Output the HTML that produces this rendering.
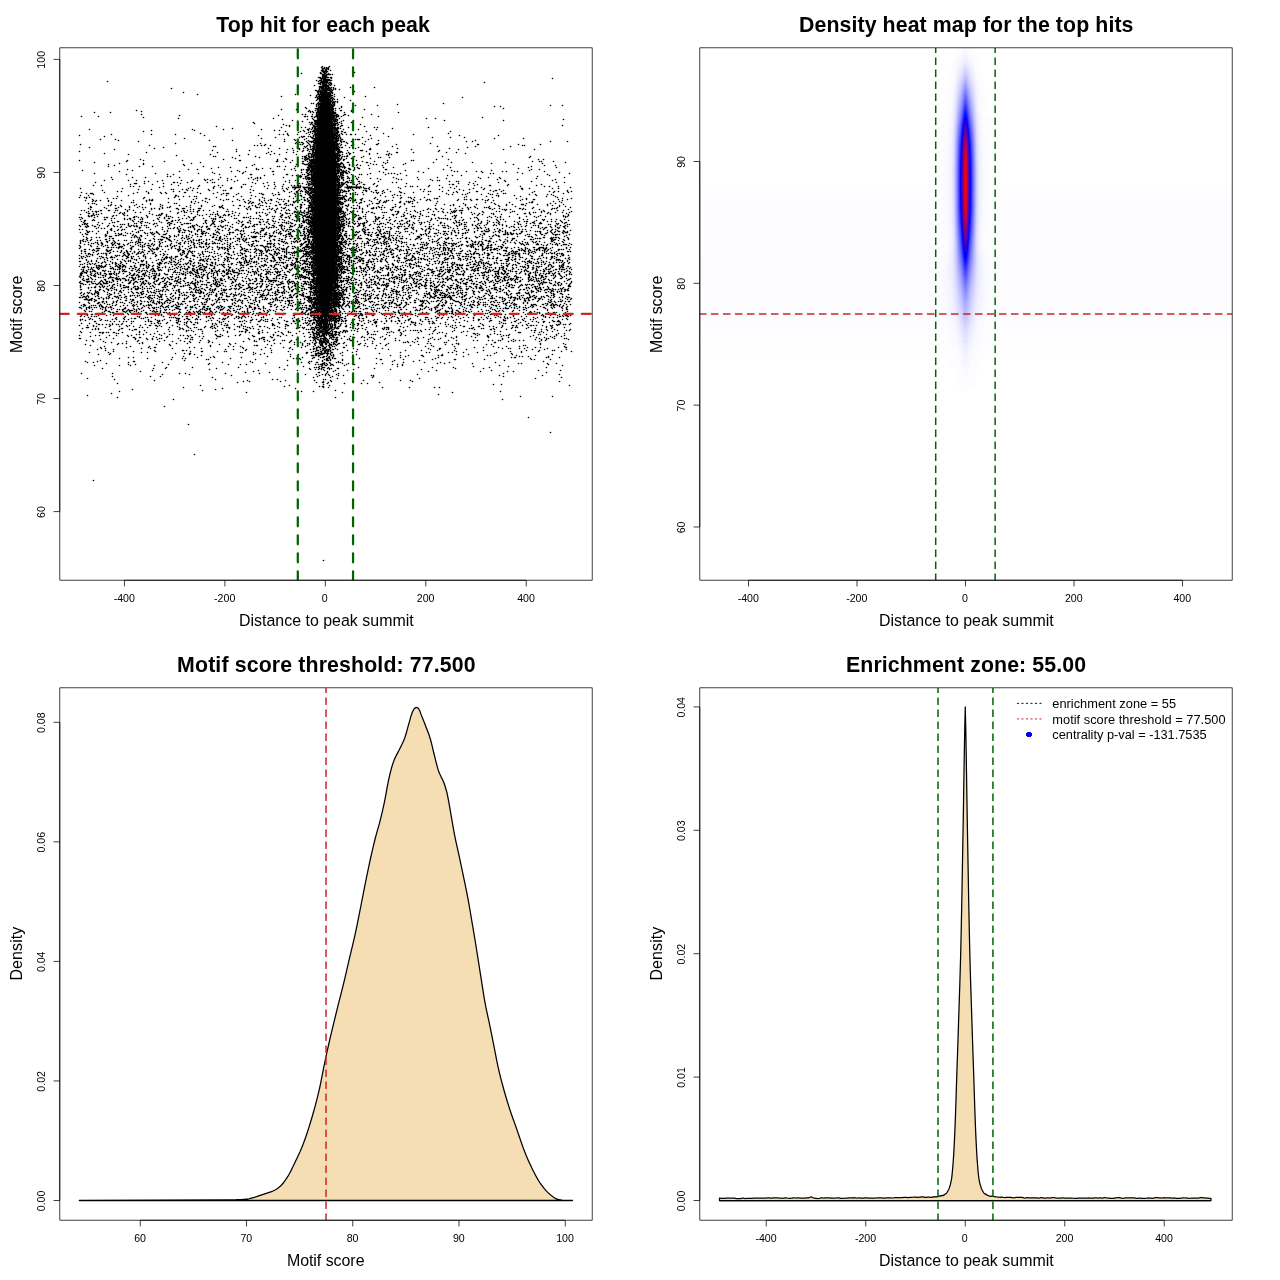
<!DOCTYPE html>
<html><head><meta charset="utf-8"><title>plot</title>
<style>
html,body{margin:0;padding:0;background:#fff}
svg{display:block;font-family:'Liberation Sans',sans-serif;will-change:transform;opacity:.9999}
.tk{font-size:10.6px;fill:#000}
.la{font-size:15.95px;fill:#000}
.ti{font-size:21.3px;font-weight:bold;fill:#000}
.lg{font-size:12.8px;fill:#000}
</style></head><body>
<svg width="1280" height="1280" viewBox="0 0 1280 1280">
<rect width="1280" height="1280" fill="#fff"/>
<defs>
<clipPath id="c1"><rect x="60.1" y="48" width="532" height="532"/></clipPath>
<clipPath id="c2"><rect x="700.1" y="48" width="532" height="532"/></clipPath>
<clipPath id="c3"><rect x="60.1" y="688" width="532" height="532"/></clipPath>
<clipPath id="c4"><rect x="700.1" y="688" width="532" height="532"/></clipPath>
</defs>

<!-- panel 1 -->
<g clip-path="url(#c1)">
<path d="M325.2 84.6 324.9 85.6 324.6 86.6 324.4 87.6 324.2 88.6 323.9 89.6 323.6 90.6 323.4 91.6 323.1 92.6 322.8 93.6 322.5 94.6 322.2 95.6 321.9 96.6 321.6 97.6 321.3 98.6 321.1 99.6 320.8 100.6 320.6 101.6 320.4 102.6 320.2 103.6 320.0 104.6 319.9 105.6 319.7 106.6 319.5 107.6 319.4 108.6 319.3 109.6 319.1 110.6 319.0 111.6 318.9 112.6 318.8 113.6 318.6 114.6 318.5 115.6 318.4 116.6 318.3 117.6 318.2 118.6 318.1 119.6 318.0 120.6 317.9 121.6 317.8 122.6 317.6 123.6 317.5 124.6 317.4 125.6 317.3 126.6 317.2 127.6 317.1 128.6 317.0 129.6 316.9 130.6 316.9 131.6 316.8 132.6 316.7 133.6 316.6 134.6 316.5 135.6 316.4 136.6 316.3 137.6 316.2 138.6 316.1 139.6 316.0 140.6 315.9 141.6 315.8 142.6 315.7 143.6 315.6 144.6 315.5 145.6 315.4 146.6 315.3 147.6 315.2 148.6 315.1 149.6 315.0 150.6 315.0 151.6 314.9 152.6 314.8 153.6 314.7 154.6 314.6 155.6 314.6 156.6 314.5 157.6 314.4 158.6 314.4 159.6 314.3 160.6 314.2 161.6 314.2 162.6 314.2 163.6 314.2 164.6 314.2 165.6 314.1 166.6 314.1 167.6 314.1 168.6 314.1 169.6 314.1 170.6 314.1 171.6 314.0 172.6 314.0 173.6 314.0 174.6 314.0 175.6 314.0 176.6 314.0 177.6 314.0 178.6 314.0 179.6 313.9 180.6 313.9 181.6 313.9 182.6 313.9 183.6 313.9 184.6 313.9 185.6 313.9 186.6 313.9 187.6 313.8 188.6 313.8 189.6 313.8 190.6 313.8 191.6 313.8 192.6 313.8 193.6 313.8 194.6 313.8 195.6 313.8 196.6 313.8 197.6 313.8 198.6 313.8 199.6 313.8 200.6 313.8 201.6 313.8 202.6 313.8 203.6 313.8 204.6 313.8 205.6 313.8 206.6 313.8 207.6 313.8 208.6 313.8 209.6 313.8 210.6 313.8 211.6 313.8 212.6 313.8 213.6 313.8 214.6 313.8 215.6 313.8 216.6 313.8 217.6 313.8 218.6 313.8 219.6 313.8 220.6 313.8 221.6 313.8 222.6 313.8 223.6 313.8 224.6 313.9 225.6 313.9 226.6 313.9 227.6 313.9 228.6 313.9 229.6 313.9 230.6 313.9 231.6 313.9 232.6 314.0 233.6 314.0 234.6 314.0 235.6 314.0 236.6 314.0 237.6 314.1 238.6 314.1 239.6 314.1 240.6 314.1 241.6 314.2 242.6 314.2 243.6 314.2 244.6 314.3 245.6 314.3 246.6 314.4 247.6 314.4 248.6 314.4 249.6 314.5 250.6 314.5 251.6 314.6 252.6 314.6 253.6 314.7 254.6 314.8 255.6 314.8 256.6 314.9 257.6 314.9 258.6 315.0 259.6 315.0 260.6 315.1 261.6 315.2 262.6 315.2 263.6 315.3 264.6 315.4 265.6 315.5 266.6 315.5 267.6 315.6 268.6 315.7 269.6 315.8 270.6 315.9 271.6 316.0 272.6 316.1 273.6 316.2 274.6 316.2 275.6 316.3 276.6 316.4 277.6 316.5 278.6 316.5 279.6 316.6 280.6 316.7 281.6 316.8 282.6 316.9 283.6 317.0 284.6 317.1 285.6 317.3 286.6 317.4 287.6 317.5 288.6 317.7 289.6 317.8 290.6 318.0 291.6 318.1 292.6 318.3 293.6 318.5 294.6 318.6 295.6 318.8 296.6 319.0 297.6 319.2 298.6 319.5 299.6 319.7 300.6 319.9 301.6 320.1 302.6 320.3 303.6 320.5 304.6 320.7 305.6 320.9 306.6 321.1 307.6 321.3 308.6 321.5 309.6 321.7 310.6 321.9 311.6 322.1 312.6 322.4 313.6 322.7 314.6 323.0 315.6 323.2 316.6 323.5 317.6 323.9 318.6 324.2 319.6 324.6 320.6 325.2 321.6 325.5 321.6 326.1 320.6 326.5 319.6 326.8 318.6 327.2 317.6 327.5 316.6 327.7 315.6 328.0 314.6 328.3 313.6 328.6 312.6 328.8 311.6 329.0 310.6 329.2 309.6 329.4 308.6 329.6 307.6 329.8 306.6 330.0 305.6 330.2 304.6 330.4 303.6 330.6 302.6 330.8 301.6 331.0 300.6 331.2 299.6 331.5 298.6 331.7 297.6 331.9 296.6 332.1 295.6 332.2 294.6 332.4 293.6 332.6 292.6 332.7 291.6 332.9 290.6 333.0 289.6 333.2 288.6 333.3 287.6 333.4 286.6 333.6 285.6 333.7 284.6 333.8 283.6 333.9 282.6 334.0 281.6 334.1 280.6 334.2 279.6 334.2 278.6 334.3 277.6 334.4 276.6 334.5 275.6 334.5 274.6 334.6 273.6 334.7 272.6 334.8 271.6 334.9 270.6 335.0 269.6 335.1 268.6 335.2 267.6 335.2 266.6 335.3 265.6 335.4 264.6 335.5 263.6 335.5 262.6 335.6 261.6 335.7 260.6 335.7 259.6 335.8 258.6 335.8 257.6 335.9 256.6 335.9 255.6 336.0 254.6 336.1 253.6 336.1 252.6 336.2 251.6 336.2 250.6 336.3 249.6 336.3 248.6 336.3 247.6 336.4 246.6 336.4 245.6 336.5 244.6 336.5 243.6 336.5 242.6 336.6 241.6 336.6 240.6 336.6 239.6 336.6 238.6 336.7 237.6 336.7 236.6 336.7 235.6 336.7 234.6 336.7 233.6 336.8 232.6 336.8 231.6 336.8 230.6 336.8 229.6 336.8 228.6 336.8 227.6 336.8 226.6 336.8 225.6 336.9 224.6 336.9 223.6 336.9 222.6 336.9 221.6 336.9 220.6 336.9 219.6 336.9 218.6 336.9 217.6 336.9 216.6 336.9 215.6 336.9 214.6 336.9 213.6 336.9 212.6 336.9 211.6 336.9 210.6 336.9 209.6 336.9 208.6 336.9 207.6 336.9 206.6 336.9 205.6 336.9 204.6 336.9 203.6 336.9 202.6 336.9 201.6 336.9 200.6 336.9 199.6 336.9 198.6 336.9 197.6 336.9 196.6 336.9 195.6 336.9 194.6 336.9 193.6 336.9 192.6 336.9 191.6 336.9 190.6 336.9 189.6 336.9 188.6 336.8 187.6 336.8 186.6 336.8 185.6 336.8 184.6 336.8 183.6 336.8 182.6 336.8 181.6 336.8 180.6 336.7 179.6 336.7 178.6 336.7 177.6 336.7 176.6 336.7 175.6 336.7 174.6 336.7 173.6 336.7 172.6 336.6 171.6 336.6 170.6 336.6 169.6 336.6 168.6 336.6 167.6 336.6 166.6 336.5 165.6 336.5 164.6 336.5 163.6 336.5 162.6 336.5 161.6 336.4 160.6 336.3 159.6 336.3 158.6 336.2 157.6 336.1 156.6 336.1 155.6 336.0 154.6 335.9 153.6 335.8 152.6 335.7 151.6 335.7 150.6 335.6 149.6 335.5 148.6 335.4 147.6 335.3 146.6 335.2 145.6 335.1 144.6 335.0 143.6 334.9 142.6 334.8 141.6 334.7 140.6 334.6 139.6 334.5 138.6 334.4 137.6 334.3 136.6 334.2 135.6 334.1 134.6 334.0 133.6 333.9 132.6 333.8 131.6 333.8 130.6 333.7 129.6 333.6 128.6 333.5 127.6 333.4 126.6 333.3 125.6 333.2 124.6 333.1 123.6 332.9 122.6 332.8 121.6 332.7 120.6 332.6 119.6 332.5 118.6 332.4 117.6 332.3 116.6 332.2 115.6 332.1 114.6 331.9 113.6 331.8 112.6 331.7 111.6 331.6 110.6 331.4 109.6 331.3 108.6 331.2 107.6 331.0 106.6 330.8 105.6 330.7 104.6 330.5 103.6 330.3 102.6 330.1 101.6 329.9 100.6 329.6 99.6 329.4 98.6 329.1 97.6 328.8 96.6 328.5 95.6 328.2 94.6 327.9 93.6 327.6 92.6 327.3 91.6 327.1 90.6 326.8 89.6 326.5 88.6 326.3 87.6 326.1 86.6 325.8 85.6 325.5 84.6Z" fill="#000"/>
<path d="M292 187.4h9m1.5 0h2m2 0h1.5m2.5 0h1M344.5 187.4h1m1.3 0h13.8m2.4 0h1.2" stroke="#000" stroke-width="1.6"/>
<path d="M322.5 66.5zm7 0zm-8 1zm3 0zm2 0zm2 0zm-6 1zm1 0zm1 0zm2 0zm1 0zm1 0zm-6 1zm3 0zm1 0zm2 0zm-7 1zm1 0zm1 0zm2 0zm1 0zm4 0zm-8 1zm1 0zm1 0zm1 0zm1 0zm1 0zm-7 1zm3 0zm1 0zm2 0zm28 0zm-53 1zm19 0zm1 0zm3 0zm1 0zm3 0zm-6 1zm1 0zm1 0zm2 0zm1 0zm1 0zm1 0zm1 0zm2 0zm-10 1zm1 0zm1 0zm1 0zm1 0zm-4 1zm1 0zm1 0zm1 0zm1 0zm-8 1zm1 0zm1 0zm2 0zm1 0zm1 0zm1 0zm1 0zm1 0zm1 0zm2 0zm1 0zm-11 1zm1 0zm1 0zm1 0zm1 0zm1 0zm6 0zm221 0zm-231 1zm2 0zm1 0zm1 0zm1 0zm1 0zm1 0zm1 0zm-13 1zm3 0zm1 0zm1 0zm2 0zm1 0zm1 0zm1 0zm1 0zm1 0zm1 0zm1 0zm1 0zm-224 1zm211 0zm3 0zm1 0zm1 0zm1 0zm1 0zm1 0zm1 0zm-7 1zm1 0zm1 0zm1 0zm1 0zm1 0zm1 0zm1 0zm2 0zm1 0zm154 0zm-166 1zm1 0zm1 0zm2 0zm1 0zm1 0zm2 0zm2 0zm2 0zm1 0zm-11 1zm2 0zm1 0zm1 0zm1 0zm1 0zm3 0zm2 0zm-17 1zm8 0zm1 0zm1 0zm1 0zm1 0zm1 0zm1 0zm2 0zm4 0zm-15 1zm1 0zm1 0zm1 0zm1 0zm1 0zm2 0zm1 0zm1 0zm-9 1zm1 0zm1 0zm1 0zm1 0zm3 0zm2 0zm1 0zm2 0zm2 0zm17 0zm24 0zm-203 1zm148 0zm2 0zm1 0zm1 0zm3 0zm1 0zm1 0zm1 0zm1 0zm3 0zm2 0zm-16 1zm2 0zm2 0zm4 0zm1 0zm1 0zm2 0zm2 0zm2 0zm4 0zm-24 1zm1 0zm2 0zm2 0zm2 0zm1 0zm4 0zm1 0zm1 0zm1 0zm2 0zm-15 1zm1 0zm1 0zm1 0zm1 0zm1 0zm8 0zm1 0zm23 0zm-171 1zm134 0zm1 0zm2 0zm1 0zm1 0zm1 0zm4 0zm1 0zm1 0zm2 0zm1 0zm-14 1zm2 0zm1 0zm1 0zm6 0zm1 0zm1 0zm2 0zm-135 1zm98 0zm22 0zm1 0zm1 0zm1 0zm1 0zm1 0zm6 0zm1 0zm1 0zm4 0zm-24 1zm6 0zm3 0zm2 0zm1 0zm6 0zm1 0zm1 0zm1 0zm1 0zm-51 1zm35 0zm2 0zm1 0zm1 0zm1 0zm7 0zm1 0zm1 0zm4 0zm31 0zm-50 1zm2 0zm2 0zm1 0zm1 0zm8 0zm2 0zm1 0zm12 0zm118 0zm-145 1zm1 0zm1 0zm1 0zm1 0zm9 0zm1 0zm2 0zm-16 1zm2 0zm1 0zm1 0zm8 0zm1 0zm2 0zm2 0zm3 0zm-21 1zm3 0zm1 0zm10 0zm2 0zm18 0zm-31 1zm1 0zm10 0zm1 0zm2 0zm2 0zm2 0zm-19 1zm9 0zm3 0zm2 0zm1 0zm1 0zm3 0zm-26 1zm2 0zm4 0zm1 0zm1 0zm1 0zm10 0zm2 0zm2 0zm109 0zm-127 1zm2 0zm1 0zm11 0zm1 0zm2 0zm1 0zm63 0zm-81 1zm2 0zm13 0zm1 0zm2 0zm21 0zm22 0zm173 0zm12 0zm-246 1zm2 0zm1 0zm12 0zm1 0zm1 0zm8 0zm153 0zm6 0zm-195 1zm13 0zm1 0zm12 0zm1 0zm9 0zm-35 1zm9 0zm1 0zm1 0zm1 0zm1 0zm12 0zm1 0zm1 0zm2 0zm4 0zm13 0zm151 0zm-222 1zm15 0zm21 0zm1 0zm13 0zm1 0zm1 0zm31 0zm-228 1zm173 0zm6 0zm2 0zm1 0zm13 0zm1 0zm3 0zm5 0zm1 0zm10 0zm-210 1zm167 0zm2 0zm2 0zm5 0zm1 0zm14 0zm1 0zm18 0zm-257 1zm16 0zm200 0zm3 0zm3 0zm1 0zm1 0zm13 0zm1 0zm1 0zm1 0zm1 0zm9 0zm54 0zm-82 1zm2 0zm14 0zm1 0zm1 0zm1 0zm-194 1zm161 0zm3 0zm7 0zm4 0zm1 0zm1 0zm14 0zm1 0zm3 0zm1 0zm7 0zm1 0zm26 0zm-192 1zm99 0zm38 0zm1 0zm1 0zm14 0zm1 0zm1 0zm1 0zm1 0zm2 0zm5 0zm5 0zm-267 1zm17 0zm206 0zm1 0zm2 0zm4 0zm1 0zm3 0zm1 0zm1 0zm1 0zm14 0zm1 0zm1 0zm2 0zm1 0zm1 0zm3 0zm37 0zm-235 1zm171 0zm3 0zm15 0zm1 0zm1 0zm2 0zm26 0zm120 0zm-304 1zm95 0zm39 0zm5 0zm1 0zm14 0zm1 0zm2 0zm4 0zm87 0zm9 0zm-153 1zm25 0zm6 0zm4 0zm15 0zm1 0zm1 0zm1 0zm1 0zm1 0zm226 0zm-271 1zm22 0zm1 0zm1 0zm1 0zm16 0zm1 0zm1 0zm2 0zm6 0zm10 0zm91 0zm59 0zm-201 1zm12 0zm1 0zm1 0zm1 0zm16 0zm1 0zm1 0zm1 0zm5 0zm-88 1zm56 0zm2 0zm1 0zm3 0zm1 0zm1 0zm17 0zm3 0zm2 0zm12 0zm-97 1zm57 0zm3 0zm1 0zm1 0zm1 0zm16 0zm1 0zm1 0zm1 0zm1 0zm4 0zm-58 1zm15 0zm12 0zm2 0zm3 0zm1 0zm1 0zm16 0zm1 0zm1 0zm3 0zm22 0zm-74 1zm3 0zm24 0zm1 0zm3 0zm13 0zm3 0zm1 0zm1 0zm2 0zm4 0zm1 0zm220 0zm-346 1zm73 0zm24 0zm1 0zm1 0zm1 0zm1 0zm9 0zm8 0zm6 0zm24 0zm-83 1zm20 0zm4 0zm7 0zm2 0zm1 0zm18 0zm1 0zm1 0zm2 0zm1 0zm10 0zm26 0zm3 0zm51 0zm-196 1zm77 0zm3 0zm2 0zm1 0zm1 0zm17 0zm1 0zm1 0zm1 0zm1 0zm1 0zm2 0zm52 0zm-303 1zm103 0zm31 0zm38 0zm46 0zm1 0zm3 0zm3 0zm1 0zm1 0zm18 0zm1 0zm1 0zm1 0zm6 0zm15 0zm18 0zm-225 1zm43 0zm80 0zm5 0zm24 0zm5 0zm5 0zm1 0zm2 0zm18 0zm2 0zm1 0zm-194 1zm142 0zm15 0zm4 0zm6 0zm2 0zm1 0zm1 0zm1 0zm1 0zm18 0zm1 0zm2 0zm1 0zm3 0zm1 0zm24 0zm84 0zm-152 1zm10 0zm2 0zm4 0zm1 0zm19 0zm2 0zm1 0zm1 0zm6 0zm1 0zm-145 1zm87 0zm19 0zm6 0zm3 0zm1 0zm18 0zm1 0zm1 0zm1 0zm4 0zm42 0zm65 0zm-337 1zm40 0zm24 0zm104 0zm4 0zm4 0zm10 0zm12 0zm5 0zm1 0zm1 0zm18 0zm1 0zm2 0zm2 0zm3 0zm4 0zm4 0zm1 0zm4 0zm58 0zm-334 1zm125 0zm54 0zm30 0zm25 0zm2 0zm1 0zm18 0zm1 0zm1 0zm2 0zm1 0zm31 0zm89 0zm39 0zm-394 1zm197 0zm2 0zm1 0zm4 0zm2 0zm3 0zm2 0zm19 0zm2 0zm1 0zm2 0zm49 0zm-113 1zm24 0zm3 0zm9 0zm1 0zm3 0zm1 0zm13 0zm5 0zm1 0zm1 0zm2 0zm2 0zm22 0zm70 0zm18 0zm14 0zm-280 1zm77 0zm45 0zm6 0zm1 0zm1 0zm1 0zm1 0zm18 0zm1 0zm1 0zm1 0zm1 0zm2 0zm31 0zm123 0zm29 0zm-423 1zm15 0zm169 0zm10 0zm10 0zm10 0zm1 0zm20 0zm1 0zm2 0zm3 0zm1 0zm13 0zm2 0zm1 0zm1 0zm9 0zm-250 1zm91 0zm23 0zm63 0zm13 0zm5 0zm1 0zm1 0zm1 0zm19 0zm1 0zm1 0zm1 0zm2 0zm38 0zm97 0zm-337 1zm146 0zm22 0zm3 0zm1 0zm1 0zm1 0zm1 0zm2 0zm19 0zm1 0zm1 0zm1 0zm3 0zm1 0zm2 0zm1 0zm7 0zm14 0zm101 0zm6 0zm78 0zm17 0zm-271 1zm3 0zm2 0zm1 0zm5 0zm4 0zm2 0zm1 0zm1 0zm20 0zm1 0zm5 0zm5 0zm-171 1zm85 0zm35 0zm8 0zm5 0zm6 0zm1 0zm20 0zm1 0zm1 0zm2 0zm8 0zm15 0zm16 0zm52 0zm-350 1zm185 0zm33 0zm2 0zm2 0zm7 0zm4 0zm1 0zm21 0zm1 0zm1 0zm1 0zm3 0zm12 0zm11 0zm12 0zm1 0zm19 0zm81 0zm1 0zm40 0zm22 0zm-391 1zm105 0zm3 0zm4 0zm3 0zm6 0zm37 0zm3 0zm3 0zm2 0zm20 0zm1 0zm1 0zm3 0zm5 0zm6 0zm171 0zm2 0zm-311 1zm2 0zm89 0zm2 0zm4 0zm2 0zm1 0zm1 0zm21 0zm1 0zm2 0zm54 0zm45 0zm38 0zm35 0zm-421 1zm74 0zm134 0zm8 0zm5 0zm3 0zm1 0zm21 0zm1 0zm1 0zm2 0zm2 0zm1 0zm7 0zm9 0zm109 0zm-313 1zm114 0zm11 0zm13 0zm6 0zm1 0zm4 0zm4 0zm5 0zm1 0zm1 0zm11 0zm10 0zm1 0zm1 0zm1 0zm17 0zm15 0zm27 0zm52 0zm-335 1zm122 0zm51 0zm12 0zm9 0zm2 0zm1 0zm2 0zm1 0zm21 0zm1 0zm1 0zm1 0zm1 0zm30 0zm1 0zm41 0zm47 0zm45 0zm31 0zm-322 1zm37 0zm44 0zm10 0zm4 0zm5 0zm1 0zm2 0zm21 0zm2 0zm1 0zm8 0zm13 0zm1 0zm1 0zm77 0zm-360 1zm157 0zm35 0zm26 0zm5 0zm7 0zm3 0zm1 0zm24 0zm1 0zm1 0zm1 0zm1 0zm25 0zm21 0zm51 0zm-292 1zm71 0zm51 0zm18 0zm7 0zm19 0zm1 0zm1 0zm23 0zm1 0zm1 0zm1 0zm2 0zm6 0zm5 0zm43 0zm1 0zm16 0zm33 0zm10 0zm-352 1zm162 0zm8 0zm34 0zm1 0zm1 0zm2 0zm2 0zm22 0zm1 0zm1 0zm8 0zm3 0zm1 0zm19 0zm8 0zm12 0zm76 0zm-337 1zm82 0zm38 0zm22 0zm9 0zm17 0zm12 0zm3 0zm1 0zm1 0zm1 0zm22 0zm1 0zm2 0zm3 0zm7 0zm20 0zm17 0zm2 0zm3 0zm-215 1zm63 0zm67 0zm2 0zm3 0zm2 0zm1 0zm22 0zm1 0zm1 0zm1 0zm1 0zm7 0zm41 0zm-175 1zm2 0zm40 0zm47 0zm2 0zm1 0zm3 0zm1 0zm2 0zm1 0zm1 0zm1 0zm22 0zm1 0zm2 0zm3 0zm2 0zm2 0zm1 0zm7 0zm9 0zm79 0zm88 0zm-298 1zm27 0zm45 0zm1 0zm1 0zm3 0zm1 0zm1 0zm2 0zm23 0zm1 0zm1 0zm3 0zm20 0zm17 0zm2 0zm9 0zm140 0zm-294 1zm50 0zm17 0zm3 0zm2 0zm1 0zm5 0zm23 0zm1 0zm1 0zm1 0zm2 0zm5 0zm5 0zm19 0zm-230 1zm83 0zm54 0zm9 0zm18 0zm2 0zm1 0zm2 0zm2 0zm1 0zm1 0zm1 0zm15 0zm8 0zm1 0zm2 0zm3 0zm1 0zm9 0zm83 0zm12 0zm90 0zm5 0zm-464 1zm48 0zm16 0zm39 0zm57 0zm1 0zm37 0zm15 0zm13 0zm4 0zm1 0zm1 0zm1 0zm1 0zm1 0zm23 0zm1 0zm1 0zm4 0zm13 0zm31 0zm24 0zm2 0zm-287 1zm38 0zm112 0zm1 0zm6 0zm19 0zm1 0zm4 0zm3 0zm1 0zm1 0zm1 0zm1 0zm7 0zm15 0zm1 0zm1 0zm24 0zm12 0zm158 0zm7 0zm2 0zm12 0zm-459 1zm106 0zm90 0zm19 0zm2 0zm1 0zm1 0zm1 0zm14 0zm8 0zm5 0zm6 0zm1 0zm4 0zm14 0zm1 0zm16 0zm4 0zm46 0zm18 0zm21 0zm33 0zm60 0zm-446 1zm24 0zm48 0zm111 0zm1 0zm5 0zm2 0zm1 0zm1 0zm1 0zm1 0zm22 0zm1 0zm1 0zm2 0zm1 0zm1 0zm28 0zm15 0zm20 0zm86 0zm51 0zm-434 1zm35 0zm40 0zm71 0zm42 0zm8 0zm1 0zm1 0zm1 0zm2 0zm1 0zm1 0zm2 0zm23 0zm1 0zm1 0zm1 0zm1 0zm3 0zm6 0zm8 0zm16 0zm3 0zm27 0zm110 0zm-399 1zm70 0zm68 0zm56 0zm1 0zm1 0zm1 0zm1 0zm1 0zm1 0zm6 0zm16 0zm1 0zm1 0zm1 0zm4 0zm6 0zm3 0zm1 0zm3 0zm4 0zm8 0zm14 0zm65 0zm97 0zm11 0zm-447 1zm31 0zm13 0zm51 0zm74 0zm2 0zm6 0zm10 0zm13 0zm1 0zm1 0zm1 0zm1 0zm1 0zm23 0zm1 0zm1 0zm1 0zm1 0zm1 0zm2 0zm1 0zm187 0zm-313 1zm12 0zm16 0zm61 0zm1 0zm2 0zm1 0zm1 0zm1 0zm23 0zm1 0zm1 0zm1 0zm3 0zm2 0zm1 0zm9 0zm3 0zm26 0zm10 0zm57 0zm78 0zm28 0zm-345 1zm45 0zm6 0zm8 0zm24 0zm14 0zm1 0zm2 0zm1 0zm1 0zm1 0zm23 0zm2 0zm5 0zm4 0zm1 0zm5 0zm4 0zm1 0zm10 0zm59 0zm90 0zm-391 1zm61 0zm9 0zm59 0zm2 0zm26 0zm7 0zm10 0zm2 0zm3 0zm1 0zm1 0zm1 0zm2 0zm1 0zm1 0zm5 0zm19 0zm1 0zm2 0zm1 0zm8 0zm1 0zm4 0zm31 0zm1 0zm57 0zm88 0zm8 0zm-457 1zm50 0zm105 0zm58 0zm6 0zm5 0zm1 0zm1 0zm2 0zm1 0zm1 0zm1 0zm19 0zm4 0zm1 0zm1 0zm1 0zm2 0zm2 0zm3 0zm7 0zm52 0zm46 0zm40 0zm38 0zm-410 1zm60 0zm52 0zm8 0zm6 0zm27 0zm1 0zm34 0zm3 0zm1 0zm1 0zm1 0zm24 0zm1 0zm1 0zm3 0zm1 0zm1 0zm1 0zm3 0zm31 0zm39 0zm36 0zm3 0zm9 0zm10 0zm5 0zm21 0zm4 0zm38 0zm-332 1zm31 0zm58 0zm5 0zm3 0zm2 0zm2 0zm10 0zm14 0zm1 0zm2 0zm1 0zm1 0zm1 0zm2 0zm1 0zm3 0zm34 0zm40 0zm59 0zm35 0zm42 0zm-465 1zm61 0zm43 0zm16 0zm28 0zm65 0zm1 0zm3 0zm1 0zm1 0zm18 0zm5 0zm1 0zm1 0zm2 0zm1 0zm2 0zm3 0zm1 0zm23 0zm18 0zm3 0zm3 0zm6 0zm90 0zm3 0zm29 0zm47 0zm-443 1zm41 0zm6 0zm46 0zm31 0zm1 0zm22 0zm13 0zm1 0zm15 0zm2 0zm4 0zm1 0zm1 0zm1 0zm2 0zm2 0zm15 0zm6 0zm4 0zm1 0zm1 0zm9 0zm8 0zm2 0zm6 0zm18 0zm12 0zm150 0zm-283 1zm28 0zm4 0zm2 0zm2 0zm7 0zm1 0zm3 0zm1 0zm1 0zm23 0zm2 0zm2 0zm2 0zm1 0zm63 0zm41 0zm5 0zm9 0zm88 0zm-382 1zm3 0zm65 0zm64 0zm1 0zm1 0zm4 0zm1 0zm5 0zm1 0zm1 0zm23 0zm1 0zm2 0zm2 0zm6 0zm8 0zm182 0zm-426 1zm21 0zm13 0zm34 0zm41 0zm31 0zm6 0zm3 0zm23 0zm17 0zm5 0zm2 0zm1 0zm1 0zm2 0zm1 0zm1 0zm2 0zm15 0zm5 0zm2 0zm2 0zm2 0zm1 0zm1 0zm5 0zm4 0zm6 0zm35 0zm24 0zm20 0zm41 0zm10 0zm11 0zm65 0zm-337 1zm21 0zm7 0zm2 0zm3 0zm43 0zm2 0zm2 0zm1 0zm1 0zm1 0zm1 0zm1 0zm1 0zm11 0zm11 0zm1 0zm1 0zm1 0zm3 0zm1 0zm5 0zm2 0zm7 0zm14 0zm7 0zm19 0zm50 0zm34 0zm20 0zm36 0zm-424 1zm92 0zm3 0zm5 0zm6 0zm13 0zm22 0zm45 0zm8 0zm2 0zm1 0zm2 0zm1 0zm1 0zm14 0zm9 0zm1 0zm1 0zm1 0zm4 0zm14 0zm23 0zm18 0zm3 0zm17 0zm12 0zm67 0zm20 0zm38 0zm-451 1zm24 0zm8 0zm26 0zm19 0zm11 0zm13 0zm5 0zm17 0zm10 0zm20 0zm32 0zm6 0zm16 0zm1 0zm1 0zm23 0zm1 0zm2 0zm4 0zm6 0zm2 0zm81 0zm5 0zm2 0zm65 0zm48 0zm-408 1zm4 0zm9 0zm34 0zm43 0zm51 0zm22 0zm2 0zm1 0zm2 0zm1 0zm24 0zm1 0zm8 0zm1 0zm11 0zm1 0zm19 0zm71 0zm7 0zm2 0zm17 0zm30 0zm26 0zm-436 1zm78 0zm1 0zm3 0zm10 0zm20 0zm5 0zm2 0zm38 0zm15 0zm7 0zm15 0zm18 0zm4 0zm2 0zm10 0zm14 0zm1 0zm1 0zm2 0zm1 0zm3 0zm2 0zm1 0zm2 0zm1 0zm2 0zm8 0zm31 0zm4 0zm73 0zm29 0zm58 0zm8 0zm-430 1zm1 0zm1 0zm8 0zm19 0zm17 0zm75 0zm8 0zm35 0zm1 0zm3 0zm6 0zm1 0zm2 0zm1 0zm1 0zm25 0zm1 0zm2 0zm2 0zm1 0zm9 0zm6 0zm15 0zm32 0zm52 0zm15 0zm-343 1zm22 0zm19 0zm72 0zm2 0zm29 0zm9 0zm23 0zm2 0zm2 0zm1 0zm1 0zm1 0zm3 0zm12 0zm8 0zm1 0zm1 0zm1 0zm2 0zm1 0zm1 0zm3 0zm8 0zm3 0zm6 0zm1 0zm9 0zm76 0zm3 0zm1 0zm15 0zm9 0zm31 0zm33 0zm-448 1zm8 0zm77 0zm21 0zm19 0zm4 0zm46 0zm23 0zm3 0zm3 0zm1 0zm2 0zm8 0zm1 0zm4 0zm21 0zm3 0zm1 0zm1 0zm1 0zm2 0zm5 0zm9 0zm21 0zm52 0zm10 0zm35 0zm15 0zm1 0zm17 0zm29 0zm-406 1zm3 0zm6 0zm24 0zm35 0zm16 0zm27 0zm10 0zm13 0zm11 0zm7 0zm16 0zm2 0zm12 0zm25 0zm1 0zm1 0zm2 0zm6 0zm2 0zm2 0zm5 0zm4 0zm16 0zm29 0zm5 0zm2 0zm5 0zm11 0zm28 0zm64 0zm24 0zm5 0zm9 0zm-399 1zm31 0zm23 0zm7 0zm11 0zm10 0zm47 0zm6 0zm4 0zm6 0zm1 0zm1 0zm2 0zm1 0zm2 0zm11 0zm10 0zm5 0zm1 0zm1 0zm1 0zm6 0zm6 0zm6 0zm3 0zm8 0zm29 0zm44 0zm8 0zm31 0zm89 0zm-490 1zm42 0zm66 0zm5 0zm4 0zm16 0zm17 0zm1 0zm36 0zm7 0zm8 0zm4 0zm9 0zm9 0zm4 0zm1 0zm1 0zm1 0zm1 0zm1 0zm24 0zm1 0zm9 0zm1 0zm2 0zm6 0zm3 0zm5 0zm1 0zm1 0zm2 0zm32 0zm54 0zm19 0zm11 0zm37 0zm1 0zm7 0zm23 0zm6 0zm-420 1zm13 0zm20 0zm2 0zm9 0zm4 0zm22 0zm42 0zm37 0zm7 0zm5 0zm5 0zm1 0zm3 0zm2 0zm1 0zm1 0zm1 0zm6 0zm17 0zm1 0zm1 0zm1 0zm2 0zm11 0zm17 0zm18 0zm33 0zm4 0zm15 0zm20 0zm10 0zm14 0zm16 0zm23 0zm-420 1zm85 0zm5 0zm17 0zm14 0zm2 0zm28 0zm30 0zm15 0zm3 0zm5 0zm3 0zm1 0zm2 0zm1 0zm24 0zm1 0zm2 0zm2 0zm2 0zm4 0zm1 0zm4 0zm10 0zm2 0zm1 0zm9 0zm1 0zm7 0zm65 0zm15 0zm27 0zm5 0zm1 0zm7 0zm64 0zm-450 1zm4 0zm25 0zm27 0zm6 0zm105 0zm7 0zm5 0zm1 0zm3 0zm2 0zm3 0zm2 0zm1 0zm3 0zm1 0zm1 0zm10 0zm14 0zm1 0zm2 0zm3 0zm1 0zm1 0zm1 0zm2 0zm18 0zm5 0zm11 0zm8 0zm9 0zm24 0zm5 0zm2 0zm12 0zm14 0zm20 0zm1 0zm16 0zm8 0zm33 0zm15 0zm5 0zm4 0zm9 0zm4 0zm-490 1zm23 0zm33 0zm11 0zm12 0zm5 0zm19 0zm1 0zm12 0zm20 0zm33 0zm28 0zm11 0zm7 0zm1 0zm8 0zm1 0zm2 0zm2 0zm1 0zm1 0zm1 0zm24 0zm1 0zm1 0zm1 0zm2 0zm13 0zm7 0zm11 0zm3 0zm2 0zm6 0zm16 0zm1 0zm12 0zm40 0zm4 0zm12 0zm63 0zm21 0zm15 0zm-482 1zm4 0zm1 0zm1 0zm41 0zm15 0zm13 0zm5 0zm34 0zm13 0zm10 0zm3 0zm1 0zm1 0zm10 0zm21 0zm2 0zm11 0zm22 0zm6 0zm7 0zm2 0zm1 0zm1 0zm3 0zm6 0zm12 0zm5 0zm1 0zm1 0zm7 0zm4 0zm3 0zm24 0zm5 0zm22 0zm42 0zm21 0zm21 0zm9 0zm6 0zm2 0zm58 0zm-470 1zm128 0zm15 0zm26 0zm1 0zm12 0zm3 0zm1 0zm16 0zm10 0zm3 0zm1 0zm3 0zm1 0zm23 0zm1 0zm2 0zm11 0zm5 0zm2 0zm6 0zm31 0zm34 0zm20 0zm4 0zm10 0zm3 0zm16 0zm9 0zm2 0zm37 0zm6 0zm12 0zm4 0zm-471 1zm8 0zm40 0zm47 0zm1 0zm50 0zm25 0zm22 0zm25 0zm2 0zm1 0zm8 0zm1 0zm2 0zm1 0zm14 0zm10 0zm1 0zm1 0zm1 0zm2 0zm3 0zm35 0zm12 0zm5 0zm3 0zm96 0zm2 0zm16 0zm22 0zm17 0zm-436 1zm58 0zm3 0zm5 0zm6 0zm5 0zm2 0zm37 0zm8 0zm14 0zm34 0zm6 0zm6 0zm9 0zm1 0zm1 0zm1 0zm11 0zm13 0zm6 0zm1 0zm2 0zm39 0zm54 0zm27 0zm20 0zm12 0zm22 0zm26 0zm9 0zm-476 1zm5 0zm2 0zm3 0zm55 0zm30 0zm42 0zm46 0zm41 0zm1 0zm5 0zm1 0zm1 0zm1 0zm1 0zm4 0zm4 0zm16 0zm1 0zm1 0zm1 0zm1 0zm1 0zm1 0zm7 0zm25 0zm18 0zm8 0zm7 0zm2 0zm4 0zm10 0zm40 0zm28 0zm65 0zm-471 1zm21 0zm6 0zm3 0zm27 0zm25 0zm28 0zm9 0zm1 0zm44 0zm14 0zm13 0zm16 0zm4 0zm10 0zm3 0zm2 0zm1 0zm4 0zm10 0zm9 0zm1 0zm1 0zm2 0zm1 0zm1 0zm2 0zm5 0zm2 0zm11 0zm12 0zm26 0zm11 0zm23 0zm2 0zm1 0zm79 0zm10 0zm36 0zm9 0zm-479 1zm57 0zm3 0zm27 0zm14 0zm16 0zm11 0zm6 0zm2 0zm9 0zm6 0zm16 0zm11 0zm1 0zm8 0zm2 0zm3 0zm17 0zm3 0zm3 0zm4 0zm1 0zm1 0zm24 0zm2 0zm1 0zm2 0zm2 0zm1 0zm3 0zm4 0zm3 0zm5 0zm1 0zm16 0zm36 0zm7 0zm7 0zm2 0zm29 0zm6 0zm2 0zm4 0zm6 0zm1 0zm5 0zm6 0zm34 0zm4 0zm7 0zm1 0zm24 0zm9 0zm-482 1zm8 0zm3 0zm4 0zm8 0zm13 0zm12 0zm13 0zm3 0zm2 0zm1 0zm50 0zm21 0zm16 0zm9 0zm11 0zm5 0zm4 0zm3 0zm17 0zm8 0zm3 0zm5 0zm1 0zm3 0zm1 0zm2 0zm2 0zm3 0zm8 0zm10 0zm3 0zm1 0zm8 0zm2 0zm2 0zm4 0zm1 0zm6 0zm8 0zm11 0zm6 0zm2 0zm4 0zm22 0zm12 0zm4 0zm27 0zm14 0zm14 0zm2 0zm6 0zm27 0zm42 0zm-470 1zm3 0zm13 0zm38 0zm45 0zm4 0zm10 0zm27 0zm12 0zm6 0zm11 0zm15 0zm7 0zm5 0zm5 0zm2 0zm12 0zm1 0zm3 0zm1 0zm1 0zm23 0zm1 0zm1 0zm1 0zm1 0zm4 0zm1 0zm19 0zm7 0zm8 0zm5 0zm2 0zm14 0zm6 0zm2 0zm2 0zm2 0zm25 0zm95 0zm21 0zm6 0zm-448 1zm20 0zm2 0zm35 0zm23 0zm7 0zm9 0zm38 0zm4 0zm3 0zm1 0zm9 0zm3 0zm13 0zm15 0zm1 0zm8 0zm7 0zm1 0zm2 0zm1 0zm23 0zm1 0zm1 0zm1 0zm1 0zm1 0zm1 0zm14 0zm4 0zm1 0zm18 0zm4 0zm2 0zm14 0zm1 0zm8 0zm1 0zm8 0zm68 0zm6 0zm18 0zm20 0zm2 0zm1 0zm29 0zm-473 1zm4 0zm2 0zm56 0zm24 0zm2 0zm18 0zm54 0zm3 0zm8 0zm7 0zm4 0zm15 0zm1 0zm23 0zm1 0zm1 0zm2 0zm9 0zm15 0zm1 0zm1 0zm1 0zm2 0zm1 0zm16 0zm13 0zm4 0zm1 0zm1 0zm26 0zm8 0zm24 0zm27 0zm31 0zm32 0zm24 0zm5 0zm-459 1zm15 0zm25 0zm6 0zm8 0zm10 0zm98 0zm21 0zm1 0zm4 0zm6 0zm2 0zm8 0zm1 0zm3 0zm6 0zm1 0zm1 0zm1 0zm24 0zm1 0zm2 0zm1 0zm1 0zm6 0zm21 0zm26 0zm9 0zm40 0zm9 0zm12 0zm11 0zm19 0zm11 0zm6 0zm9 0zm1 0zm1 0zm14 0zm10 0zm16 0zm-455 1zm2 0zm5 0zm5 0zm14 0zm28 0zm17 0zm11 0zm11 0zm13 0zm8 0zm11 0zm6 0zm1 0zm12 0zm3 0zm5 0zm2 0zm13 0zm1 0zm10 0zm2 0zm4 0zm9 0zm7 0zm1 0zm1 0zm1 0zm1 0zm17 0zm8 0zm1 0zm7 0zm1 0zm2 0zm5 0zm4 0zm10 0zm15 0zm53 0zm15 0zm3 0zm12 0zm33 0zm8 0zm19 0zm22 0zm5 0zm7 0zm-469 1zm31 0zm8 0zm10 0zm21 0zm10 0zm16 0zm15 0zm11 0zm7 0zm2 0zm23 0zm5 0zm6 0zm11 0zm3 0zm28 0zm3 0zm9 0zm2 0zm1 0zm1 0zm6 0zm14 0zm2 0zm1 0zm3 0zm3 0zm5 0zm12 0zm8 0zm11 0zm17 0zm5 0zm12 0zm2 0zm45 0zm15 0zm15 0zm10 0zm16 0zm44 0zm6 0zm-475 1zm1 0zm13 0zm14 0zm11 0zm8 0zm5 0zm3 0zm17 0zm5 0zm2 0zm21 0zm29 0zm1 0zm2 0zm26 0zm8 0zm1 0zm2 0zm22 0zm4 0zm10 0zm5 0zm1 0zm7 0zm1 0zm1 0zm1 0zm1 0zm1 0zm23 0zm1 0zm1 0zm2 0zm2 0zm9 0zm8 0zm14 0zm3 0zm3 0zm2 0zm3 0zm8 0zm1 0zm6 0zm68 0zm3 0zm5 0zm9 0zm2 0zm2 0zm45 0zm24 0zm13 0zm-482 1zm18 0zm9 0zm1 0zm35 0zm3 0zm5 0zm3 0zm14 0zm1 0zm5 0zm1 0zm1 0zm14 0zm1 0zm1 0zm23 0zm15 0zm8 0zm4 0zm19 0zm3 0zm5 0zm6 0zm1 0zm11 0zm5 0zm6 0zm2 0zm3 0zm1 0zm1 0zm17 0zm1 0zm6 0zm1 0zm1 0zm1 0zm1 0zm5 0zm7 0zm1 0zm2 0zm3 0zm3 0zm9 0zm1 0zm1 0zm3 0zm30 0zm22 0zm7 0zm6 0zm14 0zm7 0zm6 0zm9 0zm12 0zm1 0zm4 0zm5 0zm20 0zm1 0zm3 0zm9 0zm20 0zm2 0zm2 0zm-466 1zm35 0zm4 0zm14 0zm8 0zm8 0zm19 0zm12 0zm3 0zm34 0zm20 0zm3 0zm13 0zm4 0zm4 0zm5 0zm12 0zm8 0zm12 0zm3 0zm1 0zm1 0zm24 0zm1 0zm1 0zm1 0zm1 0zm6 0zm15 0zm19 0zm9 0zm2 0zm35 0zm3 0zm6 0zm7 0zm7 0zm18 0zm24 0zm10 0zm2 0zm2 0zm4 0zm12 0zm3 0zm14 0zm12 0zm17 0zm-487 1zm3 0zm16 0zm1 0zm7 0zm1 0zm6 0zm2 0zm10 0zm6 0zm50 0zm4 0zm11 0zm1 0zm4 0zm6 0zm65 0zm7 0zm5 0zm3 0zm11 0zm4 0zm4 0zm2 0zm1 0zm1 0zm1 0zm1 0zm3 0zm10 0zm9 0zm1 0zm1 0zm1 0zm1 0zm1 0zm6 0zm6 0zm38 0zm15 0zm8 0zm9 0zm31 0zm2 0zm3 0zm1 0zm1 0zm1 0zm43 0zm38 0zm14 0zm6 0zm-475 1zm4 0zm3 0zm1 0zm2 0zm29 0zm22 0zm21 0zm11 0zm3 0zm6 0zm3 0zm4 0zm20 0zm9 0zm2 0zm4 0zm43 0zm19 0zm1 0zm5 0zm4 0zm4 0zm1 0zm1 0zm1 0zm1 0zm1 0zm8 0zm16 0zm1 0zm1 0zm1 0zm1 0zm1 0zm1 0zm7 0zm2 0zm1 0zm4 0zm5 0zm6 0zm27 0zm2 0zm1 0zm12 0zm5 0zm5 0zm13 0zm5 0zm4 0zm9 0zm2 0zm2 0zm27 0zm14 0zm3 0zm13 0zm2 0zm27 0zm3 0zm27 0zm-485 1zm10 0zm18 0zm6 0zm4 0zm11 0zm5 0zm38 0zm6 0zm2 0zm11 0zm16 0zm22 0zm21 0zm3 0zm3 0zm7 0zm6 0zm10 0zm9 0zm2 0zm3 0zm2 0zm1 0zm1 0zm3 0zm1 0zm1 0zm4 0zm5 0zm1 0zm1 0zm8 0zm2 0zm7 0zm1 0zm1 0zm1 0zm1 0zm3 0zm2 0zm6 0zm11 0zm4 0zm5 0zm1 0zm10 0zm2 0zm2 0zm12 0zm6 0zm13 0zm11 0zm15 0zm4 0zm5 0zm2 0zm7 0zm10 0zm12 0zm27 0zm19 0zm4 0zm2 0zm6 0zm7 0zm7 0zm7 0zm7 0zm-481 1zm1 0zm4 0zm8 0zm18 0zm3 0zm2 0zm25 0zm12 0zm1 0zm15 0zm14 0zm26 0zm15 0zm7 0zm8 0zm9 0zm9 0zm15 0zm6 0zm1 0zm2 0zm3 0zm7 0zm5 0zm4 0zm2 0zm2 0zm1 0zm7 0zm3 0zm6 0zm5 0zm1 0zm1 0zm1 0zm1 0zm3 0zm1 0zm1 0zm1 0zm5 0zm25 0zm23 0zm10 0zm13 0zm30 0zm11 0zm13 0zm5 0zm12 0zm2 0zm31 0zm1 0zm4 0zm18 0zm3 0zm16 0zm-486 1zm13 0zm3 0zm2 0zm25 0zm29 0zm7 0zm2 0zm5 0zm31 0zm9 0zm4 0zm2 0zm3 0zm2 0zm7 0zm4 0zm1 0zm38 0zm15 0zm13 0zm3 0zm2 0zm1 0zm5 0zm1 0zm3 0zm1 0zm2 0zm2 0zm5 0zm5 0zm1 0zm11 0zm1 0zm2 0zm4 0zm3 0zm7 0zm1 0zm10 0zm27 0zm1 0zm3 0zm7 0zm7 0zm10 0zm12 0zm2 0zm38 0zm6 0zm4 0zm11 0zm8 0zm16 0zm13 0zm20 0zm18 0zm-480 1zm3 0zm1 0zm2 0zm19 0zm3 0zm8 0zm3 0zm19 0zm10 0zm2 0zm2 0zm6 0zm18 0zm15 0zm3 0zm16 0zm5 0zm2 0zm3 0zm6 0zm4 0zm21 0zm7 0zm15 0zm1 0zm8 0zm6 0zm6 0zm2 0zm1 0zm4 0zm3 0zm1 0zm2 0zm3 0zm3 0zm14 0zm2 0zm1 0zm5 0zm2 0zm8 0zm3 0zm2 0zm25 0zm10 0zm11 0zm9 0zm9 0zm12 0zm11 0zm9 0zm2 0zm21 0zm63 0zm23 0zm5 0zm-480 1zm1 0zm2 0zm6 0zm15 0zm22 0zm2 0zm11 0zm19 0zm2 0zm2 0zm18 0zm7 0zm14 0zm6 0zm5 0zm11 0zm19 0zm10 0zm12 0zm2 0zm6 0zm8 0zm7 0zm1 0zm3 0zm4 0zm2 0zm2 0zm1 0zm1 0zm2 0zm2 0zm1 0zm6 0zm1 0zm16 0zm1 0zm1 0zm2 0zm1 0zm1 0zm1 0zm11 0zm8 0zm2 0zm10 0zm26 0zm2 0zm8 0zm2 0zm2 0zm4 0zm7 0zm2 0zm24 0zm3 0zm34 0zm6 0zm5 0zm9 0zm17 0zm8 0zm4 0zm7 0zm18 0zm2 0zm2 0zm-488 1zm2 0zm13 0zm10 0zm2 0zm1 0zm26 0zm1 0zm4 0zm3 0zm6 0zm12 0zm5 0zm8 0zm6 0zm11 0zm4 0zm1 0zm25 0zm1 0zm2 0zm21 0zm1 0zm2 0zm2 0zm33 0zm4 0zm1 0zm3 0zm7 0zm1 0zm5 0zm4 0zm1 0zm1 0zm1 0zm1 0zm1 0zm1 0zm1 0zm20 0zm3 0zm1 0zm1 0zm1 0zm1 0zm1 0zm1 0zm3 0zm9 0zm5 0zm1 0zm15 0zm3 0zm1 0zm4 0zm6 0zm7 0zm15 0zm27 0zm17 0zm6 0zm13 0zm2 0zm11 0zm4 0zm6 0zm3 0zm19 0zm17 0zm29 0zm-483 1zm29 0zm3 0zm10 0zm5 0zm1 0zm12 0zm15 0zm7 0zm4 0zm1 0zm13 0zm4 0zm7 0zm10 0zm8 0zm2 0zm2 0zm19 0zm2 0zm14 0zm3 0zm3 0zm2 0zm15 0zm16 0zm8 0zm2 0zm4 0zm7 0zm1 0zm1 0zm1 0zm4 0zm1 0zm9 0zm10 0zm1 0zm1 0zm4 0zm3 0zm3 0zm9 0zm2 0zm1 0zm4 0zm11 0zm2 0zm4 0zm23 0zm1 0zm8 0zm5 0zm12 0zm4 0zm4 0zm2 0zm2 0zm2 0zm2 0zm7 0zm16 0zm7 0zm42 0zm-439 1zm13 0zm11 0zm1 0zm19 0zm3 0zm3 0zm4 0zm6 0zm2 0zm16 0zm21 0zm12 0zm2 0zm20 0zm2 0zm9 0zm36 0zm2 0zm5 0zm1 0zm11 0zm3 0zm10 0zm7 0zm4 0zm3 0zm1 0zm1 0zm3 0zm1 0zm1 0zm12 0zm2 0zm3 0zm3 0zm4 0zm1 0zm1 0zm2 0zm1 0zm1 0zm3 0zm2 0zm4 0zm6 0zm1 0zm16 0zm2 0zm9 0zm4 0zm41 0zm16 0zm3 0zm13 0zm15 0zm18 0zm4 0zm3 0zm20 0zm4 0zm15 0zm2 0zm7 0zm5 0zm8 0zm-480 1zm1 0zm7 0zm2 0zm17 0zm21 0zm21 0zm13 0zm1 0zm5 0zm3 0zm3 0zm12 0zm2 0zm13 0zm1 0zm6 0zm9 0zm4 0zm13 0zm11 0zm23 0zm12 0zm10 0zm2 0zm3 0zm4 0zm2 0zm1 0zm2 0zm1 0zm1 0zm2 0zm1 0zm20 0zm4 0zm2 0zm1 0zm4 0zm8 0zm1 0zm13 0zm9 0zm14 0zm6 0zm6 0zm1 0zm7 0zm9 0zm12 0zm7 0zm18 0zm4 0zm3 0zm16 0zm9 0zm10 0zm39 0zm7 0zm17 0zm8 0zm-487 1zm3 0zm33 0zm1 0zm15 0zm5 0zm3 0zm1 0zm17 0zm12 0zm1 0zm33 0zm7 0zm2 0zm5 0zm3 0zm1 0zm16 0zm3 0zm8 0zm9 0zm4 0zm4 0zm6 0zm2 0zm13 0zm8 0zm3 0zm3 0zm1 0zm1 0zm4 0zm2 0zm1 0zm1 0zm1 0zm3 0zm8 0zm6 0zm2 0zm5 0zm1 0zm3 0zm1 0zm1 0zm3 0zm3 0zm5 0zm3 0zm10 0zm6 0zm2 0zm4 0zm15 0zm5 0zm8 0zm2 0zm18 0zm29 0zm18 0zm7 0zm8 0zm9 0zm7 0zm9 0zm5 0zm5 0zm2 0zm1 0zm7 0zm13 0zm4 0zm4 0zm6 0zm-478 1zm15 0zm14 0zm2 0zm26 0zm5 0zm2 0zm14 0zm7 0zm1 0zm8 0zm3 0zm25 0zm8 0zm8 0zm7 0zm8 0zm5 0zm6 0zm1 0zm11 0zm1 0zm6 0zm12 0zm4 0zm2 0zm2 0zm4 0zm13 0zm1 0zm2 0zm2 0zm1 0zm1 0zm1 0zm1 0zm1 0zm7 0zm4 0zm13 0zm1 0zm1 0zm2 0zm5 0zm3 0zm3 0zm12 0zm2 0zm21 0zm1 0zm18 0zm7 0zm6 0zm2 0zm3 0zm5 0zm11 0zm1 0zm12 0zm3 0zm2 0zm1 0zm5 0zm2 0zm15 0zm6 0zm6 0zm3 0zm3 0zm18 0zm15 0zm1 0zm7 0zm22 0zm3 0zm1 0zm-482 1zm1 0zm2 0zm15 0zm7 0zm19 0zm6 0zm2 0zm5 0zm8 0zm5 0zm2 0zm11 0zm3 0zm1 0zm13 0zm2 0zm1 0zm1 0zm2 0zm13 0zm3 0zm6 0zm1 0zm25 0zm12 0zm18 0zm6 0zm12 0zm2 0zm3 0zm1 0zm9 0zm6 0zm1 0zm1 0zm2 0zm1 0zm1 0zm16 0zm4 0zm4 0zm1 0zm1 0zm2 0zm2 0zm1 0zm4 0zm1 0zm4 0zm2 0zm3 0zm2 0zm2 0zm1 0zm1 0zm10 0zm6 0zm1 0zm2 0zm7 0zm7 0zm3 0zm4 0zm3 0zm7 0zm7 0zm19 0zm4 0zm10 0zm7 0zm17 0zm2 0zm7 0zm11 0zm20 0zm8 0zm4 0zm4 0zm5 0zm1 0zm1 0zm15 0zm2 0zm6 0zm-482 1zm2 0zm2 0zm11 0zm23 0zm2 0zm2 0zm4 0zm25 0zm16 0zm5 0zm7 0zm1 0zm14 0zm15 0zm3 0zm18 0zm10 0zm1 0zm11 0zm2 0zm1 0zm3 0zm4 0zm5 0zm12 0zm14 0zm4 0zm9 0zm1 0zm1 0zm2 0zm1 0zm15 0zm8 0zm1 0zm1 0zm1 0zm1 0zm1 0zm1 0zm1 0zm3 0zm8 0zm5 0zm4 0zm7 0zm7 0zm2 0zm6 0zm7 0zm8 0zm2 0zm7 0zm3 0zm8 0zm9 0zm4 0zm26 0zm2 0zm3 0zm1 0zm7 0zm5 0zm9 0zm8 0zm5 0zm3 0zm12 0zm4 0zm2 0zm28 0zm2 0zm7 0zm10 0zm2 0zm-490 1zm8 0zm5 0zm7 0zm9 0zm5 0zm15 0zm3 0zm2 0zm3 0zm5 0zm3 0zm2 0zm11 0zm12 0zm23 0zm2 0zm3 0zm13 0zm10 0zm5 0zm2 0zm15 0zm11 0zm19 0zm1 0zm6 0zm1 0zm2 0zm8 0zm4 0zm5 0zm2 0zm1 0zm8 0zm1 0zm1 0zm1 0zm11 0zm3 0zm10 0zm1 0zm2 0zm2 0zm1 0zm1 0zm4 0zm10 0zm1 0zm4 0zm1 0zm5 0zm40 0zm3 0zm26 0zm4 0zm2 0zm3 0zm9 0zm3 0zm13 0zm3 0zm4 0zm5 0zm9 0zm3 0zm6 0zm4 0zm20 0zm7 0zm2 0zm3 0zm17 0zm5 0zm5 0zm-485 1zm5 0zm2 0zm1 0zm6 0zm1 0zm12 0zm7 0zm3 0zm4 0zm8 0zm1 0zm4 0zm2 0zm1 0zm18 0zm12 0zm12 0zm11 0zm2 0zm1 0zm6 0zm3 0zm4 0zm1 0zm7 0zm1 0zm3 0zm3 0zm2 0zm7 0zm11 0zm4 0zm4 0zm3 0zm2 0zm12 0zm8 0zm7 0zm3 0zm6 0zm1 0zm1 0zm7 0zm2 0zm5 0zm3 0zm1 0zm1 0zm1 0zm1 0zm5 0zm6 0zm1 0zm4 0zm4 0zm4 0zm1 0zm1 0zm1 0zm1 0zm1 0zm6 0zm2 0zm2 0zm5 0zm6 0zm15 0zm4 0zm12 0zm4 0zm1 0zm2 0zm3 0zm4 0zm17 0zm4 0zm2 0zm17 0zm9 0zm7 0zm2 0zm10 0zm30 0zm5 0zm2 0zm8 0zm4 0zm13 0zm12 0zm5 0zm8 0zm1 0zm3 0zm-481 1zm12 0zm22 0zm6 0zm13 0zm1 0zm6 0zm2 0zm14 0zm12 0zm3 0zm11 0zm2 0zm3 0zm8 0zm5 0zm16 0zm10 0zm13 0zm1 0zm2 0zm18 0zm3 0zm2 0zm2 0zm3 0zm5 0zm8 0zm9 0zm2 0zm1 0zm3 0zm4 0zm3 0zm2 0zm1 0zm3 0zm4 0zm2 0zm2 0zm2 0zm2 0zm3 0zm4 0zm1 0zm1 0zm1 0zm1 0zm3 0zm1 0zm9 0zm12 0zm12 0zm2 0zm6 0zm3 0zm2 0zm7 0zm14 0zm2 0zm16 0zm14 0zm1 0zm1 0zm5 0zm27 0zm3 0zm5 0zm24 0zm5 0zm4 0zm13 0zm7 0zm4 0zm3 0zm1 0zm5 0zm6 0zm2 0zm5 0zm-468 1zm5 0zm3 0zm7 0zm28 0zm29 0zm2 0zm3 0zm4 0zm3 0zm14 0zm14 0zm1 0zm8 0zm8 0zm4 0zm14 0zm18 0zm1 0zm2 0zm4 0zm13 0zm3 0zm20 0zm2 0zm4 0zm2 0zm1 0zm23 0zm1 0zm1 0zm1 0zm1 0zm3 0zm20 0zm10 0zm18 0zm7 0zm7 0zm1 0zm1 0zm5 0zm9 0zm7 0zm1 0zm4 0zm15 0zm5 0zm4 0zm7 0zm1 0zm9 0zm3 0zm1 0zm3 0zm7 0zm9 0zm5 0zm38 0zm4 0zm14 0zm7 0zm-486 1zm3 0zm28 0zm1 0zm7 0zm4 0zm2 0zm11 0zm15 0zm12 0zm16 0zm5 0zm11 0zm4 0zm1 0zm2 0zm6 0zm2 0zm9 0zm1 0zm10 0zm7 0zm1 0zm17 0zm9 0zm15 0zm4 0zm5 0zm2 0zm1 0zm1 0zm5 0zm7 0zm1 0zm3 0zm1 0zm2 0zm1 0zm1 0zm1 0zm1 0zm3 0zm9 0zm3 0zm7 0zm2 0zm1 0zm1 0zm2 0zm9 0zm2 0zm9 0zm2 0zm3 0zm1 0zm9 0zm3 0zm3 0zm7 0zm14 0zm9 0zm9 0zm4 0zm4 0zm6 0zm26 0zm6 0zm18 0zm2 0zm6 0zm5 0zm17 0zm3 0zm3 0zm3 0zm18 0zm9 0zm3 0zm-469 1zm25 0zm6 0zm4 0zm19 0zm2 0zm25 0zm12 0zm1 0zm4 0zm1 0zm3 0zm9 0zm4 0zm14 0zm7 0zm6 0zm7 0zm3 0zm3 0zm2 0zm18 0zm1 0zm1 0zm13 0zm7 0zm3 0zm7 0zm6 0zm8 0zm2 0zm1 0zm1 0zm2 0zm7 0zm1 0zm4 0zm10 0zm2 0zm2 0zm1 0zm2 0zm1 0zm19 0zm3 0zm13 0zm2 0zm36 0zm9 0zm13 0zm14 0zm2 0zm4 0zm8 0zm2 0zm9 0zm7 0zm5 0zm10 0zm1 0zm5 0zm8 0zm1 0zm16 0zm17 0zm4 0zm6 0zm6 0zm7 0zm-483 1zm2 0zm3 0zm6 0zm9 0zm7 0zm18 0zm6 0zm18 0zm8 0zm3 0zm11 0zm1 0zm10 0zm2 0zm6 0zm4 0zm2 0zm1 0zm13 0zm23 0zm3 0zm11 0zm6 0zm14 0zm6 0zm5 0zm3 0zm4 0zm2 0zm5 0zm4 0zm1 0zm3 0zm1 0zm2 0zm1 0zm1 0zm1 0zm6 0zm1 0zm4 0zm13 0zm1 0zm1 0zm3 0zm3 0zm1 0zm7 0zm3 0zm3 0zm4 0zm1 0zm15 0zm1 0zm6 0zm1 0zm2 0zm7 0zm2 0zm7 0zm2 0zm9 0zm9 0zm4 0zm14 0zm1 0zm1 0zm3 0zm6 0zm20 0zm7 0zm1 0zm3 0zm1 0zm1 0zm1 0zm7 0zm3 0zm4 0zm3 0zm16 0zm1 0zm4 0zm9 0zm2 0zm2 0zm1 0zm10 0zm5 0zm3 0zm1 0zm4 0zm1 0zm3 0zm-487 1zm7 0zm1 0zm19 0zm18 0zm11 0zm2 0zm6 0zm6 0zm2 0zm4 0zm1 0zm22 0zm3 0zm2 0zm7 0zm11 0zm4 0zm10 0zm2 0zm11 0zm1 0zm2 0zm1 0zm18 0zm2 0zm3 0zm1 0zm3 0zm6 0zm7 0zm3 0zm3 0zm11 0zm10 0zm4 0zm4 0zm1 0zm1 0zm1 0zm1 0zm1 0zm9 0zm15 0zm1 0zm2 0zm15 0zm2 0zm1 0zm6 0zm1 0zm3 0zm1 0zm3 0zm4 0zm3 0zm5 0zm5 0zm11 0zm11 0zm18 0zm9 0zm13 0zm4 0zm3 0zm7 0zm2 0zm7 0zm19 0zm6 0zm6 0zm2 0zm3 0zm11 0zm19 0zm7 0zm4 0zm3 0zm8 0zm3 0zm1 0zm1 0zm-482 1zm11 0zm11 0zm8 0zm3 0zm3 0zm6 0zm3 0zm15 0zm2 0zm4 0zm3 0zm4 0zm8 0zm29 0zm6 0zm1 0zm1 0zm2 0zm3 0zm5 0zm6 0zm10 0zm11 0zm4 0zm11 0zm3 0zm7 0zm4 0zm4 0zm5 0zm2 0zm1 0zm7 0zm1 0zm1 0zm10 0zm3 0zm3 0zm3 0zm2 0zm1 0zm1 0zm14 0zm6 0zm3 0zm1 0zm1 0zm3 0zm4 0zm1 0zm18 0zm11 0zm5 0zm3 0zm2 0zm2 0zm2 0zm6 0zm4 0zm14 0zm12 0zm3 0zm6 0zm1 0zm1 0zm4 0zm4 0zm2 0zm5 0zm7 0zm4 0zm1 0zm2 0zm18 0zm1 0zm21 0zm2 0zm3 0zm1 0zm2 0zm3 0zm3 0zm1 0zm20 0zm5 0zm1 0zm6 0zm11 0zm-481 1zm4 0zm1 0zm18 0zm14 0zm1 0zm1 0zm12 0zm19 0zm1 0zm6 0zm4 0zm1 0zm1 0zm13 0zm11 0zm6 0zm2 0zm5 0zm11 0zm1 0zm1 0zm12 0zm2 0zm8 0zm4 0zm1 0zm18 0zm4 0zm1 0zm1 0zm14 0zm6 0zm2 0zm1 0zm1 0zm14 0zm4 0zm1 0zm2 0zm1 0zm1 0zm5 0zm1 0zm4 0zm3 0zm1 0zm2 0zm8 0zm2 0zm1 0zm4 0zm10 0zm2 0zm9 0zm2 0zm1 0zm3 0zm6 0zm1 0zm3 0zm8 0zm20 0zm11 0zm1 0zm2 0zm3 0zm17 0zm4 0zm4 0zm29 0zm4 0zm11 0zm8 0zm1 0zm1 0zm2 0zm1 0zm3 0zm1 0zm5 0zm10 0zm2 0zm6 0zm6 0zm1 0zm11 0zm2 0zm1 0zm1 0zm2 0zm10 0zm-464 1zm1 0zm9 0zm1 0zm2 0zm5 0zm2 0zm7 0zm3 0zm5 0zm1 0zm6 0zm22 0zm5 0zm4 0zm4 0zm4 0zm6 0zm13 0zm5 0zm7 0zm7 0zm17 0zm7 0zm21 0zm1 0zm2 0zm11 0zm2 0zm6 0zm5 0zm1 0zm3 0zm1 0zm1 0zm2 0zm1 0zm2 0zm1 0zm5 0zm22 0zm1 0zm1 0zm1 0zm1 0zm1 0zm1 0zm3 0zm1 0zm1 0zm3 0zm3 0zm2 0zm1 0zm5 0zm8 0zm2 0zm6 0zm1 0zm1 0zm6 0zm5 0zm2 0zm2 0zm4 0zm24 0zm5 0zm11 0zm8 0zm10 0zm1 0zm6 0zm20 0zm11 0zm3 0zm2 0zm27 0zm11 0zm8 0zm11 0zm11 0zm-483 1zm22 0zm4 0zm1 0zm1 0zm23 0zm2 0zm5 0zm13 0zm7 0zm1 0zm8 0zm4 0zm2 0zm10 0zm2 0zm9 0zm3 0zm1 0zm12 0zm7 0zm6 0zm9 0zm6 0zm3 0zm7 0zm2 0zm1 0zm1 0zm1 0zm4 0zm2 0zm2 0zm6 0zm1 0zm3 0zm1 0zm11 0zm3 0zm2 0zm1 0zm5 0zm8 0zm3 0zm2 0zm1 0zm1 0zm1 0zm3 0zm2 0zm3 0zm5 0zm11 0zm1 0zm1 0zm1 0zm2 0zm4 0zm7 0zm5 0zm13 0zm10 0zm1 0zm1 0zm1 0zm5 0zm10 0zm3 0zm15 0zm1 0zm1 0zm9 0zm2 0zm4 0zm41 0zm4 0zm10 0zm3 0zm6 0zm1 0zm18 0zm11 0zm1 0zm2 0zm33 0zm-478 1zm5 0zm5 0zm3 0zm32 0zm3 0zm3 0zm2 0zm24 0zm1 0zm2 0zm3 0zm13 0zm4 0zm5 0zm21 0zm1 0zm3 0zm3 0zm1 0zm21 0zm11 0zm1 0zm1 0zm1 0zm14 0zm16 0zm12 0zm7 0zm3 0zm1 0zm2 0zm2 0zm1 0zm10 0zm3 0zm6 0zm1 0zm3 0zm1 0zm1 0zm1 0zm3 0zm4 0zm7 0zm5 0zm19 0zm6 0zm2 0zm3 0zm4 0zm4 0zm22 0zm1 0zm22 0zm7 0zm14 0zm4 0zm10 0zm1 0zm5 0zm25 0zm25 0zm11 0zm1 0zm7 0zm2 0zm2 0zm1 0zm2 0zm9 0zm-480 1zm22 0zm3 0zm1 0zm26 0zm6 0zm8 0zm13 0zm1 0zm14 0zm3 0zm4 0zm1 0zm30 0zm1 0zm4 0zm3 0zm3 0zm3 0zm4 0zm1 0zm1 0zm4 0zm3 0zm3 0zm11 0zm9 0zm10 0zm11 0zm4 0zm1 0zm4 0zm4 0zm2 0zm2 0zm6 0zm4 0zm3 0zm1 0zm3 0zm4 0zm9 0zm1 0zm1 0zm2 0zm1 0zm1 0zm5 0zm1 0zm3 0zm1 0zm4 0zm2 0zm1 0zm1 0zm5 0zm1 0zm12 0zm1 0zm5 0zm1 0zm3 0zm4 0zm3 0zm4 0zm1 0zm1 0zm4 0zm10 0zm1 0zm4 0zm7 0zm11 0zm6 0zm2 0zm1 0zm3 0zm6 0zm3 0zm5 0zm1 0zm3 0zm21 0zm1 0zm21 0zm1 0zm1 0zm21 0zm2 0zm2 0zm1 0zm10 0zm1 0zm1 0zm7 0zm9 0zm-485 1zm3 0zm5 0zm14 0zm1 0zm32 0zm2 0zm14 0zm4 0zm2 0zm1 0zm1 0zm6 0zm1 0zm5 0zm13 0zm6 0zm6 0zm2 0zm5 0zm3 0zm6 0zm1 0zm3 0zm3 0zm8 0zm9 0zm3 0zm3 0zm1 0zm27 0zm1 0zm7 0zm1 0zm3 0zm9 0zm4 0zm5 0zm1 0zm3 0zm1 0zm1 0zm3 0zm1 0zm4 0zm1 0zm3 0zm2 0zm5 0zm3 0zm2 0zm3 0zm1 0zm1 0zm3 0zm2 0zm4 0zm3 0zm1 0zm17 0zm2 0zm3 0zm2 0zm1 0zm3 0zm5 0zm4 0zm2 0zm5 0zm15 0zm5 0zm5 0zm12 0zm6 0zm8 0zm36 0zm17 0zm6 0zm7 0zm12 0zm6 0zm1 0zm2 0zm18 0zm1 0zm2 0zm1 0zm8 0zm5 0zm-488 1zm2 0zm5 0zm3 0zm7 0zm3 0zm9 0zm4 0zm5 0zm6 0zm2 0zm5 0zm7 0zm2 0zm9 0zm1 0zm11 0zm8 0zm1 0zm7 0zm5 0zm8 0zm3 0zm3 0zm2 0zm1 0zm7 0zm12 0zm2 0zm5 0zm2 0zm10 0zm6 0zm2 0zm10 0zm1 0zm8 0zm6 0zm4 0zm4 0zm1 0zm17 0zm4 0zm8 0zm1 0zm3 0zm1 0zm1 0zm10 0zm5 0zm3 0zm1 0zm3 0zm1 0zm5 0zm3 0zm10 0zm14 0zm5 0zm10 0zm6 0zm3 0zm3 0zm2 0zm31 0zm8 0zm15 0zm19 0zm14 0zm1 0zm3 0zm11 0zm7 0zm4 0zm5 0zm35 0zm2 0zm5 0zm6 0zm-484 1zm3 0zm2 0zm21 0zm1 0zm7 0zm22 0zm2 0zm16 0zm5 0zm6 0zm6 0zm14 0zm3 0zm3 0zm12 0zm9 0zm9 0zm14 0zm4 0zm5 0zm8 0zm1 0zm3 0zm2 0zm9 0zm3 0zm11 0zm1 0zm2 0zm7 0zm2 0zm2 0zm2 0zm2 0zm6 0zm1 0zm2 0zm1 0zm2 0zm2 0zm5 0zm8 0zm1 0zm11 0zm1 0zm1 0zm1 0zm3 0zm2 0zm3 0zm4 0zm9 0zm5 0zm5 0zm5 0zm6 0zm3 0zm1 0zm12 0zm2 0zm31 0zm2 0zm2 0zm8 0zm16 0zm6 0zm1 0zm5 0zm3 0zm4 0zm2 0zm7 0zm1 0zm1 0zm6 0zm8 0zm3 0zm15 0zm10 0zm4 0zm3 0zm12 0zm1 0zm10 0zm-482 1zm8 0zm7 0zm2 0zm4 0zm6 0zm5 0zm3 0zm15 0zm2 0zm3 0zm3 0zm1 0zm1 0zm2 0zm17 0zm3 0zm14 0zm4 0zm4 0zm7 0zm2 0zm6 0zm2 0zm5 0zm8 0zm13 0zm5 0zm14 0zm2 0zm35 0zm3 0zm8 0zm3 0zm7 0zm1 0zm3 0zm1 0zm2 0zm2 0zm1 0zm10 0zm1 0zm3 0zm2 0zm6 0zm1 0zm2 0zm1 0zm1 0zm1 0zm1 0zm1 0zm1 0zm22 0zm1 0zm6 0zm2 0zm1 0zm3 0zm4 0zm1 0zm6 0zm5 0zm6 0zm2 0zm2 0zm15 0zm2 0zm3 0zm6 0zm6 0zm7 0zm1 0zm12 0zm9 0zm7 0zm1 0zm3 0zm4 0zm11 0zm10 0zm7 0zm4 0zm5 0zm6 0zm2 0zm6 0zm2 0zm9 0zm10 0zm9 0zm-483 1zm11 0zm2 0zm4 0zm4 0zm1 0zm9 0zm3 0zm3 0zm2 0zm9 0zm9 0zm8 0zm3 0zm4 0zm8 0zm11 0zm7 0zm1 0zm5 0zm4 0zm6 0zm3 0zm4 0zm1 0zm3 0zm1 0zm3 0zm3 0zm1 0zm2 0zm2 0zm2 0zm5 0zm6 0zm23 0zm14 0zm1 0zm1 0zm1 0zm1 0zm3 0zm4 0zm7 0zm2 0zm4 0zm10 0zm2 0zm5 0zm2 0zm2 0zm1 0zm9 0zm3 0zm3 0zm8 0zm1 0zm2 0zm1 0zm1 0zm5 0zm3 0zm1 0zm3 0zm1 0zm3 0zm4 0zm3 0zm2 0zm2 0zm10 0zm3 0zm2 0zm3 0zm2 0zm13 0zm16 0zm9 0zm2 0zm9 0zm6 0zm1 0zm4 0zm1 0zm2 0zm2 0zm1 0zm2 0zm16 0zm6 0zm4 0zm6 0zm17 0zm10 0zm5 0zm2 0zm5 0zm10 0zm13 0zm6 0zm3 0zm10 0zm-485 1zm4 0zm10 0zm4 0zm10 0zm1 0zm5 0zm1 0zm4 0zm4 0zm8 0zm5 0zm4 0zm7 0zm3 0zm5 0zm11 0zm10 0zm13 0zm6 0zm6 0zm1 0zm2 0zm14 0zm5 0zm3 0zm6 0zm1 0zm3 0zm8 0zm3 0zm1 0zm15 0zm3 0zm3 0zm6 0zm21 0zm1 0zm1 0zm4 0zm1 0zm1 0zm2 0zm1 0zm1 0zm1 0zm5 0zm1 0zm7 0zm2 0zm7 0zm1 0zm1 0zm3 0zm1 0zm1 0zm3 0zm3 0zm5 0zm3 0zm8 0zm10 0zm1 0zm9 0zm2 0zm9 0zm11 0zm4 0zm3 0zm7 0zm2 0zm2 0zm3 0zm12 0zm6 0zm7 0zm3 0zm6 0zm1 0zm8 0zm2 0zm1 0zm2 0zm2 0zm3 0zm1 0zm2 0zm8 0zm4 0zm7 0zm19 0zm2 0zm3 0zm2 0zm8 0zm1 0zm1 0zm3 0zm6 0zm5 0zm3 0zm2 0zm6 0zm1 0zm1 0zm1 0zm5 0zm-492 1zm11 0zm11 0zm4 0zm2 0zm5 0zm3 0zm9 0zm6 0zm8 0zm4 0zm5 0zm1 0zm1 0zm4 0zm6 0zm8 0zm3 0zm4 0zm2 0zm14 0zm4 0zm35 0zm20 0zm3 0zm4 0zm1 0zm3 0zm1 0zm1 0zm12 0zm9 0zm18 0zm5 0zm1 0zm4 0zm1 0zm1 0zm13 0zm10 0zm1 0zm1 0zm1 0zm4 0zm5 0zm9 0zm7 0zm4 0zm2 0zm3 0zm8 0zm8 0zm8 0zm16 0zm1 0zm10 0zm2 0zm11 0zm3 0zm3 0zm3 0zm6 0zm1 0zm6 0zm2 0zm5 0zm2 0zm3 0zm1 0zm8 0zm1 0zm6 0zm1 0zm2 0zm1 0zm12 0zm21 0zm19 0zm3 0zm11 0zm4 0zm7 0zm-488 1zm11 0zm6 0zm6 0zm16 0zm1 0zm1 0zm1 0zm10 0zm1 0zm7 0zm2 0zm2 0zm6 0zm9 0zm2 0zm4 0zm2 0zm5 0zm2 0zm5 0zm3 0zm6 0zm6 0zm5 0zm1 0zm3 0zm3 0zm3 0zm8 0zm10 0zm3 0zm3 0zm7 0zm11 0zm3 0zm9 0zm2 0zm1 0zm1 0zm3 0zm3 0zm15 0zm4 0zm2 0zm6 0zm5 0zm1 0zm1 0zm1 0zm1 0zm2 0zm1 0zm1 0zm1 0zm1 0zm13 0zm1 0zm1 0zm3 0zm3 0zm1 0zm1 0zm1 0zm1 0zm3 0zm1 0zm12 0zm5 0zm11 0zm14 0zm2 0zm1 0zm9 0zm3 0zm2 0zm4 0zm15 0zm29 0zm5 0zm2 0zm9 0zm3 0zm1 0zm2 0zm5 0zm4 0zm5 0zm11 0zm2 0zm1 0zm-421 1zm27 0zm1 0zm3 0zm2 0zm3 0zm2 0zm1 0zm2 0zm10 0zm11 0zm6 0zm9 0zm14 0zm8 0zm12 0zm3 0zm2 0zm5 0zm2 0zm5 0zm4 0zm5 0zm2 0zm2 0zm1 0zm2 0zm5 0zm12 0zm23 0zm4 0zm2 0zm5 0zm4 0zm8 0zm8 0zm8 0zm1 0zm2 0zm1 0zm1 0zm2 0zm1 0zm1 0zm1 0zm1 0zm1 0zm7 0zm14 0zm1 0zm1 0zm2 0zm1 0zm4 0zm7 0zm2 0zm4 0zm6 0zm12 0zm21 0zm11 0zm12 0zm1 0zm1 0zm5 0zm3 0zm3 0zm7 0zm3 0zm1 0zm3 0zm24 0zm2 0zm9 0zm4 0zm2 0zm2 0zm1 0zm10 0zm1 0zm3 0zm2 0zm7 0zm4 0zm7 0zm8 0zm1 0zm5 0zm1 0zm1 0zm1 0zm1 0zm3 0zm6 0zm14 0zm4 0zm-491 1zm17 0zm1 0zm1 0zm1 0zm19 0zm5 0zm7 0zm1 0zm18 0zm3 0zm4 0zm2 0zm13 0zm4 0zm4 0zm6 0zm4 0zm1 0zm17 0zm12 0zm3 0zm3 0zm2 0zm3 0zm4 0zm8 0zm2 0zm11 0zm10 0zm12 0zm4 0zm2 0zm3 0zm6 0zm1 0zm4 0zm1 0zm4 0zm2 0zm5 0zm2 0zm1 0zm1 0zm1 0zm9 0zm5 0zm2 0zm7 0zm1 0zm2 0zm1 0zm1 0zm5 0zm2 0zm2 0zm5 0zm15 0zm5 0zm2 0zm3 0zm4 0zm1 0zm4 0zm5 0zm1 0zm16 0zm3 0zm3 0zm5 0zm2 0zm1 0zm5 0zm4 0zm2 0zm2 0zm4 0zm2 0zm3 0zm1 0zm3 0zm2 0zm6 0zm15 0zm7 0zm3 0zm2 0zm7 0zm2 0zm1 0zm4 0zm5 0zm5 0zm10 0zm4 0zm2 0zm11 0zm1 0zm4 0zm2 0zm1 0zm4 0zm16 0zm-482 1zm1 0zm4 0zm4 0zm13 0zm5 0zm20 0zm7 0zm4 0zm8 0zm3 0zm1 0zm2 0zm1 0zm5 0zm6 0zm9 0zm1 0zm2 0zm7 0zm18 0zm7 0zm6 0zm6 0zm3 0zm1 0zm13 0zm1 0zm4 0zm1 0zm3 0zm4 0zm2 0zm2 0zm7 0zm3 0zm5 0zm3 0zm2 0zm4 0zm1 0zm1 0zm2 0zm14 0zm4 0zm1 0zm1 0zm2 0zm4 0zm1 0zm1 0zm3 0zm3 0zm7 0zm1 0zm2 0zm6 0zm2 0zm1 0zm1 0zm1 0zm4 0zm5 0zm4 0zm1 0zm4 0zm2 0zm14 0zm12 0zm2 0zm3 0zm5 0zm3 0zm6 0zm2 0zm1 0zm11 0zm10 0zm4 0zm5 0zm4 0zm2 0zm3 0zm4 0zm23 0zm1 0zm2 0zm4 0zm1 0zm1 0zm6 0zm1 0zm2 0zm1 0zm1 0zm4 0zm19 0zm1 0zm3 0zm3 0zm4 0zm5 0zm2 0zm1 0zm2 0zm5 0zm1 0zm3 0zm10 0zm1 0zm2 0zm2 0zm6 0zm-488 1zm11 0zm2 0zm3 0zm1 0zm8 0zm1 0zm2 0zm1 0zm11 0zm5 0zm18 0zm7 0zm27 0zm1 0zm3 0zm1 0zm6 0zm38 0zm13 0zm4 0zm1 0zm11 0zm3 0zm1 0zm1 0zm4 0zm2 0zm2 0zm2 0zm8 0zm7 0zm13 0zm2 0zm1 0zm2 0zm6 0zm1 0zm1 0zm1 0zm1 0zm1 0zm5 0zm12 0zm4 0zm1 0zm1 0zm2 0zm1 0zm1 0zm9 0zm2 0zm1 0zm1 0zm1 0zm3 0zm2 0zm5 0zm3 0zm15 0zm2 0zm5 0zm2 0zm6 0zm2 0zm2 0zm3 0zm5 0zm9 0zm2 0zm10 0zm11 0zm2 0zm3 0zm2 0zm1 0zm3 0zm8 0zm7 0zm13 0zm5 0zm3 0zm7 0zm6 0zm1 0zm1 0zm1 0zm6 0zm7 0zm2 0zm2 0zm1 0zm4 0zm2 0zm6 0zm3 0zm3 0zm2 0zm3 0zm4 0zm7 0zm-477 1zm3 0zm1 0zm11 0zm11 0zm1 0zm5 0zm4 0zm4 0zm5 0zm1 0zm3 0zm4 0zm5 0zm3 0zm6 0zm1 0zm3 0zm8 0zm5 0zm13 0zm5 0zm1 0zm4 0zm2 0zm2 0zm2 0zm8 0zm3 0zm2 0zm7 0zm14 0zm5 0zm12 0zm1 0zm2 0zm7 0zm5 0zm2 0zm4 0zm1 0zm7 0zm1 0zm7 0zm2 0zm2 0zm8 0zm2 0zm1 0zm1 0zm1 0zm1 0zm1 0zm2 0zm2 0zm1 0zm1 0zm2 0zm2 0zm1 0zm1 0zm4 0zm2 0zm12 0zm2 0zm3 0zm2 0zm1 0zm1 0zm7 0zm10 0zm9 0zm3 0zm5 0zm2 0zm3 0zm4 0zm1 0zm6 0zm9 0zm8 0zm9 0zm1 0zm12 0zm7 0zm5 0zm9 0zm1 0zm9 0zm1 0zm6 0zm3 0zm5 0zm31 0zm5 0zm2 0zm2 0zm1 0zm1 0zm7 0zm1 0zm3 0zm4 0zm2 0zm10 0zm2 0zm10 0zm11 0zm1 0zm2 0zm-477 1zm17 0zm10 0zm4 0zm3 0zm7 0zm4 0zm3 0zm2 0zm11 0zm28 0zm1 0zm5 0zm3 0zm11 0zm7 0zm2 0zm14 0zm8 0zm7 0zm10 0zm4 0zm7 0zm5 0zm9 0zm3 0zm6 0zm2 0zm2 0zm1 0zm2 0zm2 0zm2 0zm1 0zm10 0zm1 0zm1 0zm1 0zm1 0zm1 0zm1 0zm1 0zm1 0zm1 0zm2 0zm4 0zm7 0zm1 0zm1 0zm6 0zm1 0zm1 0zm1 0zm1 0zm1 0zm2 0zm1 0zm7 0zm3 0zm1 0zm8 0zm3 0zm1 0zm3 0zm11 0zm7 0zm2 0zm1 0zm16 0zm11 0zm1 0zm15 0zm4 0zm6 0zm3 0zm4 0zm23 0zm10 0zm7 0zm1 0zm17 0zm4 0zm2 0zm14 0zm2 0zm4 0zm9 0zm6 0zm4 0zm-473 1zm4 0zm3 0zm1 0zm9 0zm3 0zm2 0zm2 0zm1 0zm3 0zm14 0zm4 0zm1 0zm4 0zm5 0zm1 0zm2 0zm7 0zm5 0zm1 0zm10 0zm17 0zm4 0zm3 0zm5 0zm6 0zm4 0zm12 0zm3 0zm7 0zm3 0zm1 0zm9 0zm4 0zm1 0zm2 0zm12 0zm3 0zm2 0zm2 0zm6 0zm5 0zm2 0zm1 0zm2 0zm7 0zm6 0zm2 0zm9 0zm2 0zm1 0zm1 0zm1 0zm3 0zm2 0zm1 0zm1 0zm4 0zm17 0zm2 0zm2 0zm1 0zm1 0zm10 0zm10 0zm4 0zm9 0zm8 0zm4 0zm6 0zm11 0zm2 0zm1 0zm3 0zm3 0zm1 0zm3 0zm7 0zm2 0zm3 0zm3 0zm10 0zm2 0zm4 0zm4 0zm4 0zm2 0zm1 0zm1 0zm5 0zm5 0zm3 0zm1 0zm2 0zm1 0zm1 0zm6 0zm3 0zm1 0zm9 0zm2 0zm6 0zm3 0zm3 0zm1 0zm2 0zm2 0zm2 0zm1 0zm4 0zm2 0zm3 0zm5 0zm9 0zm4 0zm2 0zm3 0zm1 0zm2 0zm3 0zm2 0zm2 0zm1 0zm-474 1zm2 0zm2 0zm5 0zm9 0zm18 0zm4 0zm1 0zm7 0zm8 0zm11 0zm5 0zm4 0zm3 0zm13 0zm2 0zm5 0zm13 0zm3 0zm17 0zm8 0zm1 0zm5 0zm8 0zm19 0zm9 0zm1 0zm3 0zm3 0zm9 0zm4 0zm14 0zm1 0zm1 0zm2 0zm1 0zm1 0zm2 0zm5 0zm2 0zm2 0zm11 0zm4 0zm1 0zm1 0zm5 0zm3 0zm6 0zm2 0zm6 0zm1 0zm8 0zm3 0zm3 0zm5 0zm2 0zm1 0zm8 0zm1 0zm8 0zm9 0zm10 0zm3 0zm13 0zm2 0zm1 0zm2 0zm2 0zm2 0zm1 0zm2 0zm19 0zm1 0zm1 0zm3 0zm2 0zm6 0zm3 0zm6 0zm1 0zm11 0zm8 0zm1 0zm6 0zm3 0zm1 0zm9 0zm14 0zm14 0zm5 0zm2 0zm-484 1zm7 0zm6 0zm14 0zm9 0zm2 0zm2 0zm4 0zm2 0zm3 0zm15 0zm13 0zm7 0zm18 0zm5 0zm6 0zm1 0zm1 0zm5 0zm10 0zm9 0zm13 0zm7 0zm2 0zm5 0zm5 0zm6 0zm3 0zm2 0zm4 0zm1 0zm6 0zm4 0zm5 0zm3 0zm8 0zm2 0zm9 0zm3 0zm3 0zm4 0zm1 0zm10 0zm2 0zm2 0zm5 0zm3 0zm1 0zm5 0zm2 0zm1 0zm2 0zm1 0zm1 0zm3 0zm1 0zm1 0zm11 0zm4 0zm1 0zm3 0zm1 0zm1 0zm5 0zm4 0zm13 0zm9 0zm2 0zm4 0zm12 0zm9 0zm6 0zm11 0zm2 0zm5 0zm2 0zm20 0zm8 0zm1 0zm15 0zm1 0zm2 0zm1 0zm5 0zm1 0zm6 0zm11 0zm11 0zm1 0zm15 0zm5 0zm1 0zm5 0zm-487 1zm2 0zm4 0zm2 0zm10 0zm2 0zm10 0zm5 0zm6 0zm4 0zm1 0zm4 0zm2 0zm5 0zm5 0zm2 0zm10 0zm11 0zm5 0zm4 0zm1 0zm1 0zm8 0zm1 0zm8 0zm9 0zm3 0zm2 0zm4 0zm3 0zm6 0zm5 0zm19 0zm1 0zm4 0zm4 0zm13 0zm6 0zm11 0zm1 0zm1 0zm11 0zm1 0zm4 0zm1 0zm2 0zm2 0zm1 0zm2 0zm1 0zm2 0zm1 0zm17 0zm1 0zm1 0zm2 0zm1 0zm1 0zm1 0zm1 0zm1 0zm1 0zm6 0zm1 0zm1 0zm7 0zm2 0zm20 0zm8 0zm2 0zm5 0zm3 0zm10 0zm6 0zm1 0zm11 0zm3 0zm6 0zm6 0zm10 0zm4 0zm9 0zm1 0zm2 0zm1 0zm2 0zm3 0zm22 0zm22 0zm4 0zm12 0zm1 0zm7 0zm12 0zm1 0zm2 0zm6 0zm-479 1zm4 0zm17 0zm1 0zm3 0zm4 0zm1 0zm1 0zm2 0zm13 0zm1 0zm3 0zm14 0zm17 0zm3 0zm1 0zm1 0zm2 0zm2 0zm4 0zm11 0zm1 0zm10 0zm3 0zm13 0zm14 0zm1 0zm2 0zm12 0zm1 0zm11 0zm4 0zm14 0zm1 0zm5 0zm1 0zm1 0zm1 0zm3 0zm2 0zm4 0zm3 0zm8 0zm9 0zm2 0zm1 0zm1 0zm8 0zm8 0zm2 0zm1 0zm2 0zm1 0zm1 0zm1 0zm1 0zm2 0zm2 0zm4 0zm2 0zm1 0zm1 0zm5 0zm3 0zm1 0zm23 0zm9 0zm1 0zm5 0zm6 0zm8 0zm2 0zm4 0zm18 0zm9 0zm8 0zm5 0zm12 0zm3 0zm1 0zm5 0zm4 0zm4 0zm10 0zm11 0zm1 0zm3 0zm8 0zm2 0zm21 0zm3 0zm5 0zm1 0zm4 0zm13 0zm-490 1zm3 0zm15 0zm3 0zm7 0zm19 0zm5 0zm1 0zm7 0zm6 0zm5 0zm14 0zm2 0zm4 0zm3 0zm8 0zm9 0zm15 0zm3 0zm10 0zm6 0zm3 0zm4 0zm2 0zm4 0zm4 0zm4 0zm5 0zm2 0zm6 0zm3 0zm1 0zm2 0zm3 0zm6 0zm1 0zm5 0zm2 0zm7 0zm1 0zm1 0zm5 0zm1 0zm1 0zm3 0zm6 0zm1 0zm2 0zm2 0zm1 0zm1 0zm1 0zm1 0zm1 0zm1 0zm1 0zm3 0zm8 0zm7 0zm2 0zm1 0zm1 0zm1 0zm5 0zm3 0zm5 0zm1 0zm1 0zm1 0zm4 0zm1 0zm1 0zm9 0zm4 0zm5 0zm5 0zm12 0zm1 0zm5 0zm1 0zm1 0zm5 0zm4 0zm5 0zm1 0zm2 0zm6 0zm4 0zm5 0zm6 0zm3 0zm1 0zm3 0zm2 0zm6 0zm1 0zm5 0zm2 0zm7 0zm13 0zm2 0zm3 0zm1 0zm3 0zm1 0zm11 0zm7 0zm11 0zm5 0zm1 0zm6 0zm2 0zm6 0zm5 0zm3 0zm11 0zm3 0zm-482 1zm18 0zm8 0zm5 0zm5 0zm12 0zm2 0zm22 0zm3 0zm2 0zm1 0zm7 0zm4 0zm5 0zm3 0zm10 0zm7 0zm1 0zm2 0zm4 0zm3 0zm4 0zm1 0zm10 0zm3 0zm8 0zm7 0zm2 0zm6 0zm7 0zm8 0zm8 0zm5 0zm4 0zm13 0zm1 0zm9 0zm1 0zm4 0zm1 0zm1 0zm1 0zm5 0zm2 0zm1 0zm2 0zm5 0zm2 0zm1 0zm3 0zm1 0zm1 0zm1 0zm1 0zm1 0zm1 0zm2 0zm4 0zm2 0zm10 0zm2 0zm8 0zm4 0zm1 0zm3 0zm4 0zm1 0zm3 0zm23 0zm2 0zm4 0zm1 0zm3 0zm3 0zm3 0zm1 0zm2 0zm4 0zm14 0zm1 0zm1 0zm11 0zm2 0zm3 0zm4 0zm3 0zm10 0zm1 0zm24 0zm1 0zm1 0zm1 0zm3 0zm3 0zm1 0zm4 0zm6 0zm9 0zm3 0zm13 0zm6 0zm1 0zm1 0zm1 0zm10 0zm-483 1zm5 0zm5 0zm11 0zm17 0zm4 0zm2 0zm6 0zm5 0zm2 0zm13 0zm5 0zm10 0zm7 0zm11 0zm1 0zm9 0zm1 0zm2 0zm1 0zm3 0zm12 0zm6 0zm3 0zm18 0zm1 0zm3 0zm15 0zm6 0zm1 0zm3 0zm1 0zm5 0zm6 0zm2 0zm4 0zm4 0zm4 0zm2 0zm1 0zm1 0zm2 0zm7 0zm1 0zm1 0zm5 0zm2 0zm4 0zm1 0zm1 0zm8 0zm1 0zm1 0zm1 0zm2 0zm3 0zm5 0zm2 0zm2 0zm5 0zm2 0zm2 0zm1 0zm5 0zm12 0zm5 0zm9 0zm3 0zm2 0zm7 0zm1 0zm2 0zm2 0zm1 0zm15 0zm10 0zm7 0zm16 0zm6 0zm9 0zm7 0zm14 0zm4 0zm1 0zm7 0zm4 0zm17 0zm12 0zm15 0zm2 0zm2 0zm2 0zm5 0zm-488 1zm1 0zm8 0zm3 0zm5 0zm8 0zm6 0zm10 0zm5 0zm3 0zm2 0zm11 0zm1 0zm4 0zm16 0zm7 0zm4 0zm1 0zm6 0zm10 0zm1 0zm13 0zm3 0zm20 0zm2 0zm10 0zm5 0zm2 0zm3 0zm2 0zm3 0zm2 0zm5 0zm4 0zm6 0zm2 0zm23 0zm1 0zm1 0zm6 0zm1 0zm1 0zm2 0zm3 0zm1 0zm1 0zm2 0zm3 0zm3 0zm4 0zm3 0zm2 0zm5 0zm1 0zm1 0zm1 0zm1 0zm2 0zm2 0zm2 0zm1 0zm2 0zm3 0zm2 0zm1 0zm5 0zm1 0zm3 0zm5 0zm2 0zm1 0zm2 0zm4 0zm3 0zm1 0zm5 0zm11 0zm8 0zm13 0zm11 0zm5 0zm1 0zm4 0zm3 0zm30 0zm3 0zm4 0zm1 0zm8 0zm18 0zm1 0zm8 0zm7 0zm2 0zm3 0zm1 0zm1 0zm2 0zm6 0zm6 0zm3 0zm16 0zm5 0zm-480 1zm11 0zm4 0zm3 0zm7 0zm3 0zm6 0zm12 0zm5 0zm8 0zm6 0zm7 0zm1 0zm5 0zm1 0zm4 0zm1 0zm4 0zm3 0zm10 0zm6 0zm4 0zm13 0zm1 0zm3 0zm8 0zm14 0zm2 0zm1 0zm1 0zm3 0zm2 0zm1 0zm1 0zm5 0zm1 0zm2 0zm11 0zm9 0zm1 0zm2 0zm2 0zm1 0zm1 0zm2 0zm6 0zm4 0zm2 0zm2 0zm5 0zm5 0zm1 0zm1 0zm1 0zm1 0zm1 0zm1 0zm3 0zm5 0zm3 0zm1 0zm5 0zm3 0zm1 0zm4 0zm1 0zm4 0zm4 0zm2 0zm6 0zm9 0zm1 0zm1 0zm3 0zm16 0zm11 0zm3 0zm2 0zm12 0zm3 0zm2 0zm19 0zm3 0zm1 0zm2 0zm2 0zm5 0zm2 0zm15 0zm1 0zm6 0zm2 0zm3 0zm2 0zm3 0zm8 0zm2 0zm21 0zm8 0zm4 0zm1 0zm3 0zm5 0zm3 0zm2 0zm6 0zm4 0zm3 0zm3 0zm2 0zm3 0zm5 0zm-485 1zm5 0zm3 0zm3 0zm6 0zm11 0zm3 0zm1 0zm4 0zm6 0zm9 0zm11 0zm11 0zm2 0zm1 0zm1 0zm3 0zm4 0zm9 0zm8 0zm2 0zm3 0zm3 0zm5 0zm2 0zm6 0zm6 0zm3 0zm16 0zm1 0zm8 0zm4 0zm6 0zm8 0zm25 0zm9 0zm2 0zm6 0zm3 0zm1 0zm1 0zm2 0zm3 0zm3 0zm1 0zm1 0zm6 0zm8 0zm1 0zm5 0zm1 0zm2 0zm1 0zm2 0zm1 0zm3 0zm3 0zm5 0zm2 0zm7 0zm1 0zm11 0zm18 0zm14 0zm3 0zm1 0zm6 0zm13 0zm6 0zm3 0zm4 0zm9 0zm3 0zm13 0zm7 0zm4 0zm3 0zm2 0zm2 0zm2 0zm1 0zm6 0zm3 0zm4 0zm2 0zm3 0zm3 0zm9 0zm1 0zm8 0zm4 0zm4 0zm1 0zm2 0zm7 0zm8 0zm10 0zm5 0zm-488 1zm2 0zm5 0zm3 0zm4 0zm12 0zm3 0zm6 0zm3 0zm4 0zm18 0zm1 0zm1 0zm1 0zm1 0zm4 0zm10 0zm1 0zm12 0zm3 0zm2 0zm3 0zm1 0zm3 0zm3 0zm4 0zm12 0zm5 0zm3 0zm5 0zm4 0zm2 0zm2 0zm1 0zm4 0zm3 0zm5 0zm5 0zm6 0zm1 0zm8 0zm8 0zm1 0zm10 0zm1 0zm2 0zm9 0zm3 0zm1 0zm2 0zm2 0zm7 0zm4 0zm1 0zm2 0zm1 0zm2 0zm2 0zm1 0zm3 0zm1 0zm6 0zm4 0zm2 0zm4 0zm1 0zm1 0zm1 0zm1 0zm1 0zm1 0zm7 0zm1 0zm4 0zm13 0zm1 0zm5 0zm16 0zm4 0zm1 0zm16 0zm2 0zm2 0zm1 0zm12 0zm6 0zm9 0zm6 0zm5 0zm1 0zm3 0zm1 0zm2 0zm3 0zm8 0zm3 0zm1 0zm1 0zm3 0zm5 0zm6 0zm2 0zm17 0zm5 0zm2 0zm10 0zm16 0zm3 0zm5 0zm1 0zm12 0zm1 0zm-467 1zm2 0zm1 0zm2 0zm4 0zm11 0zm3 0zm1 0zm3 0zm1 0zm10 0zm6 0zm3 0zm3 0zm3 0zm4 0zm6 0zm16 0zm17 0zm2 0zm5 0zm1 0zm2 0zm8 0zm1 0zm1 0zm5 0zm5 0zm18 0zm2 0zm1 0zm3 0zm15 0zm1 0zm2 0zm2 0zm4 0zm1 0zm3 0zm6 0zm6 0zm1 0zm4 0zm1 0zm3 0zm5 0zm9 0zm2 0zm1 0zm1 0zm1 0zm1 0zm5 0zm2 0zm8 0zm1 0zm4 0zm2 0zm1 0zm1 0zm3 0zm9 0zm1 0zm1 0zm13 0zm8 0zm11 0zm8 0zm9 0zm3 0zm4 0zm7 0zm2 0zm9 0zm1 0zm19 0zm5 0zm5 0zm2 0zm1 0zm1 0zm1 0zm4 0zm1 0zm1 0zm9 0zm2 0zm5 0zm6 0zm11 0zm5 0zm1 0zm5 0zm4 0zm11 0zm1 0zm5 0zm15 0zm3 0zm8 0zm2 0zm2 0zm-484 1zm5 0zm3 0zm9 0zm3 0zm1 0zm2 0zm2 0zm1 0zm5 0zm5 0zm2 0zm2 0zm1 0zm2 0zm1 0zm2 0zm5 0zm1 0zm3 0zm6 0zm6 0zm2 0zm4 0zm5 0zm8 0zm7 0zm6 0zm3 0zm3 0zm4 0zm5 0zm5 0zm5 0zm1 0zm2 0zm8 0zm9 0zm5 0zm22 0zm1 0zm1 0zm3 0zm4 0zm4 0zm8 0zm3 0zm9 0zm3 0zm1 0zm7 0zm1 0zm3 0zm7 0zm2 0zm4 0zm1 0zm2 0zm3 0zm1 0zm7 0zm6 0zm4 0zm1 0zm2 0zm1 0zm1 0zm1 0zm2 0zm1 0zm2 0zm3 0zm10 0zm1 0zm7 0zm1 0zm6 0zm12 0zm2 0zm7 0zm2 0zm3 0zm7 0zm3 0zm6 0zm2 0zm1 0zm2 0zm22 0zm8 0zm4 0zm18 0zm3 0zm7 0zm4 0zm16 0zm4 0zm13 0zm2 0zm2 0zm4 0zm8 0zm1 0zm2 0zm2 0zm7 0zm3 0zm2 0zm6 0zm2 0zm1 0zm5 0zm1 0zm-486 1zm1 0zm1 0zm4 0zm3 0zm2 0zm3 0zm1 0zm1 0zm3 0zm2 0zm9 0zm6 0zm1 0zm3 0zm3 0zm10 0zm1 0zm10 0zm2 0zm10 0zm1 0zm3 0zm3 0zm4 0zm7 0zm4 0zm8 0zm1 0zm7 0zm4 0zm1 0zm4 0zm1 0zm8 0zm10 0zm5 0zm1 0zm11 0zm2 0zm17 0zm8 0zm5 0zm11 0zm2 0zm8 0zm3 0zm2 0zm3 0zm1 0zm2 0zm3 0zm1 0zm2 0zm1 0zm1 0zm2 0zm1 0zm14 0zm5 0zm1 0zm1 0zm2 0zm1 0zm2 0zm1 0zm1 0zm3 0zm5 0zm4 0zm4 0zm5 0zm3 0zm3 0zm2 0zm7 0zm3 0zm5 0zm4 0zm3 0zm1 0zm7 0zm7 0zm3 0zm11 0zm12 0zm4 0zm1 0zm2 0zm4 0zm2 0zm3 0zm5 0zm1 0zm3 0zm9 0zm1 0zm1 0zm6 0zm2 0zm5 0zm4 0zm2 0zm4 0zm4 0zm2 0zm1 0zm1 0zm9 0zm4 0zm7 0zm2 0zm3 0zm4 0zm1 0zm5 0zm8 0zm6 0zm8 0zm2 0zm1 0zm7 0zm-479 1zm6 0zm2 0zm11 0zm1 0zm2 0zm6 0zm1 0zm9 0zm3 0zm1 0zm6 0zm4 0zm4 0zm5 0zm1 0zm4 0zm17 0zm3 0zm5 0zm2 0zm3 0zm5 0zm1 0zm6 0zm5 0zm5 0zm4 0zm1 0zm15 0zm7 0zm4 0zm8 0zm9 0zm18 0zm1 0zm5 0zm4 0zm1 0zm6 0zm3 0zm1 0zm5 0zm1 0zm1 0zm8 0zm2 0zm1 0zm1 0zm12 0zm4 0zm4 0zm1 0zm1 0zm2 0zm2 0zm2 0zm4 0zm4 0zm3 0zm2 0zm4 0zm1 0zm2 0zm2 0zm4 0zm4 0zm1 0zm7 0zm1 0zm4 0zm1 0zm1 0zm2 0zm7 0zm3 0zm12 0zm8 0zm8 0zm8 0zm16 0zm6 0zm4 0zm4 0zm9 0zm2 0zm1 0zm5 0zm3 0zm9 0zm4 0zm4 0zm3 0zm7 0zm14 0zm6 0zm3 0zm9 0zm5 0zm9 0zm7 0zm3 0zm-488 1zm2 0zm5 0zm2 0zm2 0zm6 0zm15 0zm2 0zm2 0zm2 0zm3 0zm2 0zm11 0zm3 0zm13 0zm2 0zm5 0zm2 0zm8 0zm2 0zm2 0zm8 0zm5 0zm1 0zm1 0zm5 0zm2 0zm3 0zm2 0zm1 0zm1 0zm1 0zm2 0zm7 0zm8 0zm7 0zm2 0zm4 0zm6 0zm14 0zm5 0zm4 0zm4 0zm2 0zm3 0zm4 0zm3 0zm12 0zm2 0zm5 0zm5 0zm3 0zm1 0zm1 0zm1 0zm2 0zm3 0zm2 0zm1 0zm1 0zm5 0zm9 0zm3 0zm2 0zm1 0zm1 0zm1 0zm2 0zm1 0zm1 0zm2 0zm1 0zm1 0zm1 0zm6 0zm11 0zm5 0zm4 0zm7 0zm7 0zm3 0zm4 0zm4 0zm2 0zm1 0zm4 0zm17 0zm5 0zm2 0zm1 0zm2 0zm8 0zm1 0zm4 0zm2 0zm2 0zm1 0zm5 0zm1 0zm1 0zm2 0zm7 0zm1 0zm5 0zm2 0zm3 0zm8 0zm4 0zm4 0zm6 0zm3 0zm4 0zm6 0zm6 0zm3 0zm4 0zm7 0zm4 0zm7 0zm3 0zm2 0zm1 0zm6 0zm1 0zm3 0zm2 0zm1 0zm1 0zm1 0zm7 0zm-488 1zm3 0zm7 0zm1 0zm8 0zm1 0zm2 0zm18 0zm8 0zm1 0zm5 0zm2 0zm3 0zm2 0zm2 0zm4 0zm3 0zm1 0zm4 0zm1 0zm2 0zm7 0zm7 0zm5 0zm12 0zm1 0zm3 0zm1 0zm6 0zm2 0zm6 0zm1 0zm3 0zm3 0zm5 0zm3 0zm2 0zm1 0zm3 0zm2 0zm5 0zm2 0zm1 0zm1 0zm3 0zm11 0zm6 0zm19 0zm8 0zm7 0zm1 0zm5 0zm1 0zm1 0zm7 0zm1 0zm1 0zm1 0zm2 0zm6 0zm3 0zm2 0zm1 0zm5 0zm1 0zm1 0zm1 0zm1 0zm2 0zm1 0zm6 0zm1 0zm1 0zm5 0zm7 0zm2 0zm4 0zm5 0zm5 0zm5 0zm8 0zm6 0zm7 0zm1 0zm1 0zm19 0zm7 0zm6 0zm2 0zm4 0zm5 0zm1 0zm1 0zm5 0zm8 0zm8 0zm2 0zm2 0zm2 0zm1 0zm10 0zm2 0zm2 0zm6 0zm5 0zm1 0zm4 0zm2 0zm14 0zm2 0zm10 0zm1 0zm3 0zm4 0zm9 0zm14 0zm-485 1zm1 0zm4 0zm3 0zm2 0zm2 0zm1 0zm9 0zm4 0zm2 0zm4 0zm5 0zm3 0zm2 0zm1 0zm1 0zm10 0zm5 0zm6 0zm5 0zm2 0zm1 0zm13 0zm6 0zm9 0zm4 0zm3 0zm4 0zm3 0zm6 0zm8 0zm1 0zm4 0zm1 0zm2 0zm3 0zm1 0zm1 0zm4 0zm2 0zm2 0zm1 0zm6 0zm9 0zm4 0zm1 0zm2 0zm3 0zm8 0zm2 0zm1 0zm6 0zm2 0zm1 0zm2 0zm7 0zm1 0zm11 0zm5 0zm2 0zm1 0zm1 0zm1 0zm1 0zm1 0zm2 0zm1 0zm1 0zm5 0zm1 0zm5 0zm7 0zm1 0zm1 0zm1 0zm1 0zm2 0zm2 0zm2 0zm1 0zm10 0zm2 0zm1 0zm2 0zm4 0zm2 0zm10 0zm2 0zm1 0zm14 0zm17 0zm8 0zm4 0zm1 0zm10 0zm1 0zm1 0zm5 0zm2 0zm1 0zm5 0zm2 0zm4 0zm8 0zm3 0zm10 0zm11 0zm3 0zm2 0zm4 0zm1 0zm1 0zm1 0zm1 0zm6 0zm1 0zm5 0zm2 0zm3 0zm1 0zm5 0zm3 0zm3 0zm1 0zm7 0zm8 0zm1 0zm4 0zm2 0zm1 0zm7 0zm3 0zm5 0zm3 0zm-488 1zm3 0zm1 0zm1 0zm4 0zm7 0zm3 0zm14 0zm5 0zm10 0zm9 0zm1 0zm6 0zm4 0zm24 0zm2 0zm2 0zm2 0zm6 0zm4 0zm2 0zm4 0zm1 0zm1 0zm4 0zm5 0zm3 0zm5 0zm2 0zm8 0zm3 0zm6 0zm1 0zm1 0zm1 0zm1 0zm11 0zm2 0zm4 0zm2 0zm11 0zm3 0zm2 0zm4 0zm1 0zm2 0zm5 0zm5 0zm14 0zm3 0zm2 0zm1 0zm4 0zm1 0zm1 0zm13 0zm2 0zm3 0zm2 0zm1 0zm1 0zm2 0zm2 0zm1 0zm1 0zm1 0zm1 0zm5 0zm2 0zm9 0zm5 0zm8 0zm3 0zm2 0zm1 0zm8 0zm3 0zm2 0zm7 0zm4 0zm1 0zm9 0zm1 0zm1 0zm3 0zm12 0zm1 0zm13 0zm3 0zm1 0zm7 0zm8 0zm17 0zm2 0zm1 0zm2 0zm1 0zm1 0zm10 0zm3 0zm4 0zm15 0zm10 0zm3 0zm2 0zm2 0zm12 0zm6 0zm9 0zm6 0zm-490 1zm1 0zm1 0zm4 0zm5 0zm4 0zm2 0zm3 0zm4 0zm1 0zm4 0zm1 0zm1 0zm2 0zm3 0zm2 0zm5 0zm7 0zm4 0zm9 0zm2 0zm7 0zm2 0zm2 0zm3 0zm5 0zm17 0zm2 0zm4 0zm3 0zm2 0zm5 0zm1 0zm10 0zm3 0zm2 0zm4 0zm4 0zm5 0zm1 0zm1 0zm2 0zm8 0zm1 0zm2 0zm3 0zm10 0zm2 0zm5 0zm5 0zm2 0zm9 0zm19 0zm12 0zm1 0zm1 0zm1 0zm1 0zm1 0zm1 0zm1 0zm2 0zm5 0zm3 0zm8 0zm1 0zm1 0zm1 0zm1 0zm4 0zm2 0zm5 0zm3 0zm37 0zm28 0zm2 0zm2 0zm7 0zm1 0zm5 0zm6 0zm1 0zm4 0zm8 0zm5 0zm6 0zm10 0zm4 0zm1 0zm4 0zm13 0zm2 0zm1 0zm3 0zm1 0zm2 0zm3 0zm1 0zm8 0zm3 0zm6 0zm4 0zm1 0zm5 0zm5 0zm3 0zm3 0zm2 0zm1 0zm3 0zm2 0zm4 0zm1 0zm10 0zm-489 1zm1 0zm9 0zm4 0zm4 0zm2 0zm6 0zm3 0zm1 0zm1 0zm3 0zm2 0zm13 0zm4 0zm1 0zm3 0zm5 0zm1 0zm1 0zm5 0zm7 0zm3 0zm6 0zm1 0zm1 0zm5 0zm4 0zm3 0zm3 0zm1 0zm2 0zm8 0zm2 0zm6 0zm2 0zm1 0zm3 0zm6 0zm4 0zm9 0zm1 0zm4 0zm7 0zm9 0zm7 0zm4 0zm2 0zm5 0zm1 0zm4 0zm4 0zm5 0zm1 0zm4 0zm1 0zm8 0zm2 0zm1 0zm3 0zm2 0zm5 0zm2 0zm3 0zm1 0zm1 0zm2 0zm1 0zm5 0zm5 0zm8 0zm1 0zm1 0zm1 0zm1 0zm2 0zm13 0zm3 0zm6 0zm3 0zm1 0zm3 0zm18 0zm1 0zm4 0zm6 0zm3 0zm1 0zm2 0zm1 0zm4 0zm1 0zm3 0zm2 0zm5 0zm18 0zm1 0zm4 0zm13 0zm2 0zm1 0zm1 0zm2 0zm1 0zm7 0zm14 0zm11 0zm3 0zm5 0zm3 0zm19 0zm3 0zm7 0zm4 0zm6 0zm8 0zm6 0zm7 0zm3 0zm2 0zm-491 1zm1 0zm6 0zm4 0zm2 0zm2 0zm7 0zm1 0zm2 0zm11 0zm11 0zm4 0zm1 0zm1 0zm3 0zm2 0zm6 0zm2 0zm7 0zm1 0zm1 0zm3 0zm1 0zm26 0zm5 0zm6 0zm2 0zm5 0zm4 0zm6 0zm4 0zm5 0zm2 0zm10 0zm3 0zm14 0zm7 0zm2 0zm17 0zm1 0zm1 0zm7 0zm6 0zm7 0zm1 0zm1 0zm1 0zm6 0zm3 0zm2 0zm1 0zm1 0zm7 0zm4 0zm3 0zm1 0zm1 0zm1 0zm2 0zm1 0zm1 0zm1 0zm1 0zm1 0zm1 0zm19 0zm6 0zm11 0zm5 0zm2 0zm2 0zm2 0zm1 0zm4 0zm7 0zm3 0zm2 0zm6 0zm2 0zm6 0zm6 0zm2 0zm2 0zm4 0zm3 0zm2 0zm5 0zm8 0zm1 0zm1 0zm11 0zm12 0zm4 0zm3 0zm1 0zm1 0zm4 0zm4 0zm4 0zm11 0zm8 0zm13 0zm1 0zm6 0zm1 0zm3 0zm2 0zm1 0zm9 0zm2 0zm2 0zm5 0zm6 0zm-487 1zm4 0zm5 0zm6 0zm1 0zm10 0zm5 0zm8 0zm8 0zm12 0zm1 0zm2 0zm3 0zm4 0zm3 0zm4 0zm15 0zm2 0zm6 0zm17 0zm1 0zm3 0zm3 0zm5 0zm4 0zm12 0zm5 0zm6 0zm12 0zm14 0zm1 0zm5 0zm10 0zm6 0zm1 0zm12 0zm2 0zm2 0zm2 0zm2 0zm1 0zm1 0zm7 0zm1 0zm5 0zm4 0zm3 0zm6 0zm3 0zm1 0zm1 0zm1 0zm4 0zm5 0zm2 0zm4 0zm11 0zm9 0zm2 0zm3 0zm18 0zm1 0zm6 0zm7 0zm1 0zm6 0zm3 0zm1 0zm18 0zm1 0zm2 0zm6 0zm6 0zm15 0zm2 0zm1 0zm1 0zm14 0zm9 0zm2 0zm1 0zm1 0zm5 0zm1 0zm4 0zm5 0zm2 0zm13 0zm3 0zm9 0zm1 0zm3 0zm1 0zm9 0zm6 0zm3 0zm-484 1zm10 0zm8 0zm2 0zm3 0zm6 0zm1 0zm1 0zm1 0zm1 0zm3 0zm13 0zm2 0zm1 0zm3 0zm3 0zm11 0zm5 0zm1 0zm8 0zm4 0zm4 0zm5 0zm2 0zm7 0zm12 0zm2 0zm2 0zm6 0zm6 0zm2 0zm13 0zm1 0zm3 0zm5 0zm5 0zm21 0zm3 0zm1 0zm9 0zm9 0zm1 0zm12 0zm2 0zm2 0zm1 0zm2 0zm1 0zm1 0zm2 0zm4 0zm1 0zm2 0zm4 0zm1 0zm2 0zm11 0zm1 0zm1 0zm1 0zm1 0zm1 0zm2 0zm7 0zm1 0zm3 0zm17 0zm5 0zm4 0zm13 0zm2 0zm1 0zm3 0zm2 0zm2 0zm10 0zm11 0zm25 0zm4 0zm19 0zm13 0zm5 0zm6 0zm3 0zm4 0zm3 0zm2 0zm2 0zm8 0zm1 0zm1 0zm2 0zm8 0zm1 0zm4 0zm2 0zm6 0zm2 0zm11 0zm8 0zm-479 1zm5 0zm3 0zm17 0zm7 0zm1 0zm1 0zm2 0zm3 0zm1 0zm1 0zm8 0zm1 0zm2 0zm6 0zm1 0zm1 0zm6 0zm4 0zm1 0zm4 0zm3 0zm1 0zm3 0zm3 0zm7 0zm5 0zm4 0zm1 0zm8 0zm9 0zm5 0zm1 0zm6 0zm6 0zm1 0zm7 0zm5 0zm12 0zm3 0zm7 0zm1 0zm4 0zm7 0zm6 0zm1 0zm2 0zm3 0zm3 0zm13 0zm1 0zm2 0zm6 0zm1 0zm3 0zm1 0zm4 0zm1 0zm1 0zm1 0zm3 0zm4 0zm4 0zm2 0zm3 0zm2 0zm1 0zm1 0zm1 0zm2 0zm1 0zm3 0zm1 0zm2 0zm1 0zm4 0zm3 0zm9 0zm14 0zm3 0zm1 0zm2 0zm1 0zm5 0zm3 0zm4 0zm1 0zm4 0zm5 0zm3 0zm3 0zm2 0zm12 0zm4 0zm5 0zm2 0zm5 0zm3 0zm1 0zm3 0zm1 0zm11 0zm3 0zm4 0zm7 0zm2 0zm6 0zm4 0zm10 0zm1 0zm5 0zm1 0zm6 0zm1 0zm2 0zm3 0zm12 0zm3 0zm5 0zm2 0zm2 0zm5 0zm8 0zm7 0zm1 0zm5 0zm4 0zm-488 1zm4 0zm1 0zm1 0zm4 0zm3 0zm9 0zm1 0zm7 0zm4 0zm1 0zm1 0zm2 0zm5 0zm3 0zm5 0zm1 0zm4 0zm2 0zm2 0zm12 0zm4 0zm6 0zm5 0zm2 0zm1 0zm6 0zm2 0zm15 0zm20 0zm2 0zm3 0zm1 0zm3 0zm6 0zm1 0zm3 0zm2 0zm13 0zm3 0zm4 0zm5 0zm1 0zm4 0zm2 0zm17 0zm4 0zm11 0zm9 0zm2 0zm1 0zm1 0zm1 0zm2 0zm1 0zm4 0zm2 0zm1 0zm3 0zm1 0zm3 0zm3 0zm1 0zm1 0zm1 0zm11 0zm2 0zm5 0zm1 0zm10 0zm4 0zm1 0zm2 0zm6 0zm7 0zm2 0zm6 0zm5 0zm2 0zm5 0zm7 0zm3 0zm1 0zm3 0zm1 0zm4 0zm14 0zm4 0zm4 0zm1 0zm3 0zm4 0zm1 0zm4 0zm1 0zm5 0zm1 0zm4 0zm15 0zm1 0zm8 0zm5 0zm4 0zm4 0zm2 0zm2 0zm3 0zm2 0zm5 0zm6 0zm2 0zm3 0zm3 0zm7 0zm1 0zm4 0zm20 0zm1 0zm-486 1zm1 0zm17 0zm4 0zm7 0zm1 0zm7 0zm5 0zm1 0zm2 0zm3 0zm2 0zm12 0zm1 0zm10 0zm1 0zm7 0zm11 0zm2 0zm6 0zm12 0zm5 0zm6 0zm7 0zm2 0zm5 0zm1 0zm1 0zm13 0zm7 0zm7 0zm1 0zm6 0zm6 0zm7 0zm1 0zm1 0zm1 0zm1 0zm1 0zm1 0zm1 0zm12 0zm24 0zm1 0zm1 0zm1 0zm1 0zm1 0zm5 0zm9 0zm2 0zm1 0zm1 0zm1 0zm1 0zm1 0zm2 0zm1 0zm2 0zm2 0zm1 0zm1 0zm1 0zm3 0zm2 0zm6 0zm7 0zm5 0zm8 0zm10 0zm12 0zm2 0zm2 0zm8 0zm6 0zm7 0zm1 0zm3 0zm17 0zm5 0zm3 0zm1 0zm7 0zm6 0zm1 0zm1 0zm17 0zm4 0zm3 0zm4 0zm3 0zm2 0zm1 0zm2 0zm4 0zm3 0zm6 0zm9 0zm2 0zm1 0zm4 0zm2 0zm3 0zm8 0zm2 0zm16 0zm-487 1zm6 0zm1 0zm1 0zm1 0zm2 0zm3 0zm6 0zm2 0zm4 0zm1 0zm2 0zm4 0zm4 0zm13 0zm5 0zm1 0zm4 0zm3 0zm3 0zm8 0zm2 0zm6 0zm1 0zm4 0zm7 0zm2 0zm1 0zm3 0zm4 0zm8 0zm5 0zm3 0zm2 0zm11 0zm3 0zm2 0zm7 0zm7 0zm3 0zm8 0zm3 0zm8 0zm1 0zm5 0zm1 0zm1 0zm3 0zm3 0zm2 0zm1 0zm4 0zm3 0zm4 0zm5 0zm2 0zm2 0zm1 0zm1 0zm4 0zm6 0zm1 0zm1 0zm2 0zm3 0zm1 0zm1 0zm1 0zm1 0zm2 0zm4 0zm1 0zm4 0zm5 0zm4 0zm1 0zm2 0zm3 0zm1 0zm1 0zm1 0zm4 0zm17 0zm5 0zm5 0zm1 0zm8 0zm6 0zm2 0zm2 0zm1 0zm5 0zm5 0zm3 0zm7 0zm3 0zm6 0zm10 0zm5 0zm4 0zm1 0zm14 0zm5 0zm10 0zm4 0zm5 0zm3 0zm6 0zm1 0zm5 0zm1 0zm1 0zm4 0zm13 0zm4 0zm1 0zm8 0zm6 0zm3 0zm2 0zm4 0zm12 0zm9 0zm7 0zm-492 1zm8 0zm4 0zm8 0zm4 0zm3 0zm3 0zm2 0zm11 0zm7 0zm1 0zm4 0zm3 0zm5 0zm1 0zm5 0zm5 0zm7 0zm6 0zm3 0zm9 0zm1 0zm8 0zm1 0zm3 0zm4 0zm2 0zm1 0zm9 0zm1 0zm1 0zm6 0zm1 0zm3 0zm13 0zm1 0zm40 0zm7 0zm1 0zm6 0zm2 0zm1 0zm4 0zm4 0zm7 0zm3 0zm2 0zm2 0zm1 0zm2 0zm1 0zm3 0zm2 0zm4 0zm4 0zm2 0zm3 0zm1 0zm2 0zm2 0zm2 0zm6 0zm2 0zm3 0zm3 0zm1 0zm5 0zm4 0zm3 0zm3 0zm4 0zm3 0zm5 0zm10 0zm1 0zm7 0zm2 0zm3 0zm7 0zm3 0zm9 0zm1 0zm4 0zm1 0zm6 0zm3 0zm2 0zm3 0zm13 0zm2 0zm6 0zm1 0zm12 0zm1 0zm5 0zm4 0zm4 0zm7 0zm7 0zm1 0zm7 0zm2 0zm24 0zm2 0zm1 0zm1 0zm1 0zm3 0zm6 0zm3 0zm1 0zm12 0zm-491 1zm1 0zm1 0zm10 0zm1 0zm2 0zm3 0zm2 0zm3 0zm1 0zm1 0zm1 0zm1 0zm10 0zm11 0zm1 0zm4 0zm8 0zm2 0zm2 0zm3 0zm2 0zm4 0zm5 0zm5 0zm1 0zm5 0zm1 0zm5 0zm4 0zm5 0zm5 0zm2 0zm1 0zm1 0zm1 0zm18 0zm2 0zm2 0zm4 0zm1 0zm9 0zm8 0zm7 0zm3 0zm1 0zm2 0zm1 0zm4 0zm2 0zm3 0zm7 0zm12 0zm1 0zm1 0zm5 0zm4 0zm2 0zm2 0zm5 0zm3 0zm1 0zm1 0zm4 0zm3 0zm1 0zm1 0zm1 0zm3 0zm1 0zm6 0zm4 0zm3 0zm1 0zm1 0zm1 0zm1 0zm9 0zm4 0zm1 0zm9 0zm1 0zm5 0zm8 0zm3 0zm1 0zm8 0zm1 0zm1 0zm6 0zm4 0zm12 0zm4 0zm1 0zm1 0zm3 0zm1 0zm5 0zm5 0zm3 0zm20 0zm7 0zm3 0zm1 0zm1 0zm6 0zm2 0zm1 0zm8 0zm3 0zm10 0zm2 0zm9 0zm1 0zm31 0zm2 0zm2 0zm8 0zm1 0zm6 0zm4 0zm5 0zm4 0zm-487 1zm2 0zm4 0zm7 0zm1 0zm3 0zm1 0zm12 0zm1 0zm6 0zm13 0zm8 0zm3 0zm5 0zm6 0zm3 0zm1 0zm7 0zm3 0zm1 0zm18 0zm6 0zm3 0zm4 0zm1 0zm2 0zm2 0zm5 0zm3 0zm1 0zm2 0zm2 0zm17 0zm2 0zm2 0zm8 0zm8 0zm6 0zm4 0zm5 0zm1 0zm4 0zm2 0zm1 0zm1 0zm8 0zm7 0zm8 0zm3 0zm2 0zm1 0zm2 0zm3 0zm1 0zm1 0zm1 0zm6 0zm3 0zm8 0zm1 0zm1 0zm1 0zm4 0zm3 0zm4 0zm7 0zm3 0zm3 0zm10 0zm2 0zm2 0zm4 0zm3 0zm2 0zm2 0zm25 0zm7 0zm3 0zm4 0zm9 0zm5 0zm4 0zm13 0zm9 0zm1 0zm7 0zm3 0zm1 0zm6 0zm11 0zm15 0zm2 0zm10 0zm4 0zm2 0zm2 0zm3 0zm1 0zm6 0zm3 0zm12 0zm4 0zm3 0zm8 0zm-489 1zm22 0zm7 0zm3 0zm5 0zm3 0zm3 0zm1 0zm16 0zm12 0zm12 0zm1 0zm8 0zm2 0zm2 0zm6 0zm2 0zm2 0zm2 0zm5 0zm1 0zm11 0zm4 0zm6 0zm3 0zm1 0zm3 0zm9 0zm3 0zm3 0zm4 0zm1 0zm5 0zm13 0zm7 0zm9 0zm17 0zm1 0zm6 0zm9 0zm1 0zm2 0zm3 0zm12 0zm4 0zm2 0zm1 0zm1 0zm1 0zm1 0zm1 0zm2 0zm17 0zm3 0zm5 0zm1 0zm2 0zm7 0zm5 0zm2 0zm2 0zm2 0zm1 0zm10 0zm6 0zm2 0zm2 0zm3 0zm5 0zm5 0zm1 0zm2 0zm2 0zm4 0zm1 0zm3 0zm4 0zm4 0zm2 0zm6 0zm1 0zm1 0zm5 0zm1 0zm22 0zm5 0zm8 0zm1 0zm9 0zm3 0zm3 0zm3 0zm2 0zm6 0zm2 0zm4 0zm5 0zm8 0zm14 0zm2 0zm3 0zm2 0zm8 0zm1 0zm-489 1zm15 0zm4 0zm3 0zm2 0zm3 0zm5 0zm8 0zm6 0zm2 0zm6 0zm1 0zm2 0zm5 0zm4 0zm4 0zm3 0zm11 0zm3 0zm7 0zm6 0zm1 0zm2 0zm12 0zm5 0zm11 0zm5 0zm1 0zm1 0zm7 0zm5 0zm5 0zm4 0zm10 0zm8 0zm3 0zm1 0zm5 0zm1 0zm4 0zm12 0zm1 0zm4 0zm4 0zm3 0zm7 0zm1 0zm8 0zm1 0zm2 0zm1 0zm1 0zm1 0zm2 0zm8 0zm2 0zm4 0zm1 0zm1 0zm1 0zm1 0zm1 0zm1 0zm5 0zm5 0zm1 0zm3 0zm16 0zm17 0zm1 0zm7 0zm9 0zm12 0zm1 0zm3 0zm5 0zm1 0zm5 0zm2 0zm4 0zm1 0zm4 0zm6 0zm9 0zm1 0zm3 0zm6 0zm3 0zm1 0zm5 0zm1 0zm5 0zm8 0zm11 0zm8 0zm1 0zm10 0zm15 0zm1 0zm2 0zm10 0zm21 0zm1 0zm1 0zm-490 1zm8 0zm3 0zm3 0zm1 0zm5 0zm3 0zm8 0zm3 0zm9 0zm1 0zm1 0zm2 0zm1 0zm5 0zm5 0zm4 0zm12 0zm8 0zm1 0zm2 0zm9 0zm15 0zm1 0zm5 0zm1 0zm2 0zm8 0zm1 0zm33 0zm1 0zm7 0zm1 0zm1 0zm2 0zm4 0zm4 0zm6 0zm8 0zm4 0zm3 0zm2 0zm5 0zm3 0zm6 0zm2 0zm9 0zm1 0zm1 0zm1 0zm2 0zm1 0zm1 0zm1 0zm3 0zm2 0zm1 0zm3 0zm3 0zm5 0zm1 0zm1 0zm1 0zm1 0zm1 0zm2 0zm1 0zm2 0zm3 0zm1 0zm7 0zm6 0zm1 0zm6 0zm1 0zm1 0zm2 0zm6 0zm9 0zm11 0zm5 0zm1 0zm5 0zm1 0zm3 0zm6 0zm16 0zm1 0zm1 0zm6 0zm6 0zm2 0zm1 0zm6 0zm2 0zm12 0zm5 0zm3 0zm1 0zm1 0zm5 0zm8 0zm1 0zm1 0zm9 0zm6 0zm1 0zm1 0zm5 0zm8 0zm2 0zm4 0zm3 0zm4 0zm1 0zm3 0zm5 0zm15 0zm-475 1zm18 0zm4 0zm2 0zm9 0zm10 0zm4 0zm2 0zm1 0zm2 0zm4 0zm3 0zm2 0zm2 0zm21 0zm19 0zm3 0zm7 0zm1 0zm8 0zm5 0zm6 0zm10 0zm3 0zm2 0zm3 0zm7 0zm1 0zm4 0zm3 0zm1 0zm16 0zm12 0zm6 0zm6 0zm6 0zm1 0zm2 0zm6 0zm1 0zm1 0zm1 0zm1 0zm1 0zm1 0zm1 0zm3 0zm4 0zm1 0zm6 0zm2 0zm1 0zm1 0zm2 0zm4 0zm5 0zm4 0zm4 0zm23 0zm1 0zm1 0zm5 0zm7 0zm11 0zm4 0zm4 0zm9 0zm6 0zm1 0zm4 0zm19 0zm4 0zm2 0zm2 0zm3 0zm1 0zm5 0zm2 0zm5 0zm3 0zm3 0zm1 0zm2 0zm9 0zm1 0zm2 0zm5 0zm1 0zm6 0zm20 0zm3 0zm6 0zm1 0zm2 0zm2 0zm8 0zm4 0zm8 0zm2 0zm6 0zm-488 1zm1 0zm18 0zm1 0zm7 0zm1 0zm6 0zm2 0zm12 0zm3 0zm4 0zm1 0zm1 0zm5 0zm14 0zm2 0zm5 0zm3 0zm1 0zm11 0zm1 0zm10 0zm4 0zm3 0zm3 0zm5 0zm5 0zm3 0zm2 0zm1 0zm8 0zm1 0zm2 0zm3 0zm1 0zm5 0zm3 0zm5 0zm1 0zm6 0zm2 0zm13 0zm2 0zm3 0zm1 0zm6 0zm7 0zm5 0zm4 0zm3 0zm8 0zm2 0zm4 0zm1 0zm4 0zm1 0zm3 0zm13 0zm1 0zm1 0zm3 0zm1 0zm4 0zm1 0zm2 0zm1 0zm4 0zm3 0zm3 0zm7 0zm10 0zm11 0zm2 0zm7 0zm1 0zm9 0zm5 0zm23 0zm3 0zm2 0zm2 0zm8 0zm1 0zm3 0zm5 0zm11 0zm1 0zm16 0zm5 0zm6 0zm1 0zm1 0zm4 0zm3 0zm17 0zm3 0zm1 0zm12 0zm4 0zm1 0zm4 0zm1 0zm1 0zm2 0zm1 0zm3 0zm2 0zm3 0zm3 0zm3 0zm1 0zm2 0zm-477 1zm5 0zm4 0zm4 0zm5 0zm3 0zm5 0zm4 0zm3 0zm24 0zm7 0zm6 0zm2 0zm6 0zm5 0zm3 0zm2 0zm17 0zm2 0zm1 0zm2 0zm5 0zm5 0zm2 0zm2 0zm7 0zm2 0zm1 0zm1 0zm24 0zm7 0zm3 0zm2 0zm3 0zm4 0zm1 0zm8 0zm1 0zm6 0zm7 0zm1 0zm9 0zm1 0zm11 0zm1 0zm1 0zm1 0zm1 0zm3 0zm2 0zm10 0zm1 0zm1 0zm1 0zm1 0zm3 0zm2 0zm3 0zm2 0zm7 0zm4 0zm3 0zm6 0zm6 0zm11 0zm8 0zm1 0zm4 0zm6 0zm5 0zm5 0zm1 0zm1 0zm2 0zm15 0zm4 0zm2 0zm1 0zm1 0zm2 0zm6 0zm11 0zm2 0zm2 0zm10 0zm9 0zm1 0zm4 0zm3 0zm8 0zm5 0zm6 0zm11 0zm8 0zm4 0zm6 0zm1 0zm6 0zm7 0zm1 0zm9 0zm4 0zm2 0zm1 0zm-473 1zm2 0zm7 0zm15 0zm1 0zm11 0zm11 0zm1 0zm4 0zm3 0zm6 0zm2 0zm1 0zm3 0zm3 0zm13 0zm1 0zm12 0zm4 0zm5 0zm1 0zm11 0zm6 0zm23 0zm11 0zm11 0zm12 0zm2 0zm6 0zm3 0zm5 0zm1 0zm5 0zm2 0zm10 0zm1 0zm1 0zm3 0zm1 0zm1 0zm1 0zm8 0zm2 0zm6 0zm1 0zm1 0zm3 0zm4 0zm1 0zm3 0zm13 0zm6 0zm4 0zm5 0zm5 0zm4 0zm9 0zm1 0zm2 0zm1 0zm1 0zm2 0zm27 0zm8 0zm2 0zm10 0zm11 0zm16 0zm1 0zm4 0zm9 0zm2 0zm10 0zm1 0zm9 0zm22 0zm1 0zm1 0zm5 0zm2 0zm8 0zm3 0zm2 0zm4 0zm2 0zm2 0zm3 0zm-483 1zm6 0zm2 0zm6 0zm1 0zm2 0zm9 0zm7 0zm7 0zm7 0zm4 0zm4 0zm1 0zm3 0zm1 0zm7 0zm3 0zm2 0zm1 0zm21 0zm4 0zm4 0zm3 0zm1 0zm3 0zm2 0zm3 0zm1 0zm2 0zm2 0zm1 0zm2 0zm6 0zm2 0zm2 0zm9 0zm2 0zm11 0zm9 0zm4 0zm2 0zm4 0zm3 0zm1 0zm1 0zm9 0zm4 0zm3 0zm3 0zm1 0zm2 0zm1 0zm2 0zm4 0zm15 0zm7 0zm2 0zm1 0zm1 0zm1 0zm1 0zm1 0zm1 0zm2 0zm2 0zm3 0zm7 0zm2 0zm1 0zm1 0zm1 0zm2 0zm1 0zm2 0zm1 0zm12 0zm1 0zm2 0zm32 0zm6 0zm2 0zm5 0zm2 0zm3 0zm2 0zm7 0zm12 0zm6 0zm2 0zm3 0zm2 0zm6 0zm3 0zm2 0zm3 0zm4 0zm2 0zm3 0zm1 0zm7 0zm6 0zm11 0zm6 0zm8 0zm2 0zm12 0zm1 0zm6 0zm3 0zm3 0zm5 0zm9 0zm1 0zm4 0zm7 0zm-477 1zm4 0zm4 0zm3 0zm3 0zm3 0zm1 0zm11 0zm5 0zm4 0zm15 0zm5 0zm3 0zm2 0zm12 0zm4 0zm12 0zm4 0zm6 0zm18 0zm1 0zm3 0zm4 0zm9 0zm4 0zm1 0zm5 0zm5 0zm8 0zm24 0zm5 0zm6 0zm1 0zm7 0zm2 0zm11 0zm1 0zm1 0zm5 0zm4 0zm4 0zm3 0zm2 0zm1 0zm1 0zm8 0zm6 0zm1 0zm1 0zm1 0zm1 0zm1 0zm1 0zm1 0zm1 0zm1 0zm1 0zm2 0zm6 0zm5 0zm10 0zm1 0zm6 0zm12 0zm2 0zm8 0zm3 0zm12 0zm8 0zm8 0zm2 0zm2 0zm1 0zm4 0zm2 0zm6 0zm2 0zm1 0zm5 0zm4 0zm5 0zm3 0zm12 0zm12 0zm1 0zm4 0zm16 0zm5 0zm5 0zm1 0zm2 0zm7 0zm1 0zm1 0zm23 0zm2 0zm7 0zm1 0zm-478 1zm9 0zm2 0zm4 0zm9 0zm3 0zm1 0zm13 0zm17 0zm1 0zm4 0zm14 0zm2 0zm3 0zm5 0zm9 0zm5 0zm6 0zm3 0zm13 0zm3 0zm2 0zm5 0zm4 0zm2 0zm8 0zm3 0zm2 0zm3 0zm3 0zm2 0zm14 0zm3 0zm2 0zm5 0zm1 0zm8 0zm1 0zm13 0zm4 0zm5 0zm1 0zm2 0zm1 0zm7 0zm3 0zm1 0zm1 0zm1 0zm2 0zm5 0zm9 0zm1 0zm1 0zm1 0zm1 0zm1 0zm1 0zm1 0zm2 0zm2 0zm1 0zm1 0zm12 0zm1 0zm3 0zm2 0zm4 0zm2 0zm4 0zm5 0zm5 0zm2 0zm3 0zm3 0zm5 0zm1 0zm2 0zm6 0zm13 0zm9 0zm2 0zm5 0zm5 0zm1 0zm5 0zm2 0zm10 0zm5 0zm4 0zm8 0zm14 0zm18 0zm1 0zm3 0zm19 0zm24 0zm1 0zm8 0zm6 0zm-487 1zm6 0zm10 0zm12 0zm10 0zm1 0zm10 0zm2 0zm2 0zm3 0zm2 0zm10 0zm1 0zm2 0zm2 0zm3 0zm4 0zm12 0zm6 0zm3 0zm2 0zm2 0zm6 0zm2 0zm10 0zm4 0zm7 0zm1 0zm6 0zm4 0zm8 0zm2 0zm5 0zm3 0zm1 0zm7 0zm9 0zm1 0zm1 0zm1 0zm2 0zm4 0zm2 0zm3 0zm7 0zm7 0zm1 0zm3 0zm4 0zm4 0zm1 0zm1 0zm7 0zm2 0zm2 0zm2 0zm1 0zm1 0zm3 0zm6 0zm2 0zm3 0zm1 0zm1 0zm1 0zm1 0zm1 0zm2 0zm1 0zm1 0zm1 0zm7 0zm6 0zm8 0zm2 0zm2 0zm4 0zm5 0zm1 0zm5 0zm4 0zm5 0zm9 0zm3 0zm6 0zm2 0zm13 0zm1 0zm5 0zm5 0zm1 0zm4 0zm2 0zm2 0zm2 0zm3 0zm3 0zm1 0zm1 0zm10 0zm1 0zm19 0zm5 0zm3 0zm16 0zm9 0zm4 0zm2 0zm6 0zm4 0zm1 0zm12 0zm1 0zm4 0zm2 0zm-470 1zm1 0zm2 0zm2 0zm7 0zm3 0zm10 0zm6 0zm1 0zm2 0zm8 0zm1 0zm4 0zm7 0zm8 0zm3 0zm10 0zm2 0zm1 0zm5 0zm6 0zm16 0zm5 0zm6 0zm1 0zm4 0zm4 0zm8 0zm10 0zm1 0zm1 0zm1 0zm4 0zm7 0zm8 0zm12 0zm1 0zm19 0zm11 0zm5 0zm1 0zm6 0zm2 0zm2 0zm1 0zm1 0zm7 0zm1 0zm1 0zm5 0zm1 0zm3 0zm5 0zm1 0zm1 0zm1 0zm1 0zm1 0zm1 0zm3 0zm1 0zm11 0zm1 0zm2 0zm9 0zm4 0zm1 0zm12 0zm7 0zm7 0zm12 0zm17 0zm5 0zm1 0zm3 0zm1 0zm9 0zm1 0zm3 0zm2 0zm9 0zm3 0zm2 0zm8 0zm6 0zm5 0zm8 0zm5 0zm15 0zm8 0zm11 0zm2 0zm4 0zm5 0zm2 0zm5 0zm6 0zm8 0zm4 0zm-487 1zm1 0zm2 0zm3 0zm3 0zm13 0zm5 0zm3 0zm7 0zm2 0zm3 0zm3 0zm11 0zm5 0zm1 0zm2 0zm4 0zm2 0zm1 0zm4 0zm5 0zm2 0zm9 0zm5 0zm3 0zm1 0zm8 0zm9 0zm23 0zm2 0zm28 0zm6 0zm1 0zm3 0zm3 0zm3 0zm11 0zm3 0zm4 0zm2 0zm4 0zm1 0zm1 0zm1 0zm4 0zm10 0zm1 0zm1 0zm1 0zm1 0zm1 0zm2 0zm1 0zm1 0zm2 0zm1 0zm6 0zm1 0zm6 0zm2 0zm1 0zm1 0zm1 0zm2 0zm1 0zm1 0zm2 0zm2 0zm2 0zm1 0zm9 0zm2 0zm12 0zm5 0zm2 0zm8 0zm3 0zm1 0zm2 0zm2 0zm5 0zm4 0zm7 0zm1 0zm13 0zm4 0zm3 0zm2 0zm1 0zm4 0zm1 0zm3 0zm1 0zm1 0zm1 0zm1 0zm2 0zm2 0zm1 0zm1 0zm5 0zm5 0zm1 0zm8 0zm5 0zm4 0zm2 0zm11 0zm7 0zm1 0zm2 0zm6 0zm2 0zm1 0zm2 0zm1 0zm1 0zm4 0zm3 0zm5 0zm2 0zm1 0zm4 0zm1 0zm6 0zm3 0zm6 0zm3 0zm6 0zm3 0zm5 0zm1 0zm1 0zm-483 1zm5 0zm1 0zm6 0zm1 0zm4 0zm3 0zm2 0zm4 0zm6 0zm8 0zm22 0zm3 0zm1 0zm5 0zm10 0zm4 0zm4 0zm3 0zm6 0zm2 0zm7 0zm2 0zm7 0zm1 0zm4 0zm2 0zm9 0zm16 0zm1 0zm9 0zm1 0zm1 0zm9 0zm10 0zm2 0zm5 0zm3 0zm1 0zm7 0zm4 0zm17 0zm4 0zm1 0zm1 0zm1 0zm2 0zm1 0zm1 0zm1 0zm1 0zm1 0zm1 0zm9 0zm3 0zm1 0zm1 0zm1 0zm1 0zm1 0zm1 0zm2 0zm1 0zm3 0zm5 0zm7 0zm6 0zm2 0zm2 0zm3 0zm1 0zm1 0zm4 0zm3 0zm1 0zm3 0zm15 0zm6 0zm4 0zm3 0zm7 0zm13 0zm5 0zm5 0zm11 0zm1 0zm15 0zm3 0zm8 0zm7 0zm1 0zm5 0zm1 0zm1 0zm2 0zm8 0zm2 0zm6 0zm5 0zm2 0zm2 0zm5 0zm2 0zm2 0zm7 0zm3 0zm1 0zm1 0zm25 0zm6 0zm-487 1zm1 0zm1 0zm1 0zm2 0zm1 0zm1 0zm3 0zm9 0zm17 0zm10 0zm2 0zm1 0zm16 0zm10 0zm2 0zm1 0zm6 0zm5 0zm5 0zm6 0zm10 0zm4 0zm7 0zm1 0zm3 0zm6 0zm3 0zm1 0zm3 0zm1 0zm1 0zm2 0zm5 0zm1 0zm7 0zm11 0zm5 0zm7 0zm2 0zm2 0zm4 0zm3 0zm2 0zm2 0zm20 0zm3 0zm4 0zm4 0zm1 0zm2 0zm1 0zm1 0zm1 0zm1 0zm1 0zm1 0zm1 0zm1 0zm5 0zm7 0zm1 0zm1 0zm1 0zm1 0zm1 0zm1 0zm1 0zm1 0zm1 0zm2 0zm2 0zm9 0zm3 0zm1 0zm8 0zm3 0zm25 0zm4 0zm10 0zm11 0zm24 0zm8 0zm2 0zm10 0zm2 0zm1 0zm14 0zm1 0zm2 0zm20 0zm3 0zm9 0zm3 0zm3 0zm4 0zm4 0zm4 0zm1 0zm6 0zm3 0zm6 0zm3 0zm9 0zm7 0zm3 0zm-482 1zm1 0zm2 0zm4 0zm1 0zm21 0zm8 0zm1 0zm6 0zm1 0zm7 0zm11 0zm2 0zm13 0zm1 0zm2 0zm1 0zm23 0zm14 0zm5 0zm5 0zm10 0zm5 0zm3 0zm3 0zm2 0zm2 0zm5 0zm6 0zm2 0zm4 0zm16 0zm2 0zm2 0zm2 0zm1 0zm5 0zm1 0zm1 0zm2 0zm1 0zm15 0zm2 0zm1 0zm1 0zm4 0zm1 0zm1 0zm1 0zm1 0zm1 0zm1 0zm4 0zm1 0zm2 0zm1 0zm2 0zm1 0zm1 0zm2 0zm1 0zm2 0zm5 0zm12 0zm2 0zm8 0zm1 0zm15 0zm1 0zm1 0zm5 0zm2 0zm3 0zm8 0zm2 0zm11 0zm1 0zm5 0zm2 0zm2 0zm2 0zm11 0zm1 0zm3 0zm4 0zm8 0zm1 0zm11 0zm8 0zm15 0zm7 0zm1 0zm8 0zm5 0zm4 0zm1 0zm10 0zm1 0zm3 0zm1 0zm9 0zm12 0zm12 0zm-468 1zm8 0zm1 0zm3 0zm7 0zm3 0zm15 0zm6 0zm4 0zm3 0zm3 0zm3 0zm3 0zm4 0zm2 0zm6 0zm7 0zm1 0zm9 0zm1 0zm1 0zm5 0zm1 0zm4 0zm3 0zm9 0zm10 0zm8 0zm13 0zm5 0zm14 0zm3 0zm14 0zm12 0zm3 0zm1 0zm11 0zm8 0zm2 0zm1 0zm1 0zm2 0zm1 0zm2 0zm1 0zm1 0zm2 0zm10 0zm1 0zm1 0zm1 0zm1 0zm1 0zm1 0zm2 0zm5 0zm3 0zm2 0zm2 0zm1 0zm3 0zm1 0zm2 0zm6 0zm5 0zm2 0zm1 0zm6 0zm14 0zm5 0zm23 0zm1 0zm1 0zm1 0zm4 0zm4 0zm2 0zm3 0zm4 0zm6 0zm9 0zm1 0zm1 0zm1 0zm6 0zm7 0zm3 0zm4 0zm13 0zm2 0zm9 0zm1 0zm22 0zm12 0zm11 0zm3 0zm3 0zm4 0zm2 0zm1 0zm4 0zm3 0zm1 0zm-490 1zm9 0zm10 0zm1 0zm3 0zm4 0zm7 0zm3 0zm4 0zm2 0zm7 0zm5 0zm3 0zm11 0zm4 0zm1 0zm5 0zm1 0zm2 0zm3 0zm3 0zm3 0zm7 0zm24 0zm3 0zm2 0zm10 0zm3 0zm15 0zm7 0zm7 0zm6 0zm5 0zm11 0zm2 0zm8 0zm9 0zm4 0zm6 0zm5 0zm5 0zm2 0zm2 0zm1 0zm1 0zm1 0zm1 0zm1 0zm1 0zm9 0zm3 0zm1 0zm1 0zm1 0zm1 0zm1 0zm1 0zm1 0zm1 0zm1 0zm3 0zm6 0zm3 0zm2 0zm2 0zm2 0zm1 0zm11 0zm4 0zm11 0zm1 0zm3 0zm2 0zm1 0zm9 0zm4 0zm1 0zm4 0zm4 0zm1 0zm8 0zm5 0zm14 0zm3 0zm1 0zm13 0zm2 0zm7 0zm5 0zm4 0zm3 0zm3 0zm2 0zm5 0zm4 0zm3 0zm2 0zm8 0zm2 0zm3 0zm11 0zm4 0zm22 0zm1 0zm5 0zm-466 1zm8 0zm1 0zm6 0zm8 0zm12 0zm7 0zm9 0zm1 0zm13 0zm2 0zm3 0zm3 0zm2 0zm5 0zm9 0zm3 0zm4 0zm17 0zm12 0zm18 0zm3 0zm7 0zm8 0zm1 0zm1 0zm16 0zm1 0zm16 0zm4 0zm2 0zm8 0zm1 0zm1 0zm2 0zm8 0zm2 0zm1 0zm1 0zm1 0zm1 0zm1 0zm1 0zm1 0zm10 0zm1 0zm1 0zm1 0zm1 0zm1 0zm1 0zm1 0zm1 0zm5 0zm1 0zm4 0zm3 0zm1 0zm3 0zm2 0zm4 0zm23 0zm1 0zm4 0zm2 0zm3 0zm1 0zm6 0zm5 0zm16 0zm3 0zm4 0zm10 0zm6 0zm5 0zm2 0zm8 0zm4 0zm14 0zm25 0zm2 0zm1 0zm5 0zm3 0zm9 0zm4 0zm18 0zm2 0zm5 0zm12 0zm-481 1zm1 0zm16 0zm7 0zm2 0zm7 0zm17 0zm3 0zm4 0zm8 0zm2 0zm6 0zm6 0zm13 0zm3 0zm2 0zm2 0zm13 0zm2 0zm5 0zm2 0zm1 0zm6 0zm2 0zm19 0zm22 0zm3 0zm13 0zm1 0zm4 0zm13 0zm7 0zm3 0zm14 0zm1 0zm1 0zm1 0zm1 0zm1 0zm1 0zm1 0zm1 0zm4 0zm6 0zm1 0zm2 0zm1 0zm1 0zm1 0zm1 0zm1 0zm1 0zm3 0zm1 0zm4 0zm12 0zm4 0zm10 0zm3 0zm1 0zm1 0zm3 0zm8 0zm7 0zm3 0zm1 0zm6 0zm2 0zm13 0zm17 0zm5 0zm18 0zm3 0zm6 0zm2 0zm1 0zm5 0zm1 0zm4 0zm2 0zm2 0zm4 0zm1 0zm6 0zm7 0zm8 0zm2 0zm1 0zm15 0zm2 0zm1 0zm1 0zm7 0zm1 0zm4 0zm4 0zm2 0zm2 0zm1 0zm4 0zm6 0zm4 0zm-489 1zm3 0zm1 0zm6 0zm2 0zm2 0zm4 0zm2 0zm11 0zm3 0zm8 0zm4 0zm5 0zm2 0zm9 0zm3 0zm2 0zm1 0zm2 0zm10 0zm7 0zm5 0zm3 0zm11 0zm7 0zm18 0zm8 0zm14 0zm4 0zm7 0zm4 0zm8 0zm17 0zm7 0zm7 0zm2 0zm2 0zm7 0zm3 0zm3 0zm1 0zm3 0zm1 0zm2 0zm1 0zm1 0zm2 0zm1 0zm2 0zm1 0zm8 0zm2 0zm1 0zm1 0zm1 0zm1 0zm1 0zm1 0zm2 0zm1 0zm1 0zm2 0zm4 0zm2 0zm6 0zm9 0zm2 0zm7 0zm3 0zm8 0zm13 0zm1 0zm1 0zm1 0zm6 0zm14 0zm1 0zm1 0zm1 0zm15 0zm1 0zm3 0zm1 0zm2 0zm7 0zm4 0zm5 0zm7 0zm2 0zm1 0zm4 0zm3 0zm6 0zm10 0zm2 0zm1 0zm10 0zm4 0zm4 0zm11 0zm6 0zm1 0zm4 0zm10 0zm4 0zm1 0zm2 0zm1 0zm3 0zm2 0zm4 0zm-480 1zm6 0zm10 0zm2 0zm1 0zm4 0zm4 0zm10 0zm13 0zm4 0zm7 0zm16 0zm2 0zm4 0zm1 0zm4 0zm1 0zm5 0zm1 0zm1 0zm11 0zm2 0zm7 0zm4 0zm1 0zm3 0zm1 0zm9 0zm1 0zm3 0zm1 0zm6 0zm1 0zm1 0zm1 0zm5 0zm2 0zm2 0zm6 0zm3 0zm1 0zm8 0zm5 0zm7 0zm1 0zm6 0zm7 0zm8 0zm17 0zm1 0zm2 0zm1 0zm1 0zm2 0zm1 0zm1 0zm1 0zm1 0zm10 0zm1 0zm2 0zm1 0zm1 0zm1 0zm1 0zm1 0zm1 0zm2 0zm4 0zm4 0zm5 0zm4 0zm1 0zm10 0zm13 0zm3 0zm4 0zm2 0zm13 0zm18 0zm4 0zm10 0zm6 0zm20 0zm9 0zm14 0zm4 0zm7 0zm3 0zm10 0zm7 0zm3 0zm11 0zm3 0zm7 0zm13 0zm6 0zm3 0zm5 0zm-488 1zm1 0zm6 0zm2 0zm1 0zm2 0zm3 0zm2 0zm6 0zm1 0zm2 0zm3 0zm2 0zm1 0zm14 0zm17 0zm6 0zm4 0zm2 0zm2 0zm2 0zm5 0zm2 0zm3 0zm7 0zm1 0zm9 0zm1 0zm4 0zm1 0zm1 0zm3 0zm8 0zm1 0zm12 0zm3 0zm2 0zm3 0zm5 0zm13 0zm7 0zm2 0zm3 0zm1 0zm8 0zm13 0zm7 0zm4 0zm10 0zm3 0zm2 0zm2 0zm2 0zm5 0zm2 0zm1 0zm1 0zm1 0zm1 0zm1 0zm1 0zm1 0zm5 0zm4 0zm1 0zm1 0zm1 0zm1 0zm1 0zm4 0zm3 0zm8 0zm8 0zm1 0zm13 0zm2 0zm9 0zm2 0zm3 0zm7 0zm2 0zm3 0zm1 0zm3 0zm10 0zm2 0zm10 0zm3 0zm6 0zm1 0zm2 0zm11 0zm3 0zm13 0zm7 0zm1 0zm5 0zm14 0zm14 0zm6 0zm3 0zm5 0zm4 0zm2 0zm3 0zm4 0zm11 0zm1 0zm7 0zm3 0zm7 0zm5 0zm-485 1zm5 0zm3 0zm11 0zm5 0zm8 0zm11 0zm1 0zm8 0zm5 0zm3 0zm8 0zm4 0zm1 0zm6 0zm16 0zm1 0zm1 0zm7 0zm11 0zm6 0zm4 0zm1 0zm2 0zm1 0zm8 0zm5 0zm7 0zm3 0zm7 0zm7 0zm7 0zm1 0zm3 0zm1 0zm4 0zm2 0zm31 0zm3 0zm2 0zm5 0zm2 0zm1 0zm2 0zm1 0zm2 0zm1 0zm1 0zm1 0zm1 0zm1 0zm1 0zm1 0zm1 0zm7 0zm1 0zm1 0zm3 0zm1 0zm4 0zm3 0zm11 0zm2 0zm1 0zm4 0zm5 0zm1 0zm1 0zm10 0zm2 0zm4 0zm5 0zm32 0zm4 0zm7 0zm4 0zm7 0zm7 0zm2 0zm8 0zm7 0zm24 0zm7 0zm3 0zm3 0zm2 0zm1 0zm1 0zm1 0zm6 0zm3 0zm9 0zm19 0zm7 0zm10 0zm4 0zm-480 1zm6 0zm10 0zm3 0zm6 0zm6 0zm2 0zm3 0zm1 0zm5 0zm6 0zm2 0zm3 0zm17 0zm8 0zm2 0zm3 0zm5 0zm5 0zm1 0zm10 0zm10 0zm2 0zm2 0zm3 0zm2 0zm5 0zm6 0zm1 0zm1 0zm6 0zm9 0zm2 0zm8 0zm5 0zm2 0zm6 0zm9 0zm7 0zm4 0zm1 0zm3 0zm7 0zm4 0zm6 0zm2 0zm5 0zm1 0zm1 0zm1 0zm5 0zm1 0zm1 0zm1 0zm1 0zm1 0zm8 0zm2 0zm1 0zm2 0zm1 0zm1 0zm7 0zm20 0zm8 0zm3 0zm26 0zm1 0zm5 0zm10 0zm4 0zm2 0zm7 0zm2 0zm4 0zm5 0zm12 0zm11 0zm7 0zm11 0zm11 0zm2 0zm29 0zm1 0zm13 0zm10 0zm19 0zm1 0zm-483 1zm21 0zm1 0zm16 0zm5 0zm2 0zm1 0zm1 0zm1 0zm4 0zm7 0zm7 0zm3 0zm7 0zm5 0zm7 0zm15 0zm12 0zm6 0zm1 0zm4 0zm10 0zm7 0zm2 0zm4 0zm1 0zm13 0zm16 0zm4 0zm3 0zm3 0zm9 0zm15 0zm9 0zm1 0zm3 0zm4 0zm1 0zm1 0zm1 0zm1 0zm1 0zm2 0zm7 0zm1 0zm1 0zm1 0zm1 0zm1 0zm2 0zm1 0zm3 0zm15 0zm18 0zm4 0zm9 0zm3 0zm10 0zm17 0zm2 0zm2 0zm12 0zm6 0zm1 0zm1 0zm6 0zm7 0zm4 0zm1 0zm8 0zm21 0zm2 0zm7 0zm4 0zm3 0zm11 0zm6 0zm7 0zm21 0zm15 0zm-477 1zm4 0zm2 0zm13 0zm4 0zm1 0zm7 0zm1 0zm6 0zm1 0zm2 0zm3 0zm5 0zm2 0zm5 0zm11 0zm2 0zm2 0zm1 0zm3 0zm19 0zm10 0zm4 0zm3 0zm2 0zm2 0zm10 0zm1 0zm5 0zm14 0zm6 0zm6 0zm2 0zm3 0zm6 0zm11 0zm4 0zm7 0zm27 0zm4 0zm5 0zm1 0zm1 0zm2 0zm2 0zm1 0zm1 0zm1 0zm1 0zm8 0zm1 0zm1 0zm1 0zm2 0zm1 0zm1 0zm4 0zm4 0zm5 0zm3 0zm2 0zm2 0zm3 0zm1 0zm13 0zm3 0zm17 0zm5 0zm12 0zm26 0zm1 0zm8 0zm1 0zm1 0zm1 0zm3 0zm1 0zm6 0zm5 0zm3 0zm2 0zm3 0zm7 0zm4 0zm8 0zm6 0zm2 0zm5 0zm9 0zm18 0zm4 0zm33 0zm-465 1zm8 0zm2 0zm1 0zm12 0zm5 0zm8 0zm7 0zm1 0zm9 0zm5 0zm3 0zm1 0zm2 0zm3 0zm9 0zm2 0zm6 0zm2 0zm1 0zm1 0zm4 0zm3 0zm3 0zm2 0zm2 0zm5 0zm3 0zm3 0zm4 0zm4 0zm4 0zm8 0zm3 0zm6 0zm3 0zm1 0zm2 0zm9 0zm1 0zm7 0zm34 0zm1 0zm3 0zm5 0zm1 0zm1 0zm1 0zm1 0zm1 0zm1 0zm1 0zm1 0zm2 0zm1 0zm1 0zm6 0zm1 0zm1 0zm1 0zm1 0zm1 0zm3 0zm3 0zm1 0zm11 0zm14 0zm2 0zm12 0zm15 0zm1 0zm3 0zm1 0zm5 0zm6 0zm12 0zm4 0zm9 0zm4 0zm7 0zm6 0zm3 0zm4 0zm1 0zm9 0zm20 0zm34 0zm6 0zm2 0zm6 0zm2 0zm9 0zm5 0zm1 0zm2 0zm9 0zm-466 1zm22 0zm6 0zm6 0zm3 0zm10 0zm7 0zm6 0zm17 0zm14 0zm8 0zm1 0zm39 0zm7 0zm8 0zm3 0zm2 0zm8 0zm9 0zm2 0zm2 0zm4 0zm2 0zm10 0zm8 0zm1 0zm4 0zm2 0zm1 0zm4 0zm1 0zm1 0zm1 0zm2 0zm1 0zm1 0zm6 0zm1 0zm1 0zm1 0zm1 0zm2 0zm1 0zm7 0zm3 0zm2 0zm11 0zm2 0zm1 0zm8 0zm12 0zm5 0zm5 0zm8 0zm2 0zm14 0zm11 0zm1 0zm12 0zm10 0zm2 0zm1 0zm6 0zm5 0zm11 0zm6 0zm5 0zm2 0zm13 0zm30 0zm9 0zm-454 1zm1 0zm1 0zm4 0zm1 0zm3 0zm15 0zm11 0zm2 0zm5 0zm12 0zm7 0zm11 0zm1 0zm2 0zm8 0zm10 0zm5 0zm7 0zm7 0zm2 0zm3 0zm11 0zm18 0zm20 0zm17 0zm13 0zm1 0zm13 0zm9 0zm2 0zm1 0zm3 0zm5 0zm1 0zm1 0zm1 0zm1 0zm1 0zm1 0zm6 0zm1 0zm1 0zm1 0zm2 0zm1 0zm1 0zm2 0zm3 0zm12 0zm8 0zm2 0zm3 0zm1 0zm3 0zm2 0zm11 0zm13 0zm15 0zm1 0zm1 0zm6 0zm1 0zm20 0zm2 0zm1 0zm4 0zm7 0zm9 0zm5 0zm8 0zm15 0zm1 0zm5 0zm1 0zm1 0zm2 0zm1 0zm4 0zm7 0zm13 0zm17 0zm8 0zm1 0zm4 0zm4 0zm5 0zm7 0zm-490 1zm6 0zm11 0zm8 0zm7 0zm42 0zm3 0zm3 0zm9 0zm4 0zm4 0zm12 0zm6 0zm15 0zm13 0zm1 0zm6 0zm12 0zm12 0zm3 0zm8 0zm27 0zm1 0zm16 0zm1 0zm1 0zm1 0zm1 0zm1 0zm1 0zm1 0zm1 0zm2 0zm1 0zm1 0zm1 0zm4 0zm1 0zm1 0zm1 0zm1 0zm1 0zm2 0zm2 0zm1 0zm1 0zm2 0zm7 0zm8 0zm1 0zm3 0zm2 0zm1 0zm10 0zm1 0zm11 0zm6 0zm10 0zm2 0zm3 0zm10 0zm24 0zm4 0zm12 0zm11 0zm8 0zm10 0zm10 0zm2 0zm17 0zm28 0zm2 0zm7 0zm7 0zm5 0zm3 0zm1 0zm1 0zm3 0zm-490 1zm4 0zm7 0zm3 0zm2 0zm29 0zm12 0zm2 0zm24 0zm19 0zm4 0zm1 0zm11 0zm8 0zm2 0zm1 0zm19 0zm8 0zm2 0zm4 0zm2 0zm4 0zm15 0zm48 0zm3 0zm3 0zm1 0zm2 0zm1 0zm1 0zm1 0zm4 0zm1 0zm1 0zm1 0zm1 0zm1 0zm1 0zm1 0zm1 0zm1 0zm2 0zm1 0zm6 0zm9 0zm4 0zm8 0zm20 0zm6 0zm2 0zm13 0zm10 0zm18 0zm16 0zm7 0zm30 0zm10 0zm6 0zm9 0zm8 0zm5 0zm17 0zm2 0zm14 0zm1 0zm3 0zm4 0zm1 0zm-480 1zm28 0zm8 0zm15 0zm6 0zm2 0zm4 0zm18 0zm2 0zm2 0zm2 0zm17 0zm6 0zm8 0zm6 0zm15 0zm9 0zm3 0zm2 0zm4 0zm6 0zm10 0zm2 0zm16 0zm2 0zm13 0zm8 0zm5 0zm6 0zm1 0zm1 0zm1 0zm1 0zm1 0zm1 0zm1 0zm1 0zm1 0zm6 0zm1 0zm1 0zm1 0zm2 0zm1 0zm1 0zm3 0zm1 0zm1 0zm1 0zm1 0zm16 0zm8 0zm25 0zm6 0zm5 0zm23 0zm1 0zm1 0zm10 0zm1 0zm4 0zm6 0zm4 0zm11 0zm5 0zm5 0zm8 0zm5 0zm9 0zm5 0zm4 0zm3 0zm3 0zm23 0zm4 0zm8 0zm4 0zm4 0zm4 0zm-467 1zm9 0zm16 0zm8 0zm8 0zm3 0zm1 0zm6 0zm2 0zm33 0zm1 0zm1 0zm1 0zm7 0zm1 0zm9 0zm14 0zm3 0zm6 0zm4 0zm2 0zm9 0zm4 0zm3 0zm31 0zm20 0zm6 0zm7 0zm4 0zm5 0zm3 0zm1 0zm1 0zm1 0zm1 0zm1 0zm5 0zm1 0zm2 0zm1 0zm1 0zm1 0zm1 0zm1 0zm1 0zm1 0zm1 0zm1 0zm5 0zm1 0zm14 0zm3 0zm1 0zm22 0zm4 0zm9 0zm12 0zm21 0zm5 0zm5 0zm19 0zm13 0zm14 0zm3 0zm15 0zm2 0zm7 0zm10 0zm11 0zm31 0zm-486 1zm2 0zm7 0zm3 0zm9 0zm11 0zm4 0zm8 0zm4 0zm20 0zm7 0zm9 0zm14 0zm6 0zm4 0zm1 0zm6 0zm2 0zm3 0zm22 0zm2 0zm28 0zm4 0zm5 0zm4 0zm2 0zm10 0zm19 0zm1 0zm5 0zm11 0zm1 0zm1 0zm3 0zm1 0zm2 0zm1 0zm1 0zm1 0zm2 0zm1 0zm2 0zm1 0zm1 0zm2 0zm2 0zm1 0zm3 0zm2 0zm13 0zm20 0zm3 0zm31 0zm1 0zm11 0zm5 0zm3 0zm19 0zm9 0zm22 0zm1 0zm4 0zm20 0zm15 0zm4 0zm8 0zm3 0zm9 0zm20 0zm5 0zm-487 1zm5 0zm15 0zm5 0zm2 0zm41 0zm9 0zm2 0zm3 0zm8 0zm6 0zm2 0zm30 0zm3 0zm6 0zm27 0zm6 0zm1 0zm9 0zm3 0zm8 0zm13 0zm9 0zm3 0zm1 0zm1 0zm1 0zm6 0zm3 0zm2 0zm1 0zm2 0zm2 0zm1 0zm1 0zm1 0zm1 0zm1 0zm1 0zm1 0zm1 0zm1 0zm2 0zm1 0zm1 0zm1 0zm1 0zm2 0zm1 0zm1 0zm1 0zm2 0zm1 0zm1 0zm3 0zm3 0zm1 0zm6 0zm7 0zm4 0zm5 0zm5 0zm13 0zm5 0zm7 0zm1 0zm6 0zm3 0zm12 0zm16 0zm17 0zm11 0zm9 0zm5 0zm12 0zm1 0zm12 0zm1 0zm1 0zm11 0zm7 0zm29 0zm6 0zm-464 1zm1 0zm15 0zm4 0zm5 0zm4 0zm3 0zm5 0zm2 0zm12 0zm3 0zm2 0zm1 0zm7 0zm1 0zm19 0zm2 0zm7 0zm3 0zm16 0zm13 0zm4 0zm5 0zm11 0zm1 0zm2 0zm4 0zm12 0zm1 0zm6 0zm2 0zm19 0zm1 0zm6 0zm1 0zm5 0zm10 0zm1 0zm6 0zm1 0zm1 0zm1 0zm1 0zm1 0zm1 0zm1 0zm1 0zm1 0zm1 0zm1 0zm2 0zm2 0zm3 0zm1 0zm1 0zm2 0zm3 0zm2 0zm2 0zm16 0zm9 0zm5 0zm1 0zm5 0zm5 0zm5 0zm4 0zm4 0zm12 0zm11 0zm6 0zm1 0zm3 0zm35 0zm22 0zm10 0zm15 0zm1 0zm10 0zm7 0zm4 0zm7 0zm1 0zm9 0zm1 0zm3 0zm1 0zm1 0zm-402 1zm10 0zm9 0zm1 0zm7 0zm2 0zm5 0zm4 0zm2 0zm22 0zm2 0zm29 0zm28 0zm19 0zm8 0zm2 0zm6 0zm1 0zm2 0zm1 0zm2 0zm1 0zm1 0zm1 0zm1 0zm1 0zm1 0zm1 0zm1 0zm2 0zm5 0zm1 0zm1 0zm15 0zm17 0zm6 0zm1 0zm1 0zm28 0zm7 0zm1 0zm1 0zm2 0zm18 0zm12 0zm10 0zm4 0zm42 0zm10 0zm9 0zm18 0zm5 0zm6 0zm11 0zm-479 1zm8 0zm7 0zm16 0zm10 0zm9 0zm20 0zm3 0zm4 0zm2 0zm6 0zm11 0zm9 0zm11 0zm15 0zm3 0zm10 0zm19 0zm28 0zm7 0zm12 0zm4 0zm8 0zm3 0zm3 0zm3 0zm2 0zm3 0zm1 0zm1 0zm1 0zm1 0zm1 0zm1 0zm1 0zm1 0zm1 0zm1 0zm2 0zm2 0zm3 0zm4 0zm3 0zm4 0zm12 0zm1 0zm6 0zm11 0zm9 0zm13 0zm4 0zm14 0zm4 0zm10 0zm3 0zm2 0zm6 0zm40 0zm19 0zm4 0zm2 0zm13 0zm10 0zm32 0zm10 0zm-472 1zm1 0zm3 0zm4 0zm3 0zm3 0zm4 0zm2 0zm3 0zm24 0zm34 0zm5 0zm9 0zm1 0zm18 0zm4 0zm5 0zm6 0zm7 0zm7 0zm16 0zm15 0zm1 0zm12 0zm1 0zm22 0zm4 0zm4 0zm2 0zm1 0zm1 0zm1 0zm2 0zm1 0zm1 0zm1 0zm1 0zm1 0zm1 0zm1 0zm2 0zm2 0zm1 0zm5 0zm10 0zm4 0zm4 0zm14 0zm38 0zm4 0zm7 0zm24 0zm3 0zm34 0zm44 0zm30 0zm2 0zm1 0zm4 0zm2 0zm4 0zm-490 1zm8 0zm6 0zm17 0zm16 0zm3 0zm11 0zm9 0zm1 0zm5 0zm1 0zm3 0zm13 0zm14 0zm28 0zm10 0zm2 0zm1 0zm14 0zm31 0zm2 0zm13 0zm1 0zm12 0zm7 0zm3 0zm6 0zm1 0zm1 0zm1 0zm1 0zm1 0zm2 0zm1 0zm1 0zm1 0zm2 0zm2 0zm2 0zm2 0zm1 0zm5 0zm6 0zm11 0zm4 0zm1 0zm14 0zm39 0zm37 0zm3 0zm5 0zm11 0zm12 0zm19 0zm10 0zm1 0zm3 0zm6 0zm5 0zm3 0zm1 0zm2 0zm3 0zm6 0zm8 0zm2 0zm5 0zm-464 1zm3 0zm13 0zm10 0zm8 0zm6 0zm24 0zm4 0zm16 0zm10 0zm18 0zm6 0zm1 0zm5 0zm20 0zm2 0zm4 0zm2 0zm7 0zm7 0zm1 0zm4 0zm13 0zm8 0zm30 0zm4 0zm1 0zm1 0zm1 0zm1 0zm1 0zm1 0zm1 0zm1 0zm1 0zm2 0zm1 0zm1 0zm3 0zm3 0zm1 0zm6 0zm1 0zm7 0zm23 0zm24 0zm7 0zm31 0zm8 0zm4 0zm13 0zm1 0zm14 0zm1 0zm10 0zm4 0zm9 0zm14 0zm30 0zm5 0zm-465 1zm1 0zm1 0zm17 0zm34 0zm3 0zm5 0zm22 0zm10 0zm9 0zm6 0zm2 0zm8 0zm6 0zm4 0zm12 0zm2 0zm1 0zm10 0zm8 0zm2 0zm18 0zm12 0zm18 0zm2 0zm3 0zm2 0zm7 0zm1 0zm1 0zm2 0zm1 0zm1 0zm1 0zm2 0zm1 0zm1 0zm1 0zm1 0zm1 0zm1 0zm1 0zm1 0zm2 0zm1 0zm1 0zm2 0zm1 0zm2 0zm13 0zm16 0zm18 0zm2 0zm1 0zm1 0zm15 0zm27 0zm5 0zm17 0zm4 0zm17 0zm23 0zm5 0zm11 0zm3 0zm2 0zm11 0zm18 0zm6 0zm12 0zm-482 1zm13 0zm3 0zm23 0zm1 0zm34 0zm24 0zm2 0zm8 0zm22 0zm3 0zm7 0zm7 0zm14 0zm7 0zm3 0zm16 0zm5 0zm11 0zm11 0zm7 0zm8 0zm3 0zm2 0zm3 0zm1 0zm1 0zm2 0zm1 0zm1 0zm1 0zm1 0zm2 0zm1 0zm1 0zm3 0zm2 0zm1 0zm1 0zm17 0zm3 0zm4 0zm20 0zm2 0zm4 0zm66 0zm15 0zm2 0zm1 0zm9 0zm2 0zm10 0zm18 0zm15 0zm9 0zm16 0zm-459 1zm3 0zm3 0zm12 0zm9 0zm10 0zm5 0zm1 0zm1 0zm32 0zm11 0zm4 0zm15 0zm2 0zm1 0zm33 0zm11 0zm1 0zm12 0zm48 0zm2 0zm2 0zm2 0zm1 0zm1 0zm3 0zm1 0zm1 0zm3 0zm1 0zm1 0zm1 0zm1 0zm2 0zm1 0zm3 0zm1 0zm24 0zm8 0zm18 0zm3 0zm2 0zm11 0zm26 0zm4 0zm6 0zm39 0zm16 0zm1 0zm3 0zm12 0zm35 0zm5 0zm8 0zm16 0zm-452 1zm14 0zm12 0zm42 0zm2 0zm3 0zm26 0zm6 0zm23 0zm1 0zm15 0zm52 0zm3 0zm1 0zm2 0zm1 0zm2 0zm1 0zm1 0zm1 0zm1 0zm1 0zm3 0zm12 0zm1 0zm2 0zm5 0zm3 0zm44 0zm1 0zm6 0zm5 0zm3 0zm2 0zm2 0zm3 0zm14 0zm20 0zm61 0zm16 0zm3 0zm1 0zm12 0zm10 0zm9 0zm3 0zm-489 1zm59 0zm18 0zm12 0zm17 0zm7 0zm9 0zm13 0zm12 0zm12 0zm2 0zm1 0zm3 0zm14 0zm19 0zm10 0zm11 0zm13 0zm4 0zm3 0zm1 0zm1 0zm1 0zm1 0zm2 0zm1 0zm1 0zm3 0zm2 0zm2 0zm1 0zm1 0zm4 0zm3 0zm2 0zm2 0zm10 0zm10 0zm7 0zm3 0zm14 0zm12 0zm18 0zm12 0zm19 0zm11 0zm4 0zm27 0zm6 0zm41 0zm11 0zm-471 1zm9 0zm9 0zm1 0zm2 0zm1 0zm3 0zm2 0zm5 0zm1 0zm8 0zm17 0zm7 0zm81 0zm18 0zm4 0zm9 0zm4 0zm5 0zm8 0zm6 0zm7 0zm2 0zm18 0zm1 0zm3 0zm1 0zm3 0zm1 0zm1 0zm2 0zm1 0zm1 0zm2 0zm1 0zm1 0zm1 0zm1 0zm1 0zm3 0zm3 0zm1 0zm2 0zm1 0zm3 0zm3 0zm22 0zm20 0zm2 0zm4 0zm7 0zm18 0zm21 0zm3 0zm19 0zm57 0zm1 0zm1 0zm14 0zm5 0zm4 0zm-441 1zm14 0zm2 0zm36 0zm10 0zm38 0zm56 0zm1 0zm23 0zm14 0zm7 0zm10 0zm1 0zm1 0zm1 0zm2 0zm1 0zm3 0zm1 0zm1 0zm1 0zm1 0zm1 0zm1 0zm1 0zm1 0zm1 0zm1 0zm3 0zm4 0zm29 0zm33 0zm31 0zm5 0zm9 0zm27 0zm1 0zm3 0zm17 0zm64 0zm6 0zm-428 1zm3 0zm4 0zm7 0zm9 0zm10 0zm3 0zm23 0zm20 0zm5 0zm20 0zm33 0zm10 0zm27 0zm3 0zm3 0zm1 0zm1 0zm1 0zm3 0zm1 0zm1 0zm2 0zm2 0zm3 0zm1 0zm2 0zm1 0zm1 0zm2 0zm15 0zm14 0zm4 0zm2 0zm2 0zm11 0zm15 0zm28 0zm46 0zm4 0zm11 0zm7 0zm3 0zm9 0zm29 0zm2 0zm6 0zm10 0zm-477 1zm16 0zm4 0zm10 0zm7 0zm11 0zm4 0zm30 0zm19 0zm3 0zm4 0zm3 0zm26 0zm6 0zm13 0zm4 0zm13 0zm21 0zm4 0zm1 0zm8 0zm6 0zm21 0zm1 0zm3 0zm2 0zm2 0zm1 0zm1 0zm1 0zm2 0zm3 0zm1 0zm1 0zm1 0zm1 0zm2 0zm4 0zm50 0zm11 0zm5 0zm40 0zm21 0zm11 0zm10 0zm16 0zm3 0zm2 0zm25 0zm23 0zm8 0zm-474 1zm38 0zm25 0zm14 0zm21 0zm11 0zm4 0zm14 0zm1 0zm1 0zm1 0zm8 0zm25 0zm1 0zm16 0zm10 0zm24 0zm6 0zm4 0zm2 0zm3 0zm1 0zm1 0zm2 0zm1 0zm5 0zm3 0zm1 0zm11 0zm6 0zm12 0zm20 0zm63 0zm11 0zm15 0zm16 0zm1 0zm13 0zm29 0zm20 0zm4 0zm7 0zm-455 1zm27 0zm1 0zm5 0zm1 0zm16 0zm10 0zm25 0zm1 0zm70 0zm1 0zm1 0zm7 0zm1 0zm37 0zm3 0zm1 0zm1 0zm1 0zm2 0zm1 0zm6 0zm1 0zm5 0zm1 0zm2 0zm1 0zm2 0zm1 0zm17 0zm7 0zm3 0zm5 0zm2 0zm9 0zm37 0zm6 0zm9 0zm19 0zm5 0zm19 0zm13 0zm20 0zm28 0zm8 0zm8 0zm-473 1zm1 0zm33 0zm22 0zm11 0zm6 0zm7 0zm2 0zm17 0zm7 0zm2 0zm15 0zm14 0zm32 0zm11 0zm2 0zm52 0zm2 0zm1 0zm4 0zm1 0zm1 0zm1 0zm1 0zm1 0zm1 0zm3 0zm2 0zm5 0zm5 0zm8 0zm24 0zm12 0zm10 0zm23 0zm12 0zm10 0zm13 0zm49 0zm37 0zm7 0zm2 0zm6 0zm10 0zm2 0zm-466 1zm35 0zm12 0zm5 0zm5 0zm33 0zm2 0zm57 0zm10 0zm4 0zm1 0zm10 0zm22 0zm18 0zm3 0zm1 0zm2 0zm3 0zm1 0zm1 0zm2 0zm5 0zm1 0zm2 0zm2 0zm10 0zm2 0zm18 0zm7 0zm10 0zm31 0zm13 0zm6 0zm4 0zm64 0zm11 0zm22 0zm6 0zm5 0zm22 0zm-482 1zm6 0zm46 0zm26 0zm16 0zm20 0zm8 0zm46 0zm13 0zm6 0zm9 0zm2 0zm7 0zm14 0zm5 0zm3 0zm2 0zm4 0zm1 0zm1 0zm2 0zm1 0zm1 0zm1 0zm2 0zm8 0zm1 0zm13 0zm1 0zm13 0zm31 0zm4 0zm49 0zm8 0zm17 0zm4 0zm11 0zm4 0zm6 0zm2 0zm11 0zm4 0zm4 0zm4 0zm18 0zm4 0zm-452 1zm10 0zm23 0zm11 0zm22 0zm13 0zm12 0zm5 0zm20 0zm34 0zm11 0zm2 0zm8 0zm5 0zm21 0zm14 0zm11 0zm4 0zm1 0zm1 0zm1 0zm1 0zm1 0zm2 0zm1 0zm1 0zm6 0zm1 0zm1 0zm21 0zm15 0zm35 0zm5 0zm5 0zm11 0zm80 0zm5 0zm26 0zm-434 1zm6 0zm31 0zm48 0zm9 0zm9 0zm4 0zm77 0zm5 0zm6 0zm12 0zm4 0zm3 0zm1 0zm1 0zm1 0zm1 0zm1 0zm1 0zm2 0zm1 0zm3 0zm2 0zm3 0zm8 0zm59 0zm2 0zm3 0zm6 0zm30 0zm2 0zm48 0zm1 0zm-377 1zm4 0zm4 0zm13 0zm3 0zm34 0zm11 0zm42 0zm6 0zm39 0zm6 0zm22 0zm5 0zm2 0zm5 0zm1 0zm4 0zm2 0zm1 0zm3 0zm1 0zm3 0zm4 0zm1 0zm4 0zm1 0zm4 0zm17 0zm5 0zm7 0zm8 0zm8 0zm39 0zm3 0zm26 0zm2 0zm82 0zm23 0zm-478 1zm32 0zm39 0zm13 0zm50 0zm11 0zm37 0zm27 0zm8 0zm7 0zm5 0zm6 0zm1 0zm1 0zm3 0zm1 0zm3 0zm1 0zm1 0zm2 0zm2 0zm2 0zm21 0zm1 0zm27 0zm32 0zm27 0zm7 0zm6 0zm28 0zm5 0zm49 0zm25 0zm-475 1zm80 0zm40 0zm44 0zm2 0zm1 0zm14 0zm31 0zm5 0zm8 0zm5 0zm1 0zm1 0zm6 0zm1 0zm2 0zm5 0zm10 0zm18 0zm12 0zm9 0zm25 0zm21 0zm92 0zm2 0zm-421 1zm26 0zm19 0zm61 0zm18 0zm5 0zm7 0zm65 0zm8 0zm5 0zm4 0zm1 0zm3 0zm3 0zm3 0zm2 0zm33 0zm58 0zm8 0zm21 0zm39 0zm13 0zm13 0zm45 0zm-464 1zm26 0zm22 0zm6 0zm1 0zm34 0zm5 0zm48 0zm23 0zm18 0zm7 0zm11 0zm15 0zm1 0zm2 0zm1 0zm4 0zm1 0zm4 0zm1 0zm13 0zm1 0zm130 0zm9 0zm15 0zm29 0zm8 0zm5 0zm18 0zm7 0zm1 0zm-465 1zm4 0zm36 0zm9 0zm22 0zm29 0zm42 0zm27 0zm19 0zm24 0zm1 0zm2 0zm6 0zm1 0zm1 0zm1 0zm5 0zm5 0zm18 0zm22 0zm7 0zm46 0zm11 0zm1 0zm15 0zm47 0zm6 0zm2 0zm9 0zm5 0zm23 0zm-450 1zm16 0zm112 0zm8 0zm13 0zm15 0zm31 0zm18 0zm3 0zm3 0zm4 0zm3 0zm3 0zm1 0zm1 0zm1 0zm3 0zm1 0zm4 0zm20 0zm31 0zm42 0zm9 0zm27 0zm66 0zm12 0zm22 0zm-461 1zm49 0zm28 0zm1 0zm3 0zm59 0zm26 0zm45 0zm1 0zm1 0zm4 0zm2 0zm1 0zm1 0zm2 0zm2 0zm17 0zm58 0zm16 0zm16 0zm17 0zm29 0zm43 0zm13 0zm13 0zm2 0zm-441 1zm20 0zm22 0zm35 0zm11 0zm1 0zm15 0zm7 0zm2 0zm62 0zm25 0zm2 0zm5 0zm1 0zm3 0zm1 0zm2 0zm1 0zm2 0zm26 0zm100 0zm54 0zm11 0zm17 0zm23 0zm10 0zm-482 1zm19 0zm33 0zm6 0zm93 0zm2 0zm11 0zm18 0zm35 0zm1 0zm4 0zm7 0zm3 0zm3 0zm1 0zm2 0zm4 0zm1 0zm10 0zm10 0zm48 0zm26 0zm3 0zm19 0zm4 0zm11 0zm14 0zm19 0zm25 0zm-411 1zm65 0zm9 0zm5 0zm1 0zm65 0zm9 0zm42 0zm9 0zm1 0zm1 0zm1 0zm1 0zm1 0zm1 0zm1 0zm1 0zm1 0zm2 0zm1 0zm1 0zm2 0zm10 0zm39 0zm115 0zm17 0zm-413 1zm11 0zm80 0zm5 0zm59 0zm7 0zm30 0zm8 0zm17 0zm1 0zm4 0zm1 0zm1 0zm5 0zm3 0zm3 0zm23 0zm86 0zm14 0zm12 0zm44 0zm40 0zm-351 1zm110 0zm1 0zm1 0zm2 0zm1 0zm2 0zm1 0zm8 0zm4 0zm2 0zm9 0zm48 0zm10 0zm8 0zm13 0zm1 0zm16 0zm3 0zm1 0zm45 0zm3 0zm26 0zm19 0zm-352 1zm30 0zm54 0zm23 0zm28 0zm5 0zm1 0zm2 0zm3 0zm4 0zm72 0zm18 0zm40 0zm56 0zm3 0zm6 0zm20 0zm-420 1zm5 0zm39 0zm25 0zm13 0zm4 0zm27 0zm61 0zm11 0zm1 0zm6 0zm2 0zm1 0zm5 0zm1 0zm3 0zm20 0zm48 0zm38 0zm73 0zm3 0zm1 0zm31 0zm2 0zm11 0zm-440 1zm28 0zm35 0zm3 0zm45 0zm63 0zm3 0zm3 0zm13 0zm14 0zm1 0zm2 0zm3 0zm2 0zm1 0zm24 0zm17 0zm59 0zm95 0zm-359 1zm35 0zm2 0zm47 0zm45 0zm18 0zm6 0zm2 0zm1 0zm3 0zm12 0zm38 0zm1 0zm22 0zm29 0zm22 0zm1 0zm29 0zm47 0zm3 0zm16 0zm-450 1zm84 0zm103 0zm35 0zm4 0zm1 0zm1 0zm2 0zm12 0zm52 0zm25 0zm85 0zm-419 1zm12 0zm36 0zm1 0zm116 0zm59 0zm2 0zm11 0zm16 0zm54 0zm21 0zm130 0zm-456 1zm6 0zm35 0zm34 0zm60 0zm30 0zm49 0zm7 0zm8 0zm1 0zm7 0zm5 0zm7 0zm2 0zm2 0zm63 0zm21 0zm16 0zm9 0zm46 0zm-389 1zm103 0zm56 0zm44 0zm13 0zm1 0zm1 0zm2 0zm4 0zm12 0zm6 0zm28 0zm6 0zm55 0zm7 0zm28 0zm46 0zm3 0zm26 0zm9 0zm-428 1zm7 0zm33 0zm40 0zm20 0zm12 0zm6 0zm69 0zm3 0zm2 0zm1 0zm1 0zm2 0zm3 0zm4 0zm1 0zm14 0zm8 0zm38 0zm5 0zm5 0zm146 0zm-454 1zm25 0zm11 0zm24 0zm133 0zm35 0zm3 0zm1 0zm4 0zm3 0zm11 0zm58 0zm97 0zm63 0zm-259 1zm16 0zm2 0zm76 0zm76 0zm35 0zm-342 1zm26 0zm46 0zm41 0zm35 0zm2 0zm2 0zm4 0zm1 0zm1 0zm4 0zm30 0zm74 0zm21 0zm36 0zm57 0zm-444 1zm51 0zm12 0zm51 0zm93 0zm10 0zm2 0zm6 0zm2 0zm2 0zm6 0zm1 0zm36 0zm81 0zm28 0zm-274 1zm75 0zm26 0zm5 0zm3 0zm3 0zm2 0zm6 0zm24 0zm37 0zm31 0zm-269 1zm106 0zm39 0zm27 0zm11 0zm12 0zm89 0zm55 0zm47 0zm22 0zm-420 1zm113 0zm74 0zm6 0zm95 0zm52 0zm27 0zm6 0zm-268 1zm24 0zm49 0zm1 0zm8 0zm219 0zm-465 1zm31 0zm67 0zm6 0zm40 0zm34 0zm67 0zm12 0zm165 0zm-341 1zm27 0zm116 0zm11 0zm6 0zm3 0zm3 0zm8 0zm81 0zm142 0zm-328 1zm88 0zm6 0zm4 0zm9 0zm5 0zm28 0zm2 0zm126 0zm43 0zm-430 1zm38 0zm10 0zm157 0zm15 0zm41 0zm130 0zm-291 1zm101 0zm17 0zm42 0zm189 0zm-474 1zm250 0zm82 0zm116 0zm-421 1zm101 0zm57 0zm5 0zm46 0zm2 0zm-171 1zm93 0zm38 0zm29 0zm16 0zm33 0zm37 0zm10 0zm-167 1zm6 0zm31 0zm43 0zm8 0zm81 0zm147 0zm-322 1zm79 0zm6 0zm1 0zm5 0zm51 0zm-262 1zm210 0zm17 0zm17 0zm6 0zm-44 1zm170 0zm8 0zm-301 1zm89 0zm40 0zm240 0zm-285 1zm35 0zm3 0zm1 0zm-140 1zm140 0zm5 0zm54 0zm27 0zm25 0zm5 0zm-217 1zm73 0zm-163 1zm83 0zm-13 1zm133 0zm-216 1zm182 0zm12 0zm187 0zm-254 1zm96 0zm110 0zm-341 1zm327 1zm-351 1zm433 1zm32 0zm-435 1zm218 0zm-162 2zm329 0zm-338 7zm364 11zm-340 7zm362 8zm-356 22zm-101 26zm230 80z" fill="none" stroke="#000" stroke-width="1.65" stroke-linecap="round" stroke-linejoin="round"/>
</g>
<g clip-path="url(#c1)">
<path d="M297.8 580.25V47.75" stroke="#006400" stroke-width="2.25" stroke-dasharray="9 9" stroke-linecap="round" fill="none"/>
<path d="M353.05 580.25V47.75" stroke="#006400" stroke-width="2.25" stroke-dasharray="9 9" stroke-linecap="round" fill="none"/>
<path d="M59.75 313.76H592.25" stroke="#CD2626" stroke-width="2.25" stroke-dasharray="9 9" stroke-linecap="round" fill="none"/>
</g>
<rect x="59.75" y="47.75" width="532.5" height="532.5" fill="none" stroke="#000" stroke-width="0.75" stroke-linejoin="round"/>
<path d="M124.45 580.25H526.25M124.45 580.25v6.2M224.9 580.25v6.2M325.35 580.25v6.2M425.8 580.25v6.2M526.25 580.25v6.2" stroke="#000" stroke-width="0.75" fill="none"/>
<text x="124.25" y="601.9" text-anchor="middle" class="tk">-400</text>
<text x="224.7" y="601.9" text-anchor="middle" class="tk">-200</text>
<text x="324.75" y="601.9" text-anchor="middle" class="tk">0</text>
<text x="425.6" y="601.9" text-anchor="middle" class="tk">200</text>
<text x="526.05" y="601.9" text-anchor="middle" class="tk">400</text>
<path d="M59.75 59.4V511.6M59.75 511.6h-6.2M59.75 398.55h-6.2M59.75 285.5h-6.2M59.75 172.45h-6.2M59.75 59.4h-6.2" stroke="#000" stroke-width="0.75" fill="none"/>
<text transform="translate(45.1 512) rotate(-90)" text-anchor="middle" class="tk">60</text>
<text transform="translate(45.1 398.95) rotate(-90)" text-anchor="middle" class="tk">70</text>
<text transform="translate(45.1 285.9) rotate(-90)" text-anchor="middle" class="tk">80</text>
<text transform="translate(45.1 172.85) rotate(-90)" text-anchor="middle" class="tk">90</text>
<text transform="translate(45.1 59.8) rotate(-90)" text-anchor="middle" class="tk">100</text>
<text x="323" y="31.8" text-anchor="middle" class="ti" textLength="213.6" lengthAdjust="spacing">Top hit for each peak</text>
<text x="326.3" y="625.9" text-anchor="middle" class="la" textLength="174.8" lengthAdjust="spacing">Distance to peak summit</text>
<text transform="translate(22.1 314.3) rotate(-90)" text-anchor="middle" class="la" textLength="77.4" lengthAdjust="spacing">Motif score</text>
<!-- panel 2 -->
<defs>
<linearGradient id="hg" gradientUnits="userSpaceOnUse" x1="925.5" y1="0" x2="1005.5" y2="0"><stop offset="0%" stop-color="#fff" stop-opacity="0"/><stop offset="10%" stop-color="#fff" stop-opacity="0.001"/><stop offset="17.5%" stop-color="#fff" stop-opacity="0.003"/><stop offset="22.5%" stop-color="#fff" stop-opacity="0.005"/><stop offset="27.5%" stop-color="#fff" stop-opacity="0.01"/><stop offset="31.25%" stop-color="#fff" stop-opacity="0.024"/><stop offset="33.75%" stop-color="#fff" stop-opacity="0.046"/><stop offset="36.25%" stop-color="#fff" stop-opacity="0.102"/><stop offset="38.25%" stop-color="#fff" stop-opacity="0.182"/><stop offset="40%" stop-color="#fff" stop-opacity="0.274"/><stop offset="41.88%" stop-color="#fff" stop-opacity="0.378"/><stop offset="43.25%" stop-color="#fff" stop-opacity="0.457"/><stop offset="44.5%" stop-color="#fff" stop-opacity="0.541"/><stop offset="45.25%" stop-color="#fff" stop-opacity="0.601"/><stop offset="46%" stop-color="#fff" stop-opacity="0.669"/><stop offset="46.62%" stop-color="#fff" stop-opacity="0.729"/><stop offset="47.25%" stop-color="#fff" stop-opacity="0.793"/><stop offset="48%" stop-color="#fff" stop-opacity="0.871"/><stop offset="48.75%" stop-color="#fff" stop-opacity="0.942"/><stop offset="49.38%" stop-color="#fff" stop-opacity="0.984"/><stop offset="50%" stop-color="#fff" stop-opacity="1"/><stop offset="50.62%" stop-color="#fff" stop-opacity="0.984"/><stop offset="51.25%" stop-color="#fff" stop-opacity="0.942"/><stop offset="52%" stop-color="#fff" stop-opacity="0.871"/><stop offset="52.75%" stop-color="#fff" stop-opacity="0.793"/><stop offset="53.38%" stop-color="#fff" stop-opacity="0.729"/><stop offset="54%" stop-color="#fff" stop-opacity="0.669"/><stop offset="54.75%" stop-color="#fff" stop-opacity="0.601"/><stop offset="55.5%" stop-color="#fff" stop-opacity="0.541"/><stop offset="56.75%" stop-color="#fff" stop-opacity="0.457"/><stop offset="58.13%" stop-color="#fff" stop-opacity="0.378"/><stop offset="60%" stop-color="#fff" stop-opacity="0.274"/><stop offset="61.75%" stop-color="#fff" stop-opacity="0.182"/><stop offset="63.75%" stop-color="#fff" stop-opacity="0.102"/><stop offset="66.25%" stop-color="#fff" stop-opacity="0.046"/><stop offset="68.75%" stop-color="#fff" stop-opacity="0.024"/><stop offset="72.5%" stop-color="#fff" stop-opacity="0.01"/><stop offset="77.5%" stop-color="#fff" stop-opacity="0.005"/><stop offset="82.5%" stop-color="#fff" stop-opacity="0.003"/><stop offset="90%" stop-color="#fff" stop-opacity="0.001"/><stop offset="100%" stop-color="#fff" stop-opacity="0"/></linearGradient>
<linearGradient id="hv" gradientUnits="userSpaceOnUse" x1="0" y1="37.24" x2="0" y2="397.86"><stop offset="0%" stop-color="#fff" stop-opacity="0"/><stop offset="1.35%" stop-color="#fff" stop-opacity="0.003"/><stop offset="2.7%" stop-color="#fff" stop-opacity="0.009"/><stop offset="4.05%" stop-color="#fff" stop-opacity="0.015"/><stop offset="5.41%" stop-color="#fff" stop-opacity="0.024"/><stop offset="6.76%" stop-color="#fff" stop-opacity="0.038"/><stop offset="8.11%" stop-color="#fff" stop-opacity="0.059"/><stop offset="9.46%" stop-color="#fff" stop-opacity="0.085"/><stop offset="10.81%" stop-color="#fff" stop-opacity="0.115"/><stop offset="12.16%" stop-color="#fff" stop-opacity="0.15"/><stop offset="13.51%" stop-color="#fff" stop-opacity="0.191"/><stop offset="14.86%" stop-color="#fff" stop-opacity="0.236"/><stop offset="16.22%" stop-color="#fff" stop-opacity="0.283"/><stop offset="17.57%" stop-color="#fff" stop-opacity="0.33"/><stop offset="18.92%" stop-color="#fff" stop-opacity="0.38"/><stop offset="20.27%" stop-color="#fff" stop-opacity="0.433"/><stop offset="21.62%" stop-color="#fff" stop-opacity="0.49"/><stop offset="22.97%" stop-color="#fff" stop-opacity="0.553"/><stop offset="24.32%" stop-color="#fff" stop-opacity="0.626"/><stop offset="25.68%" stop-color="#fff" stop-opacity="0.692"/><stop offset="27.03%" stop-color="#fff" stop-opacity="0.752"/><stop offset="28.38%" stop-color="#fff" stop-opacity="0.807"/><stop offset="29.73%" stop-color="#fff" stop-opacity="0.859"/><stop offset="31.08%" stop-color="#fff" stop-opacity="0.899"/><stop offset="32.43%" stop-color="#fff" stop-opacity="0.931"/><stop offset="33.78%" stop-color="#fff" stop-opacity="0.955"/><stop offset="35.14%" stop-color="#fff" stop-opacity="0.973"/><stop offset="36.49%" stop-color="#fff" stop-opacity="0.986"/><stop offset="37.84%" stop-color="#fff" stop-opacity="0.993"/><stop offset="39.19%" stop-color="#fff" stop-opacity="0.998"/><stop offset="40.54%" stop-color="#fff" stop-opacity="1"/><stop offset="41.89%" stop-color="#fff" stop-opacity="0.998"/><stop offset="43.24%" stop-color="#fff" stop-opacity="0.993"/><stop offset="44.59%" stop-color="#fff" stop-opacity="0.986"/><stop offset="45.95%" stop-color="#fff" stop-opacity="0.975"/><stop offset="47.3%" stop-color="#fff" stop-opacity="0.96"/><stop offset="48.65%" stop-color="#fff" stop-opacity="0.934"/><stop offset="50%" stop-color="#fff" stop-opacity="0.899"/><stop offset="51.35%" stop-color="#fff" stop-opacity="0.86"/><stop offset="52.7%" stop-color="#fff" stop-opacity="0.814"/><stop offset="54.05%" stop-color="#fff" stop-opacity="0.769"/><stop offset="55.41%" stop-color="#fff" stop-opacity="0.726"/><stop offset="56.76%" stop-color="#fff" stop-opacity="0.677"/><stop offset="58.11%" stop-color="#fff" stop-opacity="0.613"/><stop offset="59.46%" stop-color="#fff" stop-opacity="0.551"/><stop offset="60.81%" stop-color="#fff" stop-opacity="0.49"/><stop offset="62.16%" stop-color="#fff" stop-opacity="0.431"/><stop offset="63.51%" stop-color="#fff" stop-opacity="0.372"/><stop offset="64.86%" stop-color="#fff" stop-opacity="0.318"/><stop offset="66.22%" stop-color="#fff" stop-opacity="0.272"/><stop offset="67.57%" stop-color="#fff" stop-opacity="0.233"/><stop offset="68.92%" stop-color="#fff" stop-opacity="0.199"/><stop offset="70.27%" stop-color="#fff" stop-opacity="0.168"/><stop offset="71.62%" stop-color="#fff" stop-opacity="0.142"/><stop offset="72.97%" stop-color="#fff" stop-opacity="0.119"/><stop offset="74.32%" stop-color="#fff" stop-opacity="0.104"/><stop offset="75.68%" stop-color="#fff" stop-opacity="0.092"/><stop offset="77.03%" stop-color="#fff" stop-opacity="0.081"/><stop offset="78.38%" stop-color="#fff" stop-opacity="0.069"/><stop offset="79.73%" stop-color="#fff" stop-opacity="0.057"/><stop offset="81.08%" stop-color="#fff" stop-opacity="0.047"/><stop offset="82.43%" stop-color="#fff" stop-opacity="0.04"/><stop offset="83.78%" stop-color="#fff" stop-opacity="0.034"/><stop offset="85.14%" stop-color="#fff" stop-opacity="0.028"/><stop offset="86.49%" stop-color="#fff" stop-opacity="0.023"/><stop offset="87.84%" stop-color="#fff" stop-opacity="0.019"/><stop offset="89.19%" stop-color="#fff" stop-opacity="0.016"/><stop offset="90.54%" stop-color="#fff" stop-opacity="0.013"/><stop offset="91.89%" stop-color="#fff" stop-opacity="0.01"/><stop offset="93.24%" stop-color="#fff" stop-opacity="0.008"/><stop offset="94.59%" stop-color="#fff" stop-opacity="0.006"/><stop offset="95.95%" stop-color="#fff" stop-opacity="0.004"/><stop offset="97.3%" stop-color="#fff" stop-opacity="0.003"/><stop offset="98.65%" stop-color="#fff" stop-opacity="0.001"/><stop offset="100%" stop-color="#fff" stop-opacity="0"/></linearGradient>
<linearGradient id="hv2" gradientUnits="userSpaceOnUse" x1="0" y1="37.24" x2="0" y2="397.86"><stop offset="0%" stop-color="#fff" stop-opacity="0"/><stop offset="1.35%" stop-color="#fff" stop-opacity="0"/><stop offset="2.7%" stop-color="#fff" stop-opacity="0"/><stop offset="4.05%" stop-color="#fff" stop-opacity="0"/><stop offset="5.41%" stop-color="#fff" stop-opacity="0"/><stop offset="6.76%" stop-color="#fff" stop-opacity="0"/><stop offset="8.11%" stop-color="#fff" stop-opacity="0"/><stop offset="9.46%" stop-color="#fff" stop-opacity="0"/><stop offset="10.81%" stop-color="#fff" stop-opacity="0"/><stop offset="12.16%" stop-color="#fff" stop-opacity="0"/><stop offset="13.51%" stop-color="#fff" stop-opacity="0"/><stop offset="14.86%" stop-color="#fff" stop-opacity="0"/><stop offset="16.22%" stop-color="#fff" stop-opacity="0"/><stop offset="17.57%" stop-color="#fff" stop-opacity="0"/><stop offset="18.92%" stop-color="#fff" stop-opacity="0"/><stop offset="20.27%" stop-color="#fff" stop-opacity="0"/><stop offset="21.62%" stop-color="#fff" stop-opacity="0"/><stop offset="22.97%" stop-color="#fff" stop-opacity="0"/><stop offset="24.32%" stop-color="#fff" stop-opacity="0"/><stop offset="25.68%" stop-color="#fff" stop-opacity="0"/><stop offset="27.03%" stop-color="#fff" stop-opacity="0"/><stop offset="28.38%" stop-color="#fff" stop-opacity="0"/><stop offset="29.73%" stop-color="#fff" stop-opacity="0"/><stop offset="31.08%" stop-color="#fff" stop-opacity="0"/><stop offset="32.43%" stop-color="#fff" stop-opacity="0"/><stop offset="33.78%" stop-color="#fff" stop-opacity="0"/><stop offset="35.14%" stop-color="#fff" stop-opacity="0"/><stop offset="36.49%" stop-color="#fff" stop-opacity="0"/><stop offset="37.84%" stop-color="#fff" stop-opacity="0"/><stop offset="39.19%" stop-color="#fff" stop-opacity="0"/><stop offset="40.54%" stop-color="#fff" stop-opacity="0"/><stop offset="41.89%" stop-color="#fff" stop-opacity="0"/><stop offset="43.24%" stop-color="#fff" stop-opacity="0"/><stop offset="44.59%" stop-color="#fff" stop-opacity="0"/><stop offset="45.95%" stop-color="#fff" stop-opacity="0"/><stop offset="47.3%" stop-color="#fff" stop-opacity="0"/><stop offset="48.65%" stop-color="#fff" stop-opacity="0"/><stop offset="50%" stop-color="#fff" stop-opacity="0"/><stop offset="51.35%" stop-color="#fff" stop-opacity="0"/><stop offset="52.7%" stop-color="#fff" stop-opacity="0"/><stop offset="54.05%" stop-color="#fff" stop-opacity="0"/><stop offset="55.41%" stop-color="#fff" stop-opacity="0"/><stop offset="56.76%" stop-color="#fff" stop-opacity="0.005"/><stop offset="58.11%" stop-color="#fff" stop-opacity="0.024"/><stop offset="59.46%" stop-color="#fff" stop-opacity="0.04"/><stop offset="60.81%" stop-color="#fff" stop-opacity="0.054"/><stop offset="62.16%" stop-color="#fff" stop-opacity="0.064"/><stop offset="63.51%" stop-color="#fff" stop-opacity="0.071"/><stop offset="64.86%" stop-color="#fff" stop-opacity="0.075"/><stop offset="66.22%" stop-color="#fff" stop-opacity="0.077"/><stop offset="67.57%" stop-color="#fff" stop-opacity="0.078"/><stop offset="68.92%" stop-color="#fff" stop-opacity="0.078"/><stop offset="70.27%" stop-color="#fff" stop-opacity="0.076"/><stop offset="71.62%" stop-color="#fff" stop-opacity="0.074"/><stop offset="72.97%" stop-color="#fff" stop-opacity="0.071"/><stop offset="74.32%" stop-color="#fff" stop-opacity="0.064"/><stop offset="75.68%" stop-color="#fff" stop-opacity="0.057"/><stop offset="77.03%" stop-color="#fff" stop-opacity="0.05"/><stop offset="78.38%" stop-color="#fff" stop-opacity="0.042"/><stop offset="79.73%" stop-color="#fff" stop-opacity="0.035"/><stop offset="81.08%" stop-color="#fff" stop-opacity="0.029"/><stop offset="82.43%" stop-color="#fff" stop-opacity="0.024"/><stop offset="83.78%" stop-color="#fff" stop-opacity="0.021"/><stop offset="85.14%" stop-color="#fff" stop-opacity="0.017"/><stop offset="86.49%" stop-color="#fff" stop-opacity="0.014"/><stop offset="87.84%" stop-color="#fff" stop-opacity="0.012"/><stop offset="89.19%" stop-color="#fff" stop-opacity="0.01"/><stop offset="90.54%" stop-color="#fff" stop-opacity="0.008"/><stop offset="91.89%" stop-color="#fff" stop-opacity="0.006"/><stop offset="93.24%" stop-color="#fff" stop-opacity="0.005"/><stop offset="94.59%" stop-color="#fff" stop-opacity="0.004"/><stop offset="95.95%" stop-color="#fff" stop-opacity="0.003"/><stop offset="97.3%" stop-color="#fff" stop-opacity="0.002"/><stop offset="98.65%" stop-color="#fff" stop-opacity="0.001"/><stop offset="100%" stop-color="#fff" stop-opacity="0"/></linearGradient>
<linearGradient id="hg2" gradientUnits="userSpaceOnUse" x1="885.5" y1="0" x2="1045.5" y2="0"><stop offset="0%" stop-color="#fff" stop-opacity="0"/><stop offset="10%" stop-color="#fff" stop-opacity="0.001"/><stop offset="17.5%" stop-color="#fff" stop-opacity="0.003"/><stop offset="22.5%" stop-color="#fff" stop-opacity="0.005"/><stop offset="27.5%" stop-color="#fff" stop-opacity="0.01"/><stop offset="31.25%" stop-color="#fff" stop-opacity="0.024"/><stop offset="33.75%" stop-color="#fff" stop-opacity="0.046"/><stop offset="36.25%" stop-color="#fff" stop-opacity="0.102"/><stop offset="38.25%" stop-color="#fff" stop-opacity="0.182"/><stop offset="40%" stop-color="#fff" stop-opacity="0.274"/><stop offset="41.88%" stop-color="#fff" stop-opacity="0.378"/><stop offset="43.25%" stop-color="#fff" stop-opacity="0.457"/><stop offset="44.5%" stop-color="#fff" stop-opacity="0.541"/><stop offset="45.25%" stop-color="#fff" stop-opacity="0.601"/><stop offset="46%" stop-color="#fff" stop-opacity="0.669"/><stop offset="46.62%" stop-color="#fff" stop-opacity="0.729"/><stop offset="47.25%" stop-color="#fff" stop-opacity="0.793"/><stop offset="48%" stop-color="#fff" stop-opacity="0.871"/><stop offset="48.75%" stop-color="#fff" stop-opacity="0.942"/><stop offset="49.38%" stop-color="#fff" stop-opacity="0.984"/><stop offset="50%" stop-color="#fff" stop-opacity="1"/><stop offset="50.62%" stop-color="#fff" stop-opacity="0.984"/><stop offset="51.25%" stop-color="#fff" stop-opacity="0.942"/><stop offset="52%" stop-color="#fff" stop-opacity="0.871"/><stop offset="52.75%" stop-color="#fff" stop-opacity="0.793"/><stop offset="53.38%" stop-color="#fff" stop-opacity="0.729"/><stop offset="54%" stop-color="#fff" stop-opacity="0.669"/><stop offset="54.75%" stop-color="#fff" stop-opacity="0.601"/><stop offset="55.5%" stop-color="#fff" stop-opacity="0.541"/><stop offset="56.75%" stop-color="#fff" stop-opacity="0.457"/><stop offset="58.13%" stop-color="#fff" stop-opacity="0.378"/><stop offset="60%" stop-color="#fff" stop-opacity="0.274"/><stop offset="61.75%" stop-color="#fff" stop-opacity="0.182"/><stop offset="63.75%" stop-color="#fff" stop-opacity="0.102"/><stop offset="66.25%" stop-color="#fff" stop-opacity="0.046"/><stop offset="68.75%" stop-color="#fff" stop-opacity="0.024"/><stop offset="72.5%" stop-color="#fff" stop-opacity="0.01"/><stop offset="77.5%" stop-color="#fff" stop-opacity="0.005"/><stop offset="82.5%" stop-color="#fff" stop-opacity="0.003"/><stop offset="90%" stop-color="#fff" stop-opacity="0.001"/><stop offset="100%" stop-color="#fff" stop-opacity="0"/></linearGradient>
<mask id="hm2" maskUnits="userSpaceOnUse" x="885.5" y="37.24" width="160" height="360.62" style="mask-type:alpha"><rect x="885.5" y="37.24" width="160" height="360.62" fill="url(#hv2)"/></mask>
<linearGradient id="hb" gradientUnits="userSpaceOnUse" x1="0" y1="124.96" x2="0" y2="392.99"><stop offset="0%" stop-color="#fff" stop-opacity="0"/><stop offset="13.64%" stop-color="#fff" stop-opacity="0.001"/><stop offset="22.73%" stop-color="#fff" stop-opacity="0.002"/><stop offset="31.82%" stop-color="#fff" stop-opacity="0.004"/><stop offset="40.91%" stop-color="#fff" stop-opacity="0.005"/><stop offset="50%" stop-color="#fff" stop-opacity="0.006"/><stop offset="59.09%" stop-color="#fff" stop-opacity="0.006"/><stop offset="68.18%" stop-color="#fff" stop-opacity="0.005"/><stop offset="77.27%" stop-color="#fff" stop-opacity="0.003"/><stop offset="86.36%" stop-color="#fff" stop-opacity="0.002"/><stop offset="100%" stop-color="#fff" stop-opacity="0"/></linearGradient>
<mask id="hm" maskUnits="userSpaceOnUse" x="925.5" y="37.24" width="80" height="360.62" style="mask-type:alpha"><rect x="925.5" y="37.24" width="80" height="360.62" fill="url(#hv)"/></mask>
<filter id="hf" filterUnits="userSpaceOnUse" x="700" y="48" width="532" height="532" color-interpolation-filters="sRGB"><feComponentTransfer><feFuncR type="table" tableValues="1 0 1"/><feFuncG type="table" tableValues="1 0 0"/><feFuncB type="table" tableValues="1 1 0"/></feComponentTransfer></filter>
</defs>
<g filter="url(#hf)">
<rect x="700" y="48" width="532" height="532" fill="#000"/>
<rect x="700" y="124.96" width="532" height="268.03" fill="url(#hb)"/>
<g mask="url(#hm)"><rect x="925.5" y="37.24" width="80" height="360.62" fill="url(#hg)"/></g>
<g mask="url(#hm2)"><rect x="885.5" y="37.24" width="160" height="360.62" fill="url(#hg2)"/></g>
</g>
<g clip-path="url(#c2)">
<path d="M935.7 580.25V47.75" stroke="#006400" stroke-width="1.5" stroke-dasharray="6 6" stroke-linecap="square" fill="none"/>
<path d="M995.15 580.25V47.75" stroke="#006400" stroke-width="1.5" stroke-dasharray="6 6" stroke-linecap="square" fill="none"/>
<path d="M699.75 314.03H1232.25" stroke="#CD2626" stroke-width="1.5" stroke-dasharray="6 6" stroke-linecap="square" fill="none"/>
</g>
<rect x="699.75" y="47.75" width="532.5" height="532.5" fill="none" stroke="#000" stroke-width="0.75" stroke-linejoin="round"/>
<path d="M748.5 580.25H1182.5M748.5 580.25v6.2M857 580.25v6.2M965.5 580.25v6.2M1074 580.25v6.2M1182.5 580.25v6.2" stroke="#000" stroke-width="0.75" fill="none"/>
<text x="748.3" y="601.9" text-anchor="middle" class="tk">-400</text>
<text x="856.8" y="601.9" text-anchor="middle" class="tk">-200</text>
<text x="964.9" y="601.9" text-anchor="middle" class="tk">0</text>
<text x="1073.8" y="601.9" text-anchor="middle" class="tk">200</text>
<text x="1182.3" y="601.9" text-anchor="middle" class="tk">400</text>
<path d="M699.75 161.51V527M699.75 527h-6.2M699.75 405.17h-6.2M699.75 283.34h-6.2M699.75 161.51h-6.2" stroke="#000" stroke-width="0.75" fill="none"/>
<text transform="translate(685.1 527.4) rotate(-90)" text-anchor="middle" class="tk">60</text>
<text transform="translate(685.1 405.57) rotate(-90)" text-anchor="middle" class="tk">70</text>
<text transform="translate(685.1 283.74) rotate(-90)" text-anchor="middle" class="tk">80</text>
<text transform="translate(685.1 161.91) rotate(-90)" text-anchor="middle" class="tk">90</text>
<text x="966.2" y="31.8" text-anchor="middle" class="ti" textLength="334.5" lengthAdjust="spacing">Density heat map for the top hits</text>
<text x="966.3" y="625.9" text-anchor="middle" class="la" textLength="174.8" lengthAdjust="spacing">Distance to peak summit</text>
<text transform="translate(662.1 314.3) rotate(-90)" text-anchor="middle" class="la" textLength="77.4" lengthAdjust="spacing">Motif score</text>
<!-- panel 3 -->
<path d="M79.25 1200.3 225 1199.98 226.5 1199.95 228 1199.93 229.5 1199.91 231 1199.88 232.5 1199.85 234 1199.81 235.5 1199.77 237 1199.72 238.5 1199.66 240 1199.6 241.5 1199.53 243 1199.44 244.5 1199.33 246 1199.19 247.5 1199.02 249 1198.75 250.5 1198.38 252 1197.97 253.5 1197.54 255 1197.11 256.5 1196.64 258 1196.13 259.5 1195.61 261 1195.1 262.5 1194.61 264 1194.13 265.5 1193.64 267 1193.15 268.5 1192.63 270 1192.11 271.5 1191.58 273 1190.99 274.5 1190.3 276 1189.45 277.5 1188.44 279 1187.3 280.5 1186 282 1184.48 283.5 1182.73 285 1180.67 286.5 1178.45 288 1176.08 289.5 1173.48 291 1170.63 292.5 1167.59 294 1164.45 295.5 1161.29 297 1158.18 298.5 1155.03 300 1151.77 301.5 1148.29 303 1144.51 304.5 1140.45 306 1136.17 307.5 1131.72 309 1127.12 310.5 1122.31 312 1117.28 313.5 1112.04 315 1106.6 316.5 1100.94 318 1094.97 319.5 1088.59 321 1081.47 322.5 1073.7 324 1066.12 325.5 1058.93 327 1051.97 328.5 1045.25 330 1038.73 331.5 1032.35 333 1026.07 334.5 1019.85 336 1013.75 337.5 1007.72 339 1001.7 340.5 995.78 342 989.87 343.5 983.85 345 977.57 346.5 971.08 348 964.55 349.5 958.13 351 951.88 352.5 945.65 354 939.28 355.5 932.6 357 925.45 358.5 917.94 360 910.33 361.5 902.75 363 895.06 364.5 887.39 366 879.9 367.5 872.59 369 865.43 370.5 858.5 372 851.84 373.5 845.4 375 839.27 376.5 833.63 378 828.43 379.5 823.1 381 817.18 382.5 810.82 384 804.02 385.5 796.58 387 788.07 388.5 780.43 390 773.76 391.5 768.04 393 763.16 394.5 759.12 396 755.9 397.5 753.1 399 750.31 400.5 747.27 402 744.24 403.5 741 405 737.22 406.5 732.3 408 726.67 409.5 721.31 411 715.94 412.5 711.76 414 709.04 415.5 707.68 417 707.4 418.5 708.51 420 711.34 421.5 715.62 423 719.35 424.5 723.06 426 726.9 427.5 730.78 429 734.84 430.5 739.52 432 745.36 433.5 751.74 435 757.78 436.5 763.87 438 769.38 439.5 773.48 441 776.6 442.5 779.53 444 783.07 445.5 787.53 447 792.99 448.5 800.29 450 808.98 451.5 817.55 453 826.35 454.5 834.52 456 841.78 457.5 848.59 459 855.34 460.5 862.32 462 869.36 463.5 876.51 465 883.79 466.5 891.16 468 898.86 469.5 907.2 471 916.13 472.5 925.05 474 933.89 475.5 942.93 477 952.26 478.5 961.73 480 971.34 481.5 980.94 483 990.57 484.5 999.92 486 1007.89 487.5 1014.82 489 1021.56 490.5 1028.83 492 1036.38 493.5 1043.99 495 1051.67 496.5 1059.41 498 1066.6 499.5 1073.04 501 1079.06 502.5 1084.76 504 1090.23 505.5 1095.48 507 1100.51 508.5 1105.36 510 1110.02 511.5 1114.46 513 1118.73 514.5 1122.9 516 1127.08 517.5 1131.34 519 1135.73 520.5 1140.16 522 1144.51 523.5 1148.66 525 1152.51 526.5 1156.18 528 1159.72 529.5 1163.11 531 1166.34 532.5 1169.41 534 1172.33 535.5 1175.17 537 1177.89 538.5 1180.46 540 1182.83 541.5 1184.97 543 1186.96 544.5 1188.84 546 1190.58 547.5 1192.17 549 1193.6 550.5 1194.87 552 1196.1 553.5 1197.25 555 1198.21 556.5 1198.91 558 1199.33 559.5 1199.68 561 1199.98 562.5 1200.19 564 1200.29 565.5 1200.3 567 1200.3 568.5 1200.3 570 1200.3 571.5 1200.3 572.5 1200.3Z" fill="#F5DEB3" stroke="#000" stroke-width="1.25" stroke-linejoin="round"/>
<path d="M79.25 1200.5H572.5" stroke="#000" stroke-width="1.25"/>
<g clip-path="url(#c3)">
<path d="M326.03 1220.25V687.75" stroke="#CD2626" stroke-width="1.5" stroke-dasharray="6 6" stroke-linecap="square" fill="none"/>
</g>
<rect x="59.75" y="687.75" width="532.5" height="532.5" fill="none" stroke="#000" stroke-width="0.75" stroke-linejoin="round"/>
<path d="M140.25 1220.25H565.25M140.25 1220.25v6.2M246.5 1220.25v6.2M352.75 1220.25v6.2M459 1220.25v6.2M565.25 1220.25v6.2" stroke="#000" stroke-width="0.75" fill="none"/>
<text x="140.05" y="1241.9" text-anchor="middle" class="tk">60</text>
<text x="246.3" y="1241.9" text-anchor="middle" class="tk">70</text>
<text x="352.55" y="1241.9" text-anchor="middle" class="tk">80</text>
<text x="458.8" y="1241.9" text-anchor="middle" class="tk">90</text>
<text x="565.05" y="1241.9" text-anchor="middle" class="tk">100</text>
<path d="M59.75 722.3V1200.5M59.75 1200.5h-6.2M59.75 1080.95h-6.2M59.75 961.4h-6.2M59.75 841.85h-6.2M59.75 722.3h-6.2" stroke="#000" stroke-width="0.75" fill="none"/>
<text transform="translate(45.1 1200.9) rotate(-90)" text-anchor="middle" class="tk">0.00</text>
<text transform="translate(45.1 1081.35) rotate(-90)" text-anchor="middle" class="tk">0.02</text>
<text transform="translate(45.1 961.8) rotate(-90)" text-anchor="middle" class="tk">0.04</text>
<text transform="translate(45.1 842.25) rotate(-90)" text-anchor="middle" class="tk">0.06</text>
<text transform="translate(45.1 722.7) rotate(-90)" text-anchor="middle" class="tk">0.08</text>
<text x="326.4" y="671.8" text-anchor="middle" class="ti" textLength="298.6" lengthAdjust="spacing">Motif score threshold: 77.500</text>
<text x="325.7" y="1265.9" text-anchor="middle" class="la" textLength="77.6" lengthAdjust="spacing">Motif score</text>
<text transform="translate(22.1 953.6) rotate(-90)" text-anchor="middle" class="la" textLength="53.8" lengthAdjust="spacing">Density</text>
<!-- panel 4 -->
<path d="M719.49 1200.5 719.49 1198.13 720.48 1198.17 721.48 1198.27 722.47 1198.38 723.47 1198.4 724.46 1198.32 725.46 1198.14 726.45 1198.05 727.44 1198.12 728.44 1198.17 729.43 1198.11 730.43 1198.08 731.42 1198.16 732.42 1198.23 733.41 1198.2 734.41 1198.23 735.4 1198.38 736.4 1198.55 737.39 1198.69 738.39 1198.73 739.38 1198.66 740.38 1198.52 741.38 1198.37 742.37 1198.23 743.37 1198.22 744.36 1198.4 745.36 1198.54 746.35 1198.46 747.35 1198.31 748.34 1198.31 749.34 1198.41 750.33 1198.44 751.33 1198.39 752.32 1198.26 753.32 1198.14 754.31 1198.11 755.31 1198.08 756.3 1198.05 757.29 1198.1 758.29 1198.13 759.28 1198.13 760.28 1198.19 761.27 1198.2 762.27 1198.1 763.26 1198.05 764.26 1198.08 765.25 1198.06 766.25 1198.01 767.25 1197.91 768.24 1197.8 769.24 1197.89 770.23 1198.07 771.23 1198.08 772.22 1198.01 773.22 1197.96 774.21 1197.94 775.21 1197.89 776.2 1197.82 777.19 1197.84 778.19 1197.98 779.18 1198.09 780.18 1198.14 781.17 1198.22 782.17 1198.28 783.16 1198.23 784.16 1198.05 785.15 1197.9 786.15 1197.96 787.14 1198.15 788.14 1198.25 789.13 1198.28 790.13 1198.33 791.12 1198.24 792.12 1198.01 793.12 1197.83 794.11 1197.86 795.11 1198 796.1 1198.05 797.1 1197.96 798.09 1197.89 799.09 1197.96 800.08 1198.02 801.08 1198.03 802.07 1198.07 803.07 1198.16 804.06 1198.2 805.06 1198.13 806.05 1197.97 807.04 1197.82 808.04 1197.79 809.03 1197.76 810.03 1197.29 811.02 1196.76 812.02 1197.26 813.01 1197.8 814.01 1198.01 815 1198.16 816 1198.3 817 1198.47 817.99 1198.52 818.99 1198.38 819.98 1198.15 820.98 1197.89 821.97 1197.79 822.97 1197.93 823.96 1198.04 824.96 1197.99 825.95 1197.94 826.94 1197.95 827.94 1197.93 828.93 1197.89 829.93 1197.95 830.92 1198.06 831.92 1198.1 832.91 1198.12 833.91 1198.13 834.9 1198.09 835.9 1198 836.89 1197.9 837.89 1197.89 838.88 1197.98 839.88 1198.12 840.88 1198.28 841.87 1198.4 842.87 1198.37 843.86 1198.29 844.86 1198.25 845.85 1198.2 846.85 1198.14 847.84 1198.06 848.84 1197.98 849.83 1197.94 850.83 1197.98 851.82 1197.95 852.82 1197.77 853.81 1197.68 854.81 1197.8 855.8 1197.97 856.79 1198.04 857.79 1198 858.78 1197.94 859.78 1197.97 860.77 1198.06 861.77 1198.15 862.76 1198.18 863.76 1198.06 864.75 1197.87 865.75 1197.76 866.75 1197.77 867.74 1197.89 868.74 1198.02 869.73 1198.06 870.73 1198.04 871.72 1198.02 872.72 1198.04 873.71 1198.12 874.71 1198.14 875.7 1198 876.7 1197.86 877.69 1197.91 878.68 1197.94 879.68 1197.83 880.67 1197.8 881.67 1197.94 882.66 1198.07 883.66 1198.12 884.65 1198.07 885.65 1197.9 886.64 1197.8 887.64 1197.82 888.63 1197.84 889.63 1197.84 890.62 1197.87 891.62 1197.96 892.62 1198 893.61 1197.9 894.61 1197.73 895.6 1197.66 896.6 1197.68 897.59 1197.72 898.59 1197.76 899.58 1197.72 900.58 1197.65 901.57 1197.64 902.57 1197.6 903.56 1197.48 904.55 1197.35 905.55 1197.35 906.54 1197.49 907.54 1197.66 908.53 1197.64 909.53 1197.44 910.52 1197.31 911.52 1197.29 912.51 1197.25 913.51 1197.17 914.5 1197.13 915.5 1197.17 916.5 1197.22 917.49 1197.26 918.49 1197.28 919.48 1197.19 920.48 1197.02 921.47 1196.85 922.47 1196.78 923.46 1196.96 924.46 1197.28 925.45 1197.4 926.45 1197.3 927.44 1197.19 928.43 1197.1 929.43 1197.13 930.42 1197.29 931.42 1197.28 932.41 1197.04 933.41 1196.82 934.4 1196.74 935.4 1196.75 935.65 1196.87 935.9 1196.92 936.15 1196.9 936.39 1196.88 936.64 1196.79 936.89 1196.6 937.14 1196.47 937.39 1196.5 937.64 1196.61 937.89 1196.69 938.14 1196.68 938.38 1196.58 938.63 1196.45 938.88 1196.31 939.13 1196.13 939.38 1195.94 939.63 1195.88 939.88 1195.95 940.13 1195.96 940.38 1195.96 940.62 1196.03 940.87 1196.05 941.12 1195.89 941.37 1195.68 941.62 1195.56 941.87 1195.49 942.12 1195.37 942.37 1195.3 942.61 1195.42 942.86 1195.61 943.11 1195.71 943.36 1195.74 943.61 1195.58 943.86 1195.11 944.11 1194.68 944.36 1194.57 944.6 1194.58 944.85 1194.4 945.1 1194.11 945.35 1193.91 945.6 1193.87 945.85 1193.69 946.1 1193.46 946.35 1193.2 946.59 1192.91 946.84 1192.58 947.09 1192.22 947.34 1191.84 947.59 1191.42 947.84 1190.99 948.09 1190.53 948.34 1190.06 948.58 1189.56 948.83 1189.02 949.08 1188.43 949.33 1187.79 949.58 1187.08 949.83 1186.3 950.08 1185.46 950.33 1184.54 950.57 1183.55 950.82 1182.47 951.07 1181.3 951.32 1180.05 951.57 1178.64 951.82 1176.84 952.07 1174.68 952.32 1172.2 952.56 1169.48 952.81 1166.55 953.06 1163.48 953.31 1160.14 953.56 1156.39 953.81 1152.26 954.06 1147.79 954.3 1143.01 954.55 1137.94 954.8 1132.63 955.05 1126.82 955.3 1120.34 955.55 1113.32 955.8 1105.91 956.05 1098.25 956.29 1090.47 956.54 1082.71 956.79 1075.12 957.04 1067.77 957.29 1060.45 957.54 1053.12 957.79 1045.76 958.04 1038.35 958.28 1030.87 958.53 1023.3 958.78 1015.62 959.03 1007.85 959.28 1000.21 959.53 992.63 959.78 984.92 960.03 976.94 960.27 968.51 960.52 959.48 960.77 949.67 961.02 938.93 961.27 927.35 961.52 915.05 961.77 902.16 962.02 888.79 962.26 875.08 962.51 861.15 962.76 847.11 963.01 833.09 963.26 818.74 963.51 803.38 963.76 787.52 964.01 771.65 964.25 756.28 964.5 741.95 964.75 729.1 965 717.54 965.25 706.9 965.5 717.54 965.75 729.1 966 741.95 966.25 756.28 966.49 771.65 966.74 787.52 966.99 803.38 967.24 818.74 967.49 833.09 967.74 847.11 967.99 861.15 968.24 875.08 968.48 888.79 968.73 902.16 968.98 915.05 969.23 927.35 969.48 938.93 969.73 949.67 969.98 959.48 970.23 968.51 970.47 976.94 970.72 984.92 970.97 992.63 971.22 1000.21 971.47 1007.85 971.72 1015.62 971.97 1023.3 972.22 1030.87 972.46 1038.35 972.71 1045.76 972.96 1053.12 973.21 1060.45 973.46 1067.77 973.71 1075.12 973.96 1082.71 974.21 1090.47 974.45 1098.25 974.7 1105.91 974.95 1113.32 975.2 1120.34 975.45 1126.82 975.7 1132.63 975.95 1137.94 976.2 1143.01 976.44 1147.79 976.69 1152.26 976.94 1156.39 977.19 1160.14 977.44 1163.48 977.69 1166.55 977.94 1169.48 978.18 1172.2 978.43 1174.68 978.68 1176.84 978.93 1178.64 979.18 1180.05 979.43 1181.3 979.68 1182.47 979.93 1183.55 980.17 1184.54 980.42 1185.46 980.67 1186.3 980.92 1187.08 981.17 1187.79 981.42 1188.43 981.67 1189.02 981.92 1189.56 982.16 1190.06 982.41 1190.53 982.66 1190.99 982.91 1191.42 983.16 1191.84 983.41 1192.22 983.66 1192.58 983.91 1192.91 984.15 1193.2 984.4 1193.46 984.65 1193.69 984.9 1193.87 985.15 1193.69 985.4 1193.93 985.65 1194.25 985.9 1194.57 986.14 1194.77 986.39 1194.8 986.64 1194.8 986.89 1194.86 987.14 1194.92 987.39 1195.08 987.64 1195.32 987.89 1195.48 988.13 1195.54 988.38 1195.61 988.63 1195.73 988.88 1195.86 989.13 1195.98 989.38 1196.09 989.63 1196.11 989.88 1196.03 990.12 1196.03 990.37 1196.17 990.62 1196.28 990.87 1196.32 991.12 1196.29 991.37 1196.2 991.62 1196.14 991.87 1196.16 992.12 1196.26 992.36 1196.37 992.61 1196.45 992.86 1196.47 993.11 1196.42 993.36 1196.39 993.61 1196.43 993.86 1196.55 994.11 1196.66 994.35 1196.62 994.6 1196.53 994.85 1196.55 995.1 1196.69 996.1 1196.89 997.09 1197 998.09 1197.07 999.08 1197.2 1000.08 1197.26 1001.07 1197.16 1002.07 1197.14 1003.06 1197.34 1004.05 1197.5 1005.05 1197.53 1006.04 1197.47 1007.04 1197.42 1008.03 1197.44 1009.03 1197.43 1010.02 1197.39 1011.02 1197.41 1012.01 1197.51 1013.01 1197.67 1014 1197.78 1015 1197.66 1016 1197.42 1016.99 1197.36 1017.99 1197.41 1018.98 1197.43 1019.98 1197.41 1020.97 1197.35 1021.97 1197.41 1022.96 1197.7 1023.96 1197.97 1024.95 1198.01 1025.94 1197.85 1026.94 1197.64 1027.93 1197.63 1028.93 1197.81 1029.92 1197.91 1030.92 1197.83 1031.91 1197.83 1032.91 1197.94 1033.9 1197.93 1034.9 1197.83 1035.89 1197.8 1036.89 1197.9 1037.88 1198.03 1038.88 1198.07 1039.88 1197.9 1040.87 1197.66 1041.87 1197.64 1042.86 1197.87 1043.86 1198.12 1044.85 1198.21 1045.85 1198.1 1046.84 1197.95 1047.84 1197.91 1048.83 1197.97 1049.83 1198.01 1050.82 1197.92 1051.82 1197.71 1052.81 1197.5 1053.81 1197.51 1054.8 1197.74 1055.8 1197.95 1056.79 1198.05 1057.79 1198.09 1058.78 1198.1 1059.78 1198.08 1060.77 1198.02 1061.77 1197.93 1062.76 1197.88 1063.76 1197.92 1064.75 1198.02 1065.74 1198.13 1066.74 1198.17 1067.73 1198.12 1068.73 1198.05 1069.72 1198.01 1070.72 1198.07 1071.71 1198.16 1072.71 1198.22 1073.7 1198.25 1074.7 1198.27 1075.69 1198.3 1076.69 1198.28 1077.68 1198.15 1078.68 1198.02 1079.67 1198.03 1080.67 1198.09 1081.66 1198.16 1082.66 1198.19 1083.65 1198.17 1084.65 1198.13 1085.64 1198.13 1086.64 1198.12 1087.63 1198.04 1088.63 1197.99 1089.62 1198 1090.62 1198.04 1091.62 1198.09 1092.61 1198.11 1093.61 1198.02 1094.6 1197.91 1095.6 1197.89 1096.59 1197.95 1097.59 1198.02 1098.58 1197.99 1099.58 1197.89 1100.57 1197.9 1101.57 1198.01 1102.56 1198.06 1103.56 1197.89 1104.55 1197.71 1105.55 1197.74 1106.54 1197.93 1107.54 1198.07 1108.53 1198.1 1109.53 1198.22 1110.52 1198.37 1111.51 1198.4 1112.51 1198.41 1113.51 1198.36 1114.5 1198.15 1115.49 1197.95 1116.49 1197.86 1117.48 1197.73 1118.48 1197.57 1119.47 1197.62 1120.47 1197.87 1121.46 1198.13 1122.46 1198.26 1123.45 1198.19 1124.45 1198.02 1125.44 1197.9 1126.44 1197.87 1127.43 1197.92 1128.43 1197.99 1129.42 1197.96 1130.42 1197.84 1131.41 1197.75 1132.41 1197.75 1133.4 1197.86 1134.4 1197.99 1135.39 1198.14 1136.39 1198.29 1137.38 1198.3 1138.38 1198.15 1139.38 1198.08 1140.37 1198.17 1141.37 1198.31 1142.36 1198.36 1143.36 1198.39 1144.35 1198.48 1145.35 1198.48 1146.34 1198.25 1147.34 1198.02 1148.33 1197.99 1149.33 1198.06 1150.32 1198.12 1151.32 1198.24 1152.31 1198.37 1153.31 1198.24 1154.3 1197.95 1155.3 1197.71 1156.29 1197.6 1157.29 1197.65 1158.28 1197.78 1159.28 1197.88 1160.27 1197.95 1161.26 1198.01 1162.26 1197.94 1163.26 1197.77 1164.25 1197.72 1165.24 1197.86 1166.24 1197.96 1167.23 1197.9 1168.23 1197.83 1169.22 1197.83 1170.22 1197.93 1171.21 1198.09 1172.21 1198.15 1173.2 1198.06 1174.2 1197.96 1175.19 1198.06 1176.19 1198.26 1177.18 1198.34 1178.18 1198.3 1179.17 1198.32 1180.17 1198.26 1181.16 1198.07 1182.16 1197.95 1183.15 1197.97 1184.15 1198 1185.14 1197.98 1186.14 1197.98 1187.13 1198.07 1188.13 1198.22 1189.12 1198.29 1190.12 1198.25 1191.12 1198.16 1192.11 1198.1 1193.11 1198.14 1194.1 1198.21 1195.1 1198.2 1196.09 1198.14 1197.09 1198.11 1198.08 1198.13 1199.08 1198.02 1200.07 1197.72 1201.07 1197.51 1202.06 1197.56 1203.06 1197.77 1204.05 1197.87 1205.05 1197.93 1206.04 1198.09 1207.04 1198.22 1208.03 1198.22 1209.03 1198.26 1210.02 1198.46 1211.01 1198.65 1211.01 1200.5Z" fill="#F5DEB3" stroke="#000" stroke-width="1.25" stroke-linejoin="round"/>
<path d="M719.49 1200.5H1211.01" stroke="#000" stroke-width="1.25"/>
<g clip-path="url(#c4)">
<path d="M938 1220.25V687.75" stroke="#006400" stroke-width="1.5" stroke-dasharray="6 6" stroke-linecap="square" fill="none"/>
<path d="M992.93 1220.25V687.75" stroke="#006400" stroke-width="1.5" stroke-dasharray="6 6" stroke-linecap="square" fill="none"/>
</g>
<rect x="699.75" y="687.75" width="532.5" height="532.5" fill="none" stroke="#000" stroke-width="0.75" stroke-linejoin="round"/>
<path d="M766.25 1220.25H1164.25M766.25 1220.25v6.2M865.75 1220.25v6.2M965.25 1220.25v6.2M1064.75 1220.25v6.2M1164.25 1220.25v6.2" stroke="#000" stroke-width="0.75" fill="none"/>
<text x="766.05" y="1241.9" text-anchor="middle" class="tk">-400</text>
<text x="865.55" y="1241.9" text-anchor="middle" class="tk">-200</text>
<text x="964.65" y="1241.9" text-anchor="middle" class="tk">0</text>
<text x="1064.55" y="1241.9" text-anchor="middle" class="tk">200</text>
<text x="1164.05" y="1241.9" text-anchor="middle" class="tk">400</text>
<path d="M699.75 706.9V1200.5M699.75 1200.5h-6.2M699.75 1077.1h-6.2M699.75 953.7h-6.2M699.75 830.3h-6.2M699.75 706.9h-6.2" stroke="#000" stroke-width="0.75" fill="none"/>
<text transform="translate(685.1 1200.9) rotate(-90)" text-anchor="middle" class="tk">0.00</text>
<text transform="translate(685.1 1077.5) rotate(-90)" text-anchor="middle" class="tk">0.01</text>
<text transform="translate(685.1 954.1) rotate(-90)" text-anchor="middle" class="tk">0.02</text>
<text transform="translate(685.1 830.7) rotate(-90)" text-anchor="middle" class="tk">0.03</text>
<text transform="translate(685.1 707.3) rotate(-90)" text-anchor="middle" class="tk">0.04</text>
<text x="966" y="671.8" text-anchor="middle" class="ti" textLength="240.1" lengthAdjust="spacing">Enrichment zone: 55.00</text>
<text x="966.3" y="1265.9" text-anchor="middle" class="la" textLength="174.8" lengthAdjust="spacing">Distance to peak summit</text>
<text transform="translate(662.1 953.6) rotate(-90)" text-anchor="middle" class="la" textLength="53.8" lengthAdjust="spacing">Density</text>
<path d="M1017.44 703.4H1041.1" stroke="#006400" stroke-width="1.125" stroke-dasharray="1.125 3.375" stroke-linecap="round" fill="none"/>
<path d="M1017.44 718.9H1041.1" stroke="#CD3333" stroke-opacity="0.85" stroke-width="1.125" stroke-dasharray="1.125 3.375" stroke-linecap="round" fill="none"/>
<path d="M1027 732h4v1h1v3h-1v1h-4v-1h-1v-3h1z" fill="#0000FF" shape-rendering="crispEdges"/>
<text x="1052.3" y="707.8" class="lg" textLength="123.8" lengthAdjust="spacing">enrichment zone = 55</text>
<text x="1052.3" y="723.6" class="lg" textLength="173.3" lengthAdjust="spacing">motif score threshold = 77.500</text>
<text x="1052.3" y="739.2" class="lg" textLength="154.4" lengthAdjust="spacing">centrality p-val = -131.7535</text>
</svg>
</body></html>
